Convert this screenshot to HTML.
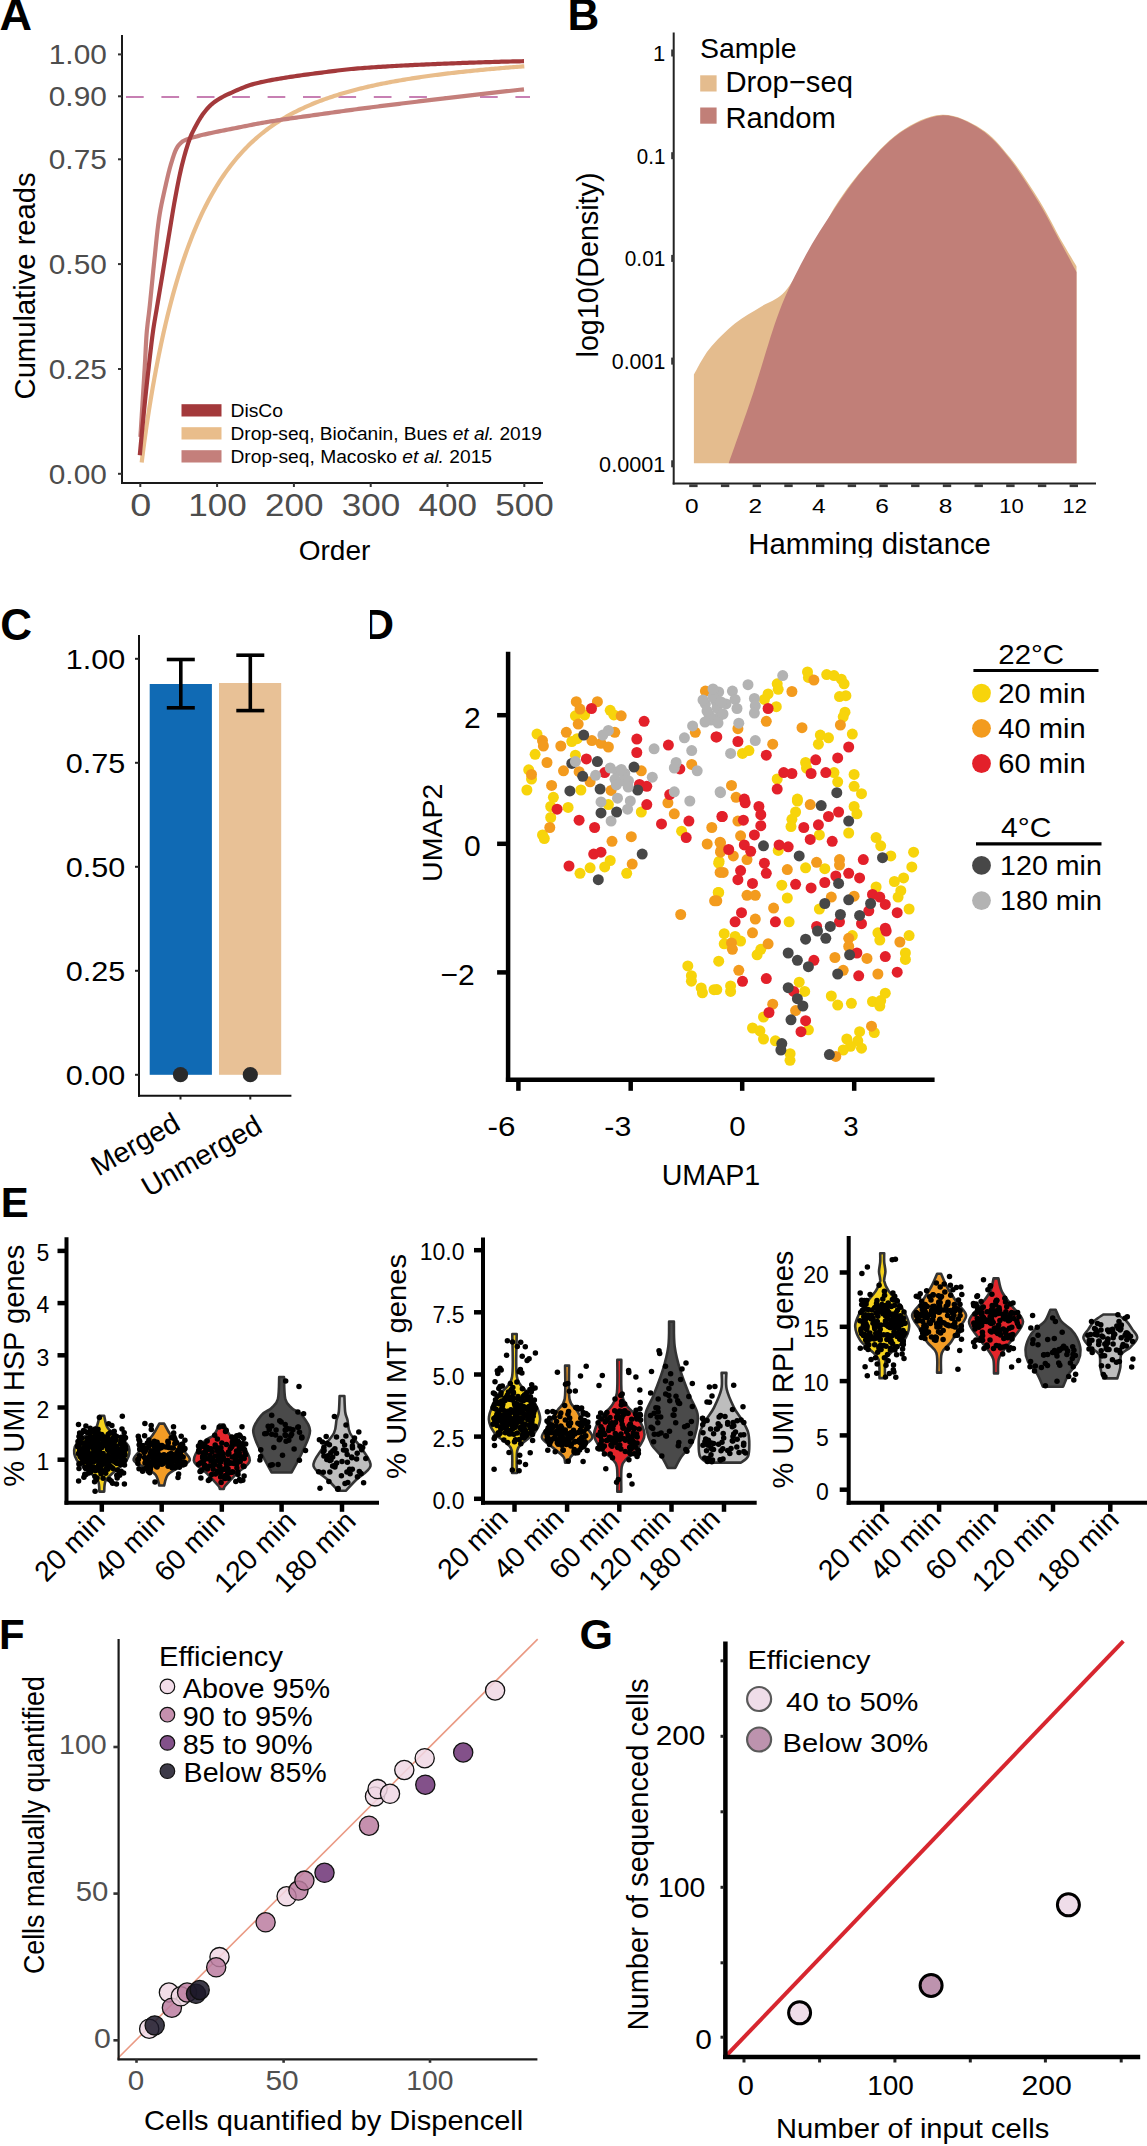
<!DOCTYPE html>
<html><head><meta charset="utf-8"><style>
html,body{margin:0;padding:0;background:#fff;}
svg{display:block;}
text{font-family:"Liberation Sans", sans-serif;}
</style></head><body>
<svg width="1147" height="2146" viewBox="0 0 1147 2146">
<rect width="1147" height="2146" fill="#fff"/>
<text x="-0.5" y="30.3" font-size="45" text-anchor="start" fill="#000" font-weight="bold">A</text>
<line x1="122.0" y1="97.0" x2="530.0" y2="97.0" stroke="#c77fb3" stroke-width="2.2" stroke-dasharray="17.7 17.7" stroke-dashoffset="-4"/>
<path d="M141.68,462.57 L141.86,461.05 L142.05,459.54 L142.23,458.06 L142.41,456.59 L142.59,455.13 L142.77,453.69 L142.96,452.26 L143.14,450.84 L143.32,449.44 L143.50,448.05 L143.68,446.66 L143.87,445.29 L144.05,443.93 L144.23,442.58 L144.41,441.24 L144.59,439.90 L144.78,438.58 L144.96,437.26 L145.14,435.96 L145.32,434.66 L145.50,433.37 L145.69,432.09 L145.87,430.81 L146.05,429.55 L146.23,428.29 L146.41,427.04 L146.60,425.79 L146.78,424.56 L146.96,423.33 L147.14,422.11 L147.32,420.89 L147.51,419.68 L147.69,418.48 L147.87,417.28 L148.05,416.09 L148.23,414.91 L148.42,413.73 L148.60,412.56 L148.78,411.40 L148.96,410.24 L149.14,409.09 L149.33,407.94 L149.51,406.80 L149.69,405.67 L149.87,404.54 L150.05,403.41 L150.24,402.30 L150.42,401.18 L150.60,400.08 L150.78,398.97 L150.96,397.88 L151.15,396.79 L151.33,395.70 L151.51,394.62 L151.69,393.55 L151.87,392.47 L152.06,391.41 L152.24,390.35 L152.42,389.29 L152.60,388.24 L152.78,387.20 L152.97,386.16 L153.15,385.12 L153.33,384.09 L153.51,383.06 L153.69,382.04 L153.88,381.02 L154.06,380.01 L154.24,379.00 L154.42,378.00 L154.60,377.00 L154.79,376.01 L154.97,375.02 L155.15,374.03 L155.33,373.05 L155.51,372.07 L155.70,371.10 L155.88,370.13 L156.06,369.17 L156.24,368.21 L156.42,367.25 L156.61,366.30 L156.79,365.35 L156.97,364.41 L157.15,363.47 L157.33,362.53 L157.52,361.60 L157.70,360.67 L157.88,359.75 L158.06,358.83 L158.24,357.91 L158.43,357.00 L158.61,356.09 L158.79,355.18 L158.97,354.28 L159.15,353.39 L159.34,352.49 L159.52,351.60 L159.70,350.72 L159.88,349.83 L160.06,348.96 L160.25,348.08 L160.43,347.21 L160.61,346.34 L160.79,345.48 L160.97,344.62 L161.16,343.76 L161.34,342.90 L161.52,342.05 L161.70,341.21 L161.88,340.36 L162.07,339.52 L162.25,338.69 L162.43,337.85 L162.61,337.02 L162.79,336.20 L162.98,335.37 L163.16,334.55 L163.34,333.73 L163.72,332.02 L165.54,324.13 L167.35,316.53 L169.16,309.23 L170.97,302.19 L172.78,295.41 L174.60,288.87 L176.41,282.57 L178.22,276.50 L180.03,270.63 L181.84,264.97 L183.66,259.51 L185.47,254.23 L187.28,249.13 L189.09,244.20 L190.90,239.44 L192.72,234.83 L194.53,230.38 L196.34,226.07 L198.15,221.90 L199.96,217.86 L201.77,213.95 L203.59,210.17 L205.40,206.51 L207.21,202.96 L209.02,199.52 L210.83,196.19 L212.65,192.96 L214.46,189.83 L216.27,186.79 L218.08,183.85 L219.89,180.99 L221.71,178.22 L223.52,175.53 L225.33,172.92 L227.14,170.39 L228.95,167.93 L230.77,165.54 L232.58,163.22 L234.39,160.97 L236.20,158.78 L238.01,156.65 L239.83,154.58 L241.64,152.57 L243.45,150.62 L245.26,148.72 L247.07,146.87 L248.89,145.07 L250.70,143.32 L252.51,141.62 L254.32,139.96 L256.13,138.34 L257.94,136.77 L259.76,135.24 L261.57,133.75 L263.38,132.30 L265.19,130.89 L267.00,129.51 L268.82,128.17 L270.63,126.86 L272.44,125.58 L274.25,124.34 L276.06,123.12 L277.88,121.94 L279.69,120.78 L281.50,119.66 L283.31,118.56 L285.12,117.48 L286.94,116.43 L288.75,115.41 L290.56,114.41 L292.37,113.43 L294.18,112.48 L296.00,111.55 L297.81,110.64 L299.62,109.75 L301.43,108.88 L303.24,108.03 L305.06,107.20 L306.87,106.38 L308.68,105.59 L310.49,104.81 L312.30,104.05 L314.11,103.30 L315.93,102.57 L317.74,101.86 L319.55,101.16 L321.36,100.47 L323.17,99.80 L324.99,99.14 L326.80,98.50 L328.61,97.87 L330.42,97.25 L332.23,96.64 L334.05,96.05 L335.86,95.47 L337.67,94.90 L339.48,94.34 L341.29,93.79 L343.11,93.25 L344.92,92.72 L346.73,92.20 L348.54,91.69 L350.35,91.19 L352.17,90.70 L353.98,90.22 L355.79,89.75 L357.60,89.28 L359.41,88.83 L361.23,88.38 L363.04,87.94 L364.85,87.50 L366.66,87.08 L368.47,86.66 L370.29,86.25 L372.10,85.84 L373.91,85.45 L375.72,85.06 L377.53,84.67 L379.34,84.29 L381.16,83.92 L382.97,83.56 L384.78,83.20 L386.59,82.84 L388.40,82.49 L390.22,82.15 L392.03,81.81 L393.84,81.48 L395.65,81.15 L397.46,80.83 L399.28,80.51 L401.09,80.20 L402.90,79.89 L404.71,79.59 L406.52,79.29 L408.34,78.99 L410.15,78.70 L411.96,78.42 L413.77,78.13 L415.58,77.86 L417.40,77.58 L419.21,77.31 L421.02,77.04 L422.83,76.78 L424.64,76.52 L426.46,76.27 L428.27,76.01 L430.08,75.77 L431.89,75.52 L433.70,75.28 L435.51,75.04 L437.33,74.80 L439.14,74.57 L440.95,74.34 L442.76,74.11 L444.57,73.89 L446.39,73.67 L448.20,73.45 L450.01,73.24 L451.82,73.02 L453.63,72.81 L455.45,72.61 L457.26,72.40 L459.07,72.20 L460.88,72.00 L462.69,71.80 L464.51,71.61 L466.32,71.42 L468.13,71.23 L469.94,71.04 L471.75,70.85 L473.57,70.67 L475.38,70.49 L477.19,70.31 L479.00,70.13 L480.81,69.96 L482.63,69.79 L484.44,69.62 L486.25,69.45 L488.06,69.28 L489.87,69.12 L491.69,68.95 L493.50,68.79 L495.31,68.63 L497.12,68.48 L498.93,68.32 L500.74,68.17 L502.56,68.01 L504.37,67.86 L506.18,67.71 L507.99,67.57 L509.80,67.42 L511.62,67.28 L513.43,67.14 L515.24,67.00 L517.05,66.86 L518.86,66.72 L520.68,66.58 L522.49,66.45 L524.30,66.31" fill="none" stroke="#e9bd8b" stroke-width="4.2"/>
<path d="M140.40,437.00 L140.54,434.84 L140.67,432.68 L140.81,430.52 L140.94,428.36 L141.08,426.21 L141.21,424.05 L141.34,421.89 L141.48,419.73 L141.61,417.57 L141.75,415.41 L141.88,413.25 L142.02,411.09 L142.15,408.93 L142.28,406.78 L142.42,404.62 L142.55,402.46 L142.68,400.30 L142.82,398.14 L142.95,395.98 L143.09,393.82 L143.22,391.66 L143.35,389.50 L143.49,387.34 L143.62,385.19 L143.76,383.03 L143.89,380.87 L144.03,378.71 L144.16,376.55 L144.29,374.39 L144.42,372.23 L144.55,370.07 L144.69,367.91 L144.81,365.75 L144.94,363.59 L145.07,361.44 L145.19,359.28 L145.30,357.11 L145.41,354.95 L145.52,352.79 L145.62,350.63 L145.73,348.47 L145.84,346.31 L145.96,344.15 L146.08,341.99 L146.21,339.83 L146.34,337.67 L146.49,335.52 L146.65,333.36 L146.83,331.21 L147.04,329.06 L147.27,326.91 L147.51,324.76 L147.76,322.61 L148.03,320.46 L148.29,318.31 L148.56,316.16 L148.83,314.02 L149.09,311.87 L149.33,309.72 L149.57,307.57 L149.80,305.42 L150.02,303.26 L150.24,301.11 L150.46,298.96 L150.68,296.81 L150.89,294.66 L151.11,292.50 L151.32,290.35 L151.53,288.20 L151.74,286.05 L151.96,283.89 L152.17,281.74 L152.38,279.59 L152.59,277.43 L152.80,275.28 L153.02,273.13 L153.23,270.98 L153.45,268.82 L153.67,266.67 L153.89,264.52 L154.12,262.37 L154.34,260.22 L154.57,258.07 L154.80,255.92 L155.02,253.76 L155.24,251.61 L155.46,249.45 L155.68,247.30 L155.90,245.15 L156.12,242.99 L156.34,240.84 L156.57,238.68 L156.80,236.53 L157.03,234.38 L157.28,232.23 L157.52,230.08 L157.78,227.93 L158.05,225.79 L158.32,223.65 L158.61,221.50 L158.90,219.37 L159.21,217.23 L159.54,215.10 L159.89,212.97 L160.26,210.84 L160.65,208.71 L161.06,206.59 L161.48,204.46 L161.92,202.34 L162.36,200.22 L162.82,198.11 L163.29,195.99 L163.76,193.87 L164.23,191.76 L164.70,189.65 L165.18,187.54 L165.65,185.43 L166.13,183.32 L166.61,181.21 L167.09,179.09 L167.59,176.98 L168.09,174.87 L168.61,172.77 L169.15,170.67 L169.70,168.58 L170.28,166.50 L170.88,164.43 L171.50,162.37 L172.14,160.28 L172.79,158.16 L173.47,156.04 L174.19,153.94 L174.97,151.90 L175.83,149.93 L176.77,148.07 L177.84,146.32 L179.19,144.59 L180.76,142.96 L182.46,141.57 L184.21,140.51 L186.11,139.64 L188.13,138.89 L190.24,138.21 L192.38,137.60 L194.52,137.00 L196.60,136.42 L198.68,135.86 L200.78,135.33 L202.88,134.82 L204.99,134.33 L207.11,133.85 L209.22,133.39 L211.34,132.93 L213.45,132.47 L215.57,132.02 L217.69,131.58 L219.81,131.15 L221.93,130.73 L224.05,130.32 L226.17,129.91 L228.30,129.50 L230.42,129.09 L232.55,128.68 L234.67,128.26 L236.79,127.84 L238.91,127.42 L241.04,126.99 L243.16,126.56 L245.28,126.12 L247.40,125.69 L249.52,125.26 L251.64,124.84 L253.76,124.42 L255.88,124.01 L258.01,123.60 L260.14,123.21 L262.26,122.83 L264.39,122.47 L266.53,122.11 L268.66,121.76 L270.79,121.41 L272.93,121.07 L275.06,120.73 L277.20,120.40 L279.34,120.08 L281.48,119.76 L283.62,119.44 L285.76,119.12 L287.90,118.81 L290.04,118.51 L292.18,118.20 L294.32,117.90 L296.47,117.59 L298.61,117.29 L300.75,116.99 L302.90,116.70 L305.04,116.40 L307.18,116.10 L309.33,115.80 L311.47,115.50 L313.61,115.20 L315.75,114.90 L317.90,114.60 L320.04,114.29 L322.18,113.99 L324.32,113.68 L326.46,113.38 L328.60,113.07 L330.75,112.77 L332.89,112.47 L335.03,112.16 L337.17,111.86 L339.31,111.56 L341.46,111.26 L343.60,110.97 L345.74,110.67 L347.89,110.38 L350.03,110.09 L352.17,109.80 L354.32,109.51 L356.46,109.23 L358.60,108.94 L360.75,108.66 L362.89,108.38 L365.04,108.10 L367.18,107.83 L369.33,107.55 L371.48,107.28 L373.62,107.00 L375.77,106.73 L377.91,106.46 L380.06,106.19 L382.21,105.92 L384.35,105.65 L386.50,105.38 L388.64,105.12 L390.79,104.85 L392.94,104.59 L395.09,104.32 L397.23,104.06 L399.38,103.80 L401.53,103.53 L403.67,103.27 L405.82,103.01 L407.97,102.75 L410.12,102.49 L412.26,102.23 L414.41,101.97 L416.56,101.71 L418.71,101.46 L420.85,101.20 L423.00,100.94 L425.15,100.68 L427.30,100.43 L429.45,100.17 L431.59,99.91 L433.74,99.66 L435.89,99.40 L438.04,99.15 L440.19,98.89 L442.33,98.64 L444.48,98.38 L446.63,98.13 L448.78,97.87 L450.93,97.62 L453.07,97.37 L455.22,97.12 L457.37,96.86 L459.52,96.61 L461.67,96.36 L463.82,96.11 L465.97,95.86 L468.11,95.61 L470.26,95.36 L472.41,95.12 L474.56,94.87 L476.71,94.62 L478.86,94.37 L481.01,94.13 L483.16,93.88 L485.31,93.64 L487.45,93.39 L489.60,93.15 L491.75,92.90 L493.90,92.66 L496.05,92.41 L498.20,92.17 L500.35,91.93 L502.50,91.69 L504.65,91.45 L506.80,91.21 L508.95,90.97 L511.10,90.73 L513.25,90.49 L515.40,90.25 L517.55,90.01 L519.70,89.77 L521.85,89.54 L524.00,89.30" fill="none" stroke="#c47f7b" stroke-width="4.2"/>
<path d="M139.80,455.20 L140.01,452.93 L140.21,450.67 L140.42,448.40 L140.63,446.13 L140.84,443.87 L141.06,441.60 L141.27,439.34 L141.48,437.07 L141.70,434.80 L141.91,432.54 L142.13,430.27 L142.35,428.01 L142.57,425.74 L142.79,423.48 L143.01,421.21 L143.23,418.95 L143.45,416.68 L143.68,414.42 L143.90,412.15 L144.12,409.89 L144.35,407.62 L144.58,405.36 L144.81,403.09 L145.04,400.83 L145.27,398.56 L145.50,396.30 L145.74,394.04 L145.97,391.77 L146.21,389.51 L146.46,387.25 L146.70,384.98 L146.95,382.72 L147.20,380.46 L147.45,378.20 L147.70,375.93 L147.95,373.67 L148.21,371.41 L148.47,369.15 L148.73,366.89 L148.99,364.63 L149.25,362.37 L149.52,360.11 L149.78,357.85 L150.04,355.59 L150.31,353.32 L150.57,351.06 L150.83,348.80 L151.09,346.54 L151.36,344.28 L151.63,342.02 L151.91,339.76 L152.19,337.50 L152.49,335.25 L152.79,332.99 L153.10,330.74 L153.42,328.48 L153.76,326.24 L154.12,323.99 L154.49,321.74 L154.87,319.50 L155.25,317.25 L155.64,315.01 L156.02,312.77 L156.41,310.52 L156.79,308.28 L157.16,306.03 L157.54,303.79 L157.91,301.54 L158.29,299.30 L158.66,297.05 L159.04,294.81 L159.42,292.57 L159.80,290.32 L160.17,288.08 L160.55,285.83 L160.93,283.59 L161.30,281.34 L161.68,279.10 L162.06,276.85 L162.43,274.61 L162.81,272.36 L163.18,270.12 L163.55,267.87 L163.92,265.63 L164.30,263.38 L164.67,261.14 L165.04,258.89 L165.41,256.65 L165.78,254.40 L166.15,252.15 L166.52,249.91 L166.89,247.66 L167.26,245.42 L167.63,243.17 L168.00,240.93 L168.37,238.68 L168.74,236.44 L169.12,234.19 L169.49,231.94 L169.86,229.70 L170.22,227.45 L170.59,225.21 L170.95,222.96 L171.32,220.71 L171.68,218.46 L172.05,216.22 L172.42,213.97 L172.80,211.73 L173.17,209.48 L173.56,207.24 L173.95,205.00 L174.34,202.76 L174.74,200.52 L175.15,198.28 L175.56,196.04 L175.98,193.80 L176.40,191.57 L176.82,189.33 L177.25,187.09 L177.69,184.86 L178.14,182.62 L178.59,180.39 L179.05,178.16 L179.52,175.93 L180.00,173.71 L180.49,171.49 L180.99,169.27 L181.51,167.06 L182.04,164.85 L182.59,162.64 L183.16,160.43 L183.74,158.23 L184.34,156.03 L184.96,153.84 L185.59,151.65 L186.24,149.47 L186.90,147.29 L187.58,145.12 L188.29,142.95 L189.03,140.79 L189.80,138.65 L190.62,136.54 L191.51,134.45 L192.47,132.39 L193.50,130.35 L194.56,128.33 L195.64,126.33 L196.73,124.32 L197.83,122.32 L198.97,120.33 L200.14,118.37 L201.35,116.45 L202.62,114.58 L203.96,112.76 L205.37,110.96 L206.84,109.19 L208.37,107.48 L209.96,105.85 L211.61,104.32 L213.34,102.88 L215.17,101.51 L217.07,100.21 L219.00,98.98 L220.95,97.83 L222.95,96.75 L224.98,95.72 L227.04,94.73 L229.11,93.78 L231.18,92.83 L233.26,91.89 L235.34,90.94 L237.43,90.01 L239.53,89.09 L241.64,88.20 L243.76,87.34 L245.89,86.52 L248.03,85.75 L250.17,85.03 L252.33,84.37 L254.50,83.78 L256.69,83.22 L258.89,82.68 L261.10,82.17 L263.32,81.69 L265.55,81.22 L267.79,80.78 L270.04,80.35 L272.29,79.93 L274.54,79.53 L276.79,79.14 L279.04,78.75 L281.29,78.37 L283.54,77.99 L285.78,77.62 L288.03,77.26 L290.27,76.90 L292.52,76.56 L294.77,76.22 L297.02,75.89 L299.28,75.57 L301.53,75.25 L303.79,74.94 L306.04,74.63 L308.30,74.32 L310.56,74.02 L312.82,73.73 L315.07,73.43 L317.33,73.14 L319.59,72.85 L321.84,72.56 L324.10,72.27 L326.36,71.97 L328.62,71.68 L330.88,71.38 L333.14,71.09 L335.39,70.81 L337.65,70.52 L339.91,70.25 L342.18,69.98 L344.44,69.72 L346.70,69.47 L348.96,69.24 L351.23,69.01 L353.49,68.80 L355.76,68.61 L358.02,68.43 L360.29,68.25 L362.56,68.08 L364.82,67.91 L367.09,67.74 L369.36,67.58 L371.63,67.42 L373.90,67.26 L376.17,67.11 L378.44,66.96 L380.71,66.82 L382.99,66.67 L385.26,66.53 L387.53,66.40 L389.80,66.26 L392.08,66.13 L394.35,66.00 L396.62,65.88 L398.90,65.75 L401.17,65.63 L403.45,65.51 L405.72,65.40 L407.99,65.28 L410.27,65.17 L412.54,65.06 L414.82,64.95 L417.09,64.84 L419.37,64.74 L421.64,64.64 L423.91,64.54 L426.19,64.44 L428.46,64.34 L430.74,64.24 L433.01,64.15 L435.28,64.05 L437.56,63.96 L439.83,63.86 L442.10,63.77 L444.38,63.68 L446.65,63.59 L448.92,63.49 L451.20,63.40 L453.47,63.32 L455.75,63.23 L458.02,63.14 L460.29,63.05 L462.57,62.97 L464.84,62.89 L467.12,62.80 L469.39,62.72 L471.67,62.64 L473.94,62.56 L476.22,62.48 L478.49,62.41 L480.77,62.33 L483.04,62.26 L485.32,62.18 L487.59,62.11 L489.87,62.04 L492.14,61.98 L494.42,61.91 L496.69,61.84 L498.97,61.78 L501.24,61.72 L503.52,61.66 L505.79,61.60 L508.07,61.54 L510.34,61.49 L512.62,61.44 L514.90,61.38 L517.17,61.34 L519.45,61.29 L521.72,61.24 L524.00,61.20" fill="none" stroke="#a3393b" stroke-width="4.2"/>
<line x1="122.0" y1="35.0" x2="122.0" y2="484.0" stroke="#1a1a1a" stroke-width="2"/>
<line x1="121.0" y1="483.0" x2="543.0" y2="483.0" stroke="#1a1a1a" stroke-width="2"/>
<line x1="118.0" y1="54.4" x2="122.0" y2="54.4" stroke="#333" stroke-width="2"/>
<text x="106.8" y="64.4" font-size="28" text-anchor="end" fill="#4d4d4d" textLength="58" lengthAdjust="spacingAndGlyphs">1.00</text>
<line x1="118.0" y1="96.3" x2="122.0" y2="96.3" stroke="#333" stroke-width="2"/>
<text x="106.8" y="106.3" font-size="28" text-anchor="end" fill="#4d4d4d" textLength="58" lengthAdjust="spacingAndGlyphs">0.90</text>
<line x1="118.0" y1="159.3" x2="122.0" y2="159.3" stroke="#333" stroke-width="2"/>
<text x="106.8" y="169.3" font-size="28" text-anchor="end" fill="#4d4d4d" textLength="58" lengthAdjust="spacingAndGlyphs">0.75</text>
<line x1="118.0" y1="264.1" x2="122.0" y2="264.1" stroke="#333" stroke-width="2"/>
<text x="106.8" y="274.1" font-size="28" text-anchor="end" fill="#4d4d4d" textLength="58" lengthAdjust="spacingAndGlyphs">0.50</text>
<line x1="118.0" y1="369.0" x2="122.0" y2="369.0" stroke="#333" stroke-width="2"/>
<text x="106.8" y="379.0" font-size="28" text-anchor="end" fill="#4d4d4d" textLength="58" lengthAdjust="spacingAndGlyphs">0.25</text>
<line x1="118.0" y1="473.8" x2="122.0" y2="473.8" stroke="#333" stroke-width="2"/>
<text x="106.8" y="483.8" font-size="28" text-anchor="end" fill="#4d4d4d" textLength="58" lengthAdjust="spacingAndGlyphs">0.00</text>
<line x1="140.3" y1="483.0" x2="140.3" y2="487.0" stroke="#333" stroke-width="2"/>
<text x="140.8" y="516.0" font-size="32" text-anchor="middle" fill="#4d4d4d" textLength="21" lengthAdjust="spacingAndGlyphs">0</text>
<line x1="217.1" y1="483.0" x2="217.1" y2="487.0" stroke="#333" stroke-width="2"/>
<text x="217.4" y="516.0" font-size="32" text-anchor="middle" fill="#4d4d4d" textLength="58.5" lengthAdjust="spacingAndGlyphs">100</text>
<line x1="293.9" y1="483.0" x2="293.9" y2="487.0" stroke="#333" stroke-width="2"/>
<text x="294.2" y="516.0" font-size="32" text-anchor="middle" fill="#4d4d4d" textLength="58.5" lengthAdjust="spacingAndGlyphs">200</text>
<line x1="370.7" y1="483.0" x2="370.7" y2="487.0" stroke="#333" stroke-width="2"/>
<text x="371.0" y="516.0" font-size="32" text-anchor="middle" fill="#4d4d4d" textLength="58.5" lengthAdjust="spacingAndGlyphs">300</text>
<line x1="447.5" y1="483.0" x2="447.5" y2="487.0" stroke="#333" stroke-width="2"/>
<text x="447.8" y="516.0" font-size="32" text-anchor="middle" fill="#4d4d4d" textLength="58.5" lengthAdjust="spacingAndGlyphs">400</text>
<line x1="524.3" y1="483.0" x2="524.3" y2="487.0" stroke="#333" stroke-width="2"/>
<text x="524.6" y="516.0" font-size="32" text-anchor="middle" fill="#4d4d4d" textLength="58.5" lengthAdjust="spacingAndGlyphs">500</text>
<text x="334.5" y="560.0" font-size="28" text-anchor="middle" fill="#000">Order</text>
<text x="34.6" y="285.9" font-size="29.2" text-anchor="middle" fill="#000" transform="rotate(-90 34.6 285.9)">Cumulative reads</text>
<rect x="181.5" y="404.2" width="40.0" height="12.3" fill="#a3393b"/>
<text x="230.5" y="416.5" font-size="18.3" text-anchor="start" fill="#000" textLength="52.5" lengthAdjust="spacingAndGlyphs">DisCo</text>
<rect x="181.5" y="427.2" width="40.0" height="12.3" fill="#e9bd8b"/>
<text x="230.5" y="439.5" font-size="18.3" text-anchor="start" fill="#000" textLength="311.5" lengthAdjust="spacingAndGlyphs">Drop-seq, Biočanin, Bues <tspan font-style="italic">et al.</tspan> 2019</text>
<rect x="181.5" y="450.2" width="40.0" height="12.3" fill="#c47f7b"/>
<text x="230.5" y="462.5" font-size="18.3" text-anchor="start" fill="#000" textLength="261.5" lengthAdjust="spacingAndGlyphs">Drop-seq, Macosko <tspan font-style="italic">et al.</tspan> 2015</text>
<text x="567.5" y="30.3" font-size="44" text-anchor="start" fill="#000" font-weight="bold">B</text>
<path d="M693.9,463.3 L693.9,374.6 C696.5,370.3 702.5,357.5 709.3,349.0 C716.1,340.5 726.3,330.4 734.9,323.4 C743.5,316.4 752.7,311.8 760.6,306.9 C768.5,302.0 775.8,300.4 782.5,294.0 C789.2,287.6 795.3,276.3 800.8,268.4 C806.3,260.5 810.0,256.5 815.5,246.5 C821.0,236.5 825.9,221.5 833.8,208.6 C841.7,195.7 852.1,181.5 863.1,168.8 C874.1,156.1 886.6,141.3 899.7,132.3 C912.8,123.3 928.2,115.4 941.8,114.8 C955.3,114.2 969.6,121.6 981.0,128.7 C992.4,135.8 1000.2,145.4 1010.0,157.5 C1019.8,169.6 1031.0,187.2 1039.6,201.0 C1048.1,214.8 1055.1,229.6 1061.3,240.5 C1067.5,251.4 1074.0,261.9 1076.5,266.2 L1076.5,463.3 Z" fill="#e4bc8e"/>
<path d="M728.7,463.3 C732.8,451.6 744.8,418.0 753.2,392.9 C761.6,367.8 770.4,335.0 778.9,312.4 C787.4,289.8 795.4,274.5 804.5,257.4 C813.6,240.3 824.0,224.4 833.8,209.8 C843.6,195.2 852.1,182.4 863.1,169.6 C874.1,156.8 886.6,142.0 899.7,133.0 C912.8,124.0 928.4,116.0 941.8,115.4 C955.2,114.8 969.0,122.1 980.3,129.3 C991.6,136.5 999.8,146.4 1009.5,158.6 C1019.2,170.8 1030.2,188.5 1038.8,202.5 C1047.3,216.5 1054.5,231.2 1060.8,242.8 C1067.1,254.4 1073.9,267.1 1076.5,272.0 L1076.5,463.3 Z" fill="#c17f78"/>
<line x1="673.7" y1="32.4" x2="673.7" y2="484.5" stroke="#222" stroke-width="2"/>
<line x1="672.7" y1="483.5" x2="1096.0" y2="483.5" stroke="#222" stroke-width="2"/>
<rect x="671.2" y="49.5" width="2.8" height="7.0" fill="#333"/>
<text x="665.3" y="61.0" font-size="22" text-anchor="end" fill="#000">1</text>
<rect x="671.2" y="152.2" width="2.8" height="7.0" fill="#333"/>
<text x="665.3" y="163.7" font-size="22" text-anchor="end" fill="#000" textLength="28.5" lengthAdjust="spacingAndGlyphs">0.1</text>
<rect x="671.2" y="254.9" width="2.8" height="7.0" fill="#333"/>
<text x="665.3" y="266.4" font-size="22" text-anchor="end" fill="#000" textLength="40.5" lengthAdjust="spacingAndGlyphs">0.01</text>
<rect x="671.2" y="357.6" width="2.8" height="7.0" fill="#333"/>
<text x="665.3" y="369.1" font-size="22" text-anchor="end" fill="#000" textLength="53.5" lengthAdjust="spacingAndGlyphs">0.001</text>
<rect x="671.2" y="460.3" width="2.8" height="7.0" fill="#333"/>
<text x="665.3" y="471.8" font-size="22" text-anchor="end" fill="#000" textLength="66.2" lengthAdjust="spacingAndGlyphs">0.0001</text>
<rect x="689.2" y="484.3" width="8.4" height="2.8" fill="#3a3a3a"/>
<text x="691.9" y="512.5" font-size="20.5" text-anchor="middle" fill="#000" textLength="13.6" lengthAdjust="spacingAndGlyphs">0</text>
<rect x="720.9" y="484.3" width="8.4" height="2.8" fill="#3a3a3a"/>
<rect x="752.6" y="484.3" width="8.4" height="2.8" fill="#3a3a3a"/>
<text x="755.3" y="512.5" font-size="20.5" text-anchor="middle" fill="#000" textLength="13.6" lengthAdjust="spacingAndGlyphs">2</text>
<rect x="784.3" y="484.3" width="8.4" height="2.8" fill="#3a3a3a"/>
<rect x="816.0" y="484.3" width="8.4" height="2.8" fill="#3a3a3a"/>
<text x="818.7" y="512.5" font-size="20.5" text-anchor="middle" fill="#000" textLength="13.6" lengthAdjust="spacingAndGlyphs">4</text>
<rect x="847.7" y="484.3" width="8.4" height="2.8" fill="#3a3a3a"/>
<rect x="879.4" y="484.3" width="8.4" height="2.8" fill="#3a3a3a"/>
<text x="882.1" y="512.5" font-size="20.5" text-anchor="middle" fill="#000" textLength="13.6" lengthAdjust="spacingAndGlyphs">6</text>
<rect x="911.1" y="484.3" width="8.4" height="2.8" fill="#3a3a3a"/>
<rect x="942.8" y="484.3" width="8.4" height="2.8" fill="#3a3a3a"/>
<text x="945.5" y="512.5" font-size="20.5" text-anchor="middle" fill="#000" textLength="13.6" lengthAdjust="spacingAndGlyphs">8</text>
<rect x="974.5" y="484.3" width="8.4" height="2.8" fill="#3a3a3a"/>
<rect x="1006.2" y="484.3" width="8.4" height="2.8" fill="#3a3a3a"/>
<text x="1011.4" y="512.5" font-size="20.5" text-anchor="middle" fill="#000" textLength="24.5" lengthAdjust="spacingAndGlyphs">10</text>
<rect x="1037.9" y="484.3" width="8.4" height="2.8" fill="#3a3a3a"/>
<rect x="1069.6" y="484.3" width="8.4" height="2.8" fill="#3a3a3a"/>
<text x="1074.8" y="512.5" font-size="20.5" text-anchor="middle" fill="#000" textLength="24.5" lengthAdjust="spacingAndGlyphs">12</text>
<text x="869.6" y="554.2" font-size="29.3" text-anchor="middle" fill="#000">Hamming distance</text>
<rect x="570.0" y="557.5" width="577.0" height="20.0" fill="#fff"/>
<text x="597.6" y="265.0" font-size="28.7" text-anchor="middle" fill="#000" transform="rotate(-90 597.6 265.0)">log10(Density)</text>
<text x="700.0" y="57.5" font-size="28.5" text-anchor="start" fill="#000">Sample</text>
<rect x="700.2" y="75.3" width="16.4" height="16.2" fill="#e4bc8e"/>
<text x="725.5" y="91.5" font-size="29.2" text-anchor="start" fill="#000">Drop−seq</text>
<rect x="700.2" y="107.5" width="16.4" height="16.2" fill="#c17f78"/>
<text x="725.5" y="127.5" font-size="29.2" text-anchor="start" fill="#000">Random</text>
<text x="0.2" y="639.6" font-size="44" text-anchor="start" fill="#000" font-weight="bold">C</text>
<rect x="149.7" y="684.0" width="62.2" height="390.8" fill="#106ab4"/>
<rect x="219.0" y="683.0" width="62.2" height="391.8" fill="#e8c196"/>
<line x1="180.8" y1="659.5" x2="180.8" y2="707.8" stroke="#000" stroke-width="3.6"/>
<line x1="166.8" y1="659.5" x2="194.8" y2="659.5" stroke="#000" stroke-width="3.6"/>
<line x1="166.8" y1="707.8" x2="194.8" y2="707.8" stroke="#000" stroke-width="3.6"/>
<line x1="250.3" y1="655.2" x2="250.3" y2="710.6" stroke="#000" stroke-width="3.6"/>
<line x1="236.3" y1="655.2" x2="264.3" y2="655.2" stroke="#000" stroke-width="3.6"/>
<line x1="236.3" y1="710.6" x2="264.3" y2="710.6" stroke="#000" stroke-width="3.6"/>
<circle cx="180.5" cy="1074.7" r="7.6" fill="#2a2a2a"/>
<circle cx="250.3" cy="1074.7" r="7.6" fill="#2a2a2a"/>
<line x1="139.0" y1="635.0" x2="139.0" y2="1096.7" stroke="#111" stroke-width="2"/>
<line x1="138.0" y1="1095.7" x2="291.4" y2="1095.7" stroke="#111" stroke-width="2"/>
<line x1="135.0" y1="658.8" x2="139.0" y2="658.8" stroke="#222" stroke-width="2"/>
<text x="125.2" y="668.8" font-size="28" text-anchor="end" fill="#000" textLength="59.5" lengthAdjust="spacingAndGlyphs">1.00</text>
<line x1="135.0" y1="762.8" x2="139.0" y2="762.8" stroke="#222" stroke-width="2"/>
<text x="125.2" y="772.8" font-size="28" text-anchor="end" fill="#000" textLength="59.5" lengthAdjust="spacingAndGlyphs">0.75</text>
<line x1="135.0" y1="866.8" x2="139.0" y2="866.8" stroke="#222" stroke-width="2"/>
<text x="125.2" y="876.8" font-size="28" text-anchor="end" fill="#000" textLength="59.5" lengthAdjust="spacingAndGlyphs">0.50</text>
<line x1="135.0" y1="970.8" x2="139.0" y2="970.8" stroke="#222" stroke-width="2"/>
<text x="125.2" y="980.8" font-size="28" text-anchor="end" fill="#000" textLength="59.5" lengthAdjust="spacingAndGlyphs">0.25</text>
<line x1="135.0" y1="1074.8" x2="139.0" y2="1074.8" stroke="#222" stroke-width="2"/>
<text x="125.2" y="1084.8" font-size="28" text-anchor="end" fill="#000" textLength="59.5" lengthAdjust="spacingAndGlyphs">0.00</text>
<line x1="180.5" y1="1095.7" x2="180.5" y2="1099.5" stroke="#222" stroke-width="2"/>
<line x1="250.3" y1="1095.7" x2="250.3" y2="1099.5" stroke="#222" stroke-width="2"/>
<text x="182.0" y="1128.5" font-size="28.5" text-anchor="end" fill="#000" transform="rotate(-30 182.0 1128.5)">Merged</text>
<text x="264.0" y="1131.0" font-size="28.5" text-anchor="end" fill="#000" transform="rotate(-30 264.0 1131.0)">Unmerged</text>
<clipPath id="cD"><rect x="370" y="590" width="100" height="80"/></clipPath>
<text x="363.0" y="639.3" font-size="43" text-anchor="start" fill="#000" font-weight="bold" clip-path="url(#cD)">D</text>
<circle cx="610.2" cy="710.3" r="5.5" fill="#f7d40b"/>
<circle cx="613.9" cy="714.9" r="5.5" fill="#f7d40b"/>
<circle cx="575.4" cy="715.8" r="5.5" fill="#f7d40b"/>
<circle cx="584.6" cy="714.9" r="5.5" fill="#f7d40b"/>
<circle cx="537.0" cy="734.1" r="5.5" fill="#f7d40b"/>
<circle cx="535.1" cy="754.3" r="5.5" fill="#f7d40b"/>
<circle cx="571.8" cy="741.5" r="5.5" fill="#f7d40b"/>
<circle cx="577.2" cy="738.7" r="5.5" fill="#f7d40b"/>
<circle cx="575.4" cy="755.2" r="5.5" fill="#f7d40b"/>
<circle cx="528.7" cy="769.8" r="5.5" fill="#f7d40b"/>
<circle cx="526.9" cy="790.0" r="5.5" fill="#f7d40b"/>
<circle cx="531.5" cy="779.0" r="5.5" fill="#f7d40b"/>
<circle cx="580.9" cy="790.0" r="5.5" fill="#f7d40b"/>
<circle cx="553.4" cy="797.3" r="5.5" fill="#f7d40b"/>
<circle cx="777.2" cy="683.8" r="5.5" fill="#f7d40b"/>
<circle cx="778.2" cy="689.3" r="5.5" fill="#f7d40b"/>
<circle cx="768.1" cy="693.9" r="5.5" fill="#f7d40b"/>
<circle cx="764.4" cy="699.4" r="5.5" fill="#f7d40b"/>
<circle cx="776.3" cy="706.7" r="5.5" fill="#f7d40b"/>
<circle cx="742.5" cy="753.4" r="5.5" fill="#f7d40b"/>
<circle cx="748.9" cy="750.6" r="5.5" fill="#f7d40b"/>
<circle cx="807.5" cy="671.9" r="5.5" fill="#f7d40b"/>
<circle cx="808.4" cy="677.4" r="5.5" fill="#f7d40b"/>
<circle cx="826.7" cy="674.6" r="5.5" fill="#f7d40b"/>
<circle cx="834.0" cy="675.6" r="5.5" fill="#f7d40b"/>
<circle cx="841.3" cy="679.2" r="5.5" fill="#f7d40b"/>
<circle cx="844.1" cy="683.8" r="5.5" fill="#f7d40b"/>
<circle cx="839.5" cy="696.6" r="5.5" fill="#f7d40b"/>
<circle cx="845.9" cy="695.7" r="5.5" fill="#f7d40b"/>
<circle cx="845.0" cy="712.2" r="5.5" fill="#f7d40b"/>
<circle cx="843.2" cy="716.8" r="5.5" fill="#f7d40b"/>
<circle cx="852.3" cy="734.1" r="5.5" fill="#f7d40b"/>
<circle cx="820.3" cy="735.1" r="5.5" fill="#f7d40b"/>
<circle cx="828.5" cy="737.8" r="5.5" fill="#f7d40b"/>
<circle cx="818.4" cy="744.2" r="5.5" fill="#f7d40b"/>
<circle cx="805.6" cy="762.5" r="5.5" fill="#f7d40b"/>
<circle cx="806.5" cy="768.0" r="5.5" fill="#f7d40b"/>
<circle cx="834.0" cy="772.6" r="5.5" fill="#f7d40b"/>
<circle cx="837.7" cy="781.8" r="5.5" fill="#f7d40b"/>
<circle cx="777.2" cy="779.0" r="5.5" fill="#f7d40b"/>
<circle cx="854.1" cy="774.4" r="5.5" fill="#f7d40b"/>
<circle cx="854.1" cy="786.3" r="5.5" fill="#f7d40b"/>
<circle cx="861.5" cy="793.7" r="5.5" fill="#f7d40b"/>
<circle cx="797.4" cy="799.1" r="5.5" fill="#f7d40b"/>
<circle cx="550.7" cy="806.5" r="5.5" fill="#f7d40b"/>
<circle cx="568.1" cy="807.4" r="5.5" fill="#f7d40b"/>
<circle cx="550.7" cy="817.5" r="5.5" fill="#f7d40b"/>
<circle cx="542.5" cy="834.9" r="5.5" fill="#f7d40b"/>
<circle cx="544.3" cy="838.5" r="5.5" fill="#f7d40b"/>
<circle cx="608.4" cy="804.6" r="5.5" fill="#f7d40b"/>
<circle cx="641.3" cy="812.0" r="5.5" fill="#f7d40b"/>
<circle cx="681.6" cy="831.2" r="5.5" fill="#f7d40b"/>
<circle cx="610.2" cy="860.5" r="5.5" fill="#f7d40b"/>
<circle cx="604.7" cy="866.9" r="5.5" fill="#f7d40b"/>
<circle cx="590.1" cy="867.8" r="5.5" fill="#f7d40b"/>
<circle cx="580.0" cy="873.3" r="5.5" fill="#f7d40b"/>
<circle cx="626.7" cy="873.3" r="5.5" fill="#f7d40b"/>
<circle cx="719.1" cy="861.4" r="5.5" fill="#f7d40b"/>
<circle cx="718.2" cy="892.5" r="5.5" fill="#f7d40b"/>
<circle cx="778.2" cy="850.4" r="5.5" fill="#f7d40b"/>
<circle cx="797.4" cy="801.0" r="5.5" fill="#f7d40b"/>
<circle cx="795.6" cy="812.0" r="5.5" fill="#f7d40b"/>
<circle cx="791.9" cy="819.3" r="5.5" fill="#f7d40b"/>
<circle cx="791.0" cy="826.6" r="5.5" fill="#f7d40b"/>
<circle cx="819.4" cy="834.9" r="5.5" fill="#f7d40b"/>
<circle cx="854.1" cy="806.5" r="5.5" fill="#f7d40b"/>
<circle cx="856.9" cy="813.8" r="5.5" fill="#f7d40b"/>
<circle cx="848.7" cy="833.0" r="5.5" fill="#f7d40b"/>
<circle cx="876.1" cy="837.6" r="5.5" fill="#f7d40b"/>
<circle cx="880.7" cy="845.8" r="5.5" fill="#f7d40b"/>
<circle cx="890.8" cy="855.9" r="5.5" fill="#f7d40b"/>
<circle cx="913.6" cy="852.2" r="5.5" fill="#f7d40b"/>
<circle cx="911.8" cy="866.9" r="5.5" fill="#f7d40b"/>
<circle cx="718.7" cy="863.2" r="5.5" fill="#f7d40b"/>
<circle cx="805.6" cy="867.8" r="5.5" fill="#f7d40b"/>
<circle cx="824.8" cy="868.7" r="5.5" fill="#f7d40b"/>
<circle cx="781.8" cy="885.2" r="5.5" fill="#f7d40b"/>
<circle cx="718.7" cy="892.5" r="5.5" fill="#f7d40b"/>
<circle cx="787.3" cy="898.0" r="5.5" fill="#f7d40b"/>
<circle cx="819.4" cy="909.0" r="5.5" fill="#f7d40b"/>
<circle cx="876.1" cy="887.0" r="5.5" fill="#f7d40b"/>
<circle cx="894.4" cy="881.5" r="5.5" fill="#f7d40b"/>
<circle cx="903.6" cy="877.9" r="5.5" fill="#f7d40b"/>
<circle cx="900.8" cy="890.7" r="5.5" fill="#f7d40b"/>
<circle cx="898.1" cy="897.1" r="5.5" fill="#f7d40b"/>
<circle cx="909.1" cy="909.0" r="5.5" fill="#f7d40b"/>
<circle cx="789.1" cy="921.8" r="5.5" fill="#f7d40b"/>
<circle cx="724.2" cy="933.7" r="5.5" fill="#f7d40b"/>
<circle cx="735.1" cy="936.5" r="5.5" fill="#f7d40b"/>
<circle cx="740.6" cy="941.1" r="5.5" fill="#f7d40b"/>
<circle cx="724.2" cy="943.8" r="5.5" fill="#f7d40b"/>
<circle cx="760.8" cy="949.3" r="5.5" fill="#f7d40b"/>
<circle cx="757.1" cy="954.8" r="5.5" fill="#f7d40b"/>
<circle cx="718.7" cy="961.2" r="5.5" fill="#f7d40b"/>
<circle cx="730.6" cy="985.9" r="5.5" fill="#f7d40b"/>
<circle cx="730.6" cy="991.4" r="5.5" fill="#f7d40b"/>
<circle cx="716.8" cy="989.6" r="5.5" fill="#f7d40b"/>
<circle cx="799.2" cy="982.2" r="5.5" fill="#f7d40b"/>
<circle cx="804.7" cy="991.4" r="5.5" fill="#f7d40b"/>
<circle cx="763.5" cy="1017.0" r="5.5" fill="#f7d40b"/>
<circle cx="808.4" cy="1029.8" r="5.5" fill="#f7d40b"/>
<circle cx="752.5" cy="1028.0" r="5.5" fill="#f7d40b"/>
<circle cx="759.9" cy="1030.8" r="5.5" fill="#f7d40b"/>
<circle cx="763.5" cy="1039.0" r="5.5" fill="#f7d40b"/>
<circle cx="775.4" cy="1040.8" r="5.5" fill="#f7d40b"/>
<circle cx="790.1" cy="1053.7" r="5.5" fill="#f7d40b"/>
<circle cx="852.3" cy="935.6" r="5.5" fill="#f7d40b"/>
<circle cx="877.9" cy="932.8" r="5.5" fill="#f7d40b"/>
<circle cx="879.8" cy="940.1" r="5.5" fill="#f7d40b"/>
<circle cx="909.1" cy="935.6" r="5.5" fill="#f7d40b"/>
<circle cx="905.4" cy="953.0" r="5.5" fill="#f7d40b"/>
<circle cx="905.4" cy="959.4" r="5.5" fill="#f7d40b"/>
<circle cx="831.3" cy="996.0" r="5.5" fill="#f7d40b"/>
<circle cx="837.7" cy="1005.1" r="5.5" fill="#f7d40b"/>
<circle cx="851.4" cy="1003.3" r="5.5" fill="#f7d40b"/>
<circle cx="872.5" cy="1001.5" r="5.5" fill="#f7d40b"/>
<circle cx="879.8" cy="1006.0" r="5.5" fill="#f7d40b"/>
<circle cx="885.3" cy="993.2" r="5.5" fill="#f7d40b"/>
<circle cx="880.7" cy="1000.6" r="5.5" fill="#f7d40b"/>
<circle cx="874.3" cy="1032.6" r="5.5" fill="#f7d40b"/>
<circle cx="859.6" cy="1031.7" r="5.5" fill="#f7d40b"/>
<circle cx="857.8" cy="1040.8" r="5.5" fill="#f7d40b"/>
<circle cx="846.8" cy="1039.0" r="5.5" fill="#f7d40b"/>
<circle cx="850.5" cy="1046.3" r="5.5" fill="#f7d40b"/>
<circle cx="861.5" cy="1048.2" r="5.5" fill="#f7d40b"/>
<circle cx="843.2" cy="1050.0" r="5.5" fill="#f7d40b"/>
<circle cx="687.8" cy="965.9" r="5.5" fill="#f7d40b"/>
<circle cx="691.4" cy="975.7" r="5.5" fill="#f7d40b"/>
<circle cx="691.4" cy="981.2" r="5.5" fill="#f7d40b"/>
<circle cx="701.2" cy="987.9" r="5.5" fill="#f7d40b"/>
<circle cx="702.4" cy="992.8" r="5.5" fill="#f7d40b"/>
<circle cx="714.0" cy="989.7" r="5.5" fill="#f7d40b"/>
<circle cx="790.0" cy="1060.3" r="5.5" fill="#f7d40b"/>
<circle cx="576.3" cy="701.7" r="5.5" fill="#f39b1e"/>
<circle cx="597.4" cy="701.7" r="5.5" fill="#f39b1e"/>
<circle cx="580.0" cy="709.1" r="5.5" fill="#f39b1e"/>
<circle cx="621.2" cy="715.8" r="5.5" fill="#f39b1e"/>
<circle cx="578.2" cy="724.1" r="5.5" fill="#f39b1e"/>
<circle cx="542.5" cy="740.6" r="5.5" fill="#f39b1e"/>
<circle cx="543.4" cy="746.0" r="5.5" fill="#f39b1e"/>
<circle cx="566.3" cy="732.3" r="5.5" fill="#f39b1e"/>
<circle cx="614.8" cy="732.3" r="5.5" fill="#f39b1e"/>
<circle cx="695.3" cy="732.3" r="5.5" fill="#f39b1e"/>
<circle cx="705.4" cy="691.1" r="5.5" fill="#f39b1e"/>
<circle cx="560.8" cy="746.0" r="5.5" fill="#f39b1e"/>
<circle cx="591.9" cy="740.6" r="5.5" fill="#f39b1e"/>
<circle cx="601.0" cy="743.3" r="5.5" fill="#f39b1e"/>
<circle cx="608.4" cy="747.0" r="5.5" fill="#f39b1e"/>
<circle cx="547.0" cy="762.5" r="5.5" fill="#f39b1e"/>
<circle cx="641.3" cy="770.8" r="5.5" fill="#f39b1e"/>
<circle cx="691.7" cy="764.4" r="5.5" fill="#f39b1e"/>
<circle cx="531.5" cy="774.4" r="5.5" fill="#f39b1e"/>
<circle cx="563.5" cy="770.8" r="5.5" fill="#f39b1e"/>
<circle cx="579.1" cy="771.7" r="5.5" fill="#f39b1e"/>
<circle cx="551.6" cy="785.4" r="5.5" fill="#f39b1e"/>
<circle cx="590.1" cy="781.8" r="5.5" fill="#f39b1e"/>
<circle cx="611.1" cy="790.4" r="5.5" fill="#f39b1e"/>
<circle cx="791.9" cy="691.5" r="5.5" fill="#f39b1e"/>
<circle cx="766.3" cy="721.3" r="5.5" fill="#f39b1e"/>
<circle cx="737.9" cy="728.7" r="5.5" fill="#f39b1e"/>
<circle cx="772.7" cy="744.2" r="5.5" fill="#f39b1e"/>
<circle cx="813.9" cy="680.1" r="5.5" fill="#f39b1e"/>
<circle cx="802.0" cy="727.7" r="5.5" fill="#f39b1e"/>
<circle cx="840.4" cy="725.0" r="5.5" fill="#f39b1e"/>
<circle cx="731.5" cy="785.4" r="5.5" fill="#f39b1e"/>
<circle cx="736.1" cy="797.3" r="5.5" fill="#f39b1e"/>
<circle cx="549.8" cy="827.5" r="5.5" fill="#f39b1e"/>
<circle cx="667.9" cy="802.8" r="5.5" fill="#f39b1e"/>
<circle cx="674.3" cy="813.8" r="5.5" fill="#f39b1e"/>
<circle cx="711.8" cy="827.5" r="5.5" fill="#f39b1e"/>
<circle cx="707.2" cy="844.0" r="5.5" fill="#f39b1e"/>
<circle cx="720.1" cy="842.2" r="5.5" fill="#f39b1e"/>
<circle cx="721.0" cy="850.4" r="5.5" fill="#f39b1e"/>
<circle cx="612.0" cy="841.3" r="5.5" fill="#f39b1e"/>
<circle cx="631.3" cy="836.7" r="5.5" fill="#f39b1e"/>
<circle cx="632.2" cy="864.1" r="5.5" fill="#f39b1e"/>
<circle cx="720.1" cy="872.4" r="5.5" fill="#f39b1e"/>
<circle cx="714.6" cy="900.8" r="5.5" fill="#f39b1e"/>
<circle cx="680.7" cy="914.5" r="5.5" fill="#f39b1e"/>
<circle cx="737.9" cy="821.1" r="5.5" fill="#f39b1e"/>
<circle cx="740.6" cy="835.8" r="5.5" fill="#f39b1e"/>
<circle cx="720.5" cy="843.1" r="5.5" fill="#f39b1e"/>
<circle cx="720.5" cy="852.2" r="5.5" fill="#f39b1e"/>
<circle cx="733.3" cy="855.9" r="5.5" fill="#f39b1e"/>
<circle cx="747.0" cy="859.6" r="5.5" fill="#f39b1e"/>
<circle cx="810.2" cy="804.6" r="5.5" fill="#f39b1e"/>
<circle cx="723.2" cy="872.4" r="5.5" fill="#f39b1e"/>
<circle cx="787.3" cy="869.6" r="5.5" fill="#f39b1e"/>
<circle cx="816.6" cy="862.3" r="5.5" fill="#f39b1e"/>
<circle cx="839.5" cy="859.6" r="5.5" fill="#f39b1e"/>
<circle cx="839.5" cy="865.1" r="5.5" fill="#f39b1e"/>
<circle cx="716.8" cy="900.8" r="5.5" fill="#f39b1e"/>
<circle cx="747.0" cy="895.3" r="5.5" fill="#f39b1e"/>
<circle cx="755.3" cy="895.3" r="5.5" fill="#f39b1e"/>
<circle cx="773.6" cy="908.1" r="5.5" fill="#f39b1e"/>
<circle cx="831.3" cy="897.1" r="5.5" fill="#f39b1e"/>
<circle cx="854.1" cy="896.2" r="5.5" fill="#f39b1e"/>
<circle cx="755.3" cy="919.1" r="5.5" fill="#f39b1e"/>
<circle cx="731.5" cy="942.9" r="5.5" fill="#f39b1e"/>
<circle cx="732.4" cy="949.3" r="5.5" fill="#f39b1e"/>
<circle cx="752.5" cy="932.8" r="5.5" fill="#f39b1e"/>
<circle cx="768.1" cy="943.8" r="5.5" fill="#f39b1e"/>
<circle cx="738.8" cy="970.3" r="5.5" fill="#f39b1e"/>
<circle cx="795.6" cy="1010.6" r="5.5" fill="#f39b1e"/>
<circle cx="772.7" cy="1004.2" r="5.5" fill="#f39b1e"/>
<circle cx="835.8" cy="1056.4" r="5.5" fill="#f39b1e"/>
<circle cx="848.7" cy="938.3" r="5.5" fill="#f39b1e"/>
<circle cx="848.7" cy="946.5" r="5.5" fill="#f39b1e"/>
<circle cx="834.9" cy="957.5" r="5.5" fill="#f39b1e"/>
<circle cx="867.0" cy="958.4" r="5.5" fill="#f39b1e"/>
<circle cx="843.2" cy="970.3" r="5.5" fill="#f39b1e"/>
<circle cx="877.9" cy="974.0" r="5.5" fill="#f39b1e"/>
<circle cx="899.9" cy="942.0" r="5.5" fill="#f39b1e"/>
<circle cx="871.5" cy="1026.2" r="5.5" fill="#f39b1e"/>
<circle cx="591.5" cy="708.5" r="5.5" fill="#e3202a"/>
<circle cx="644.1" cy="721.3" r="5.5" fill="#e3202a"/>
<circle cx="636.8" cy="739.1" r="5.5" fill="#e3202a"/>
<circle cx="668.4" cy="745.1" r="5.5" fill="#e3202a"/>
<circle cx="716.0" cy="736.9" r="5.5" fill="#e3202a"/>
<circle cx="636.8" cy="752.5" r="5.5" fill="#e3202a"/>
<circle cx="586.4" cy="758.9" r="5.5" fill="#e3202a"/>
<circle cx="679.8" cy="768.9" r="5.5" fill="#e3202a"/>
<circle cx="604.7" cy="772.6" r="5.5" fill="#e3202a"/>
<circle cx="639.5" cy="784.5" r="5.5" fill="#e3202a"/>
<circle cx="646.8" cy="786.3" r="5.5" fill="#e3202a"/>
<circle cx="669.7" cy="794.6" r="5.5" fill="#e3202a"/>
<circle cx="768.1" cy="708.5" r="5.5" fill="#e3202a"/>
<circle cx="716.8" cy="736.9" r="5.5" fill="#e3202a"/>
<circle cx="737.9" cy="741.5" r="5.5" fill="#e3202a"/>
<circle cx="766.3" cy="755.2" r="5.5" fill="#e3202a"/>
<circle cx="848.7" cy="747.0" r="5.5" fill="#e3202a"/>
<circle cx="837.7" cy="757.9" r="5.5" fill="#e3202a"/>
<circle cx="815.7" cy="759.8" r="5.5" fill="#e3202a"/>
<circle cx="783.7" cy="772.6" r="5.5" fill="#e3202a"/>
<circle cx="791.9" cy="773.5" r="5.5" fill="#e3202a"/>
<circle cx="811.1" cy="773.5" r="5.5" fill="#e3202a"/>
<circle cx="825.8" cy="772.6" r="5.5" fill="#e3202a"/>
<circle cx="777.2" cy="789.1" r="5.5" fill="#e3202a"/>
<circle cx="744.3" cy="799.1" r="5.5" fill="#e3202a"/>
<circle cx="557.1" cy="809.2" r="5.5" fill="#e3202a"/>
<circle cx="579.1" cy="820.2" r="5.5" fill="#e3202a"/>
<circle cx="594.6" cy="827.5" r="5.5" fill="#e3202a"/>
<circle cx="646.8" cy="804.6" r="5.5" fill="#e3202a"/>
<circle cx="661.5" cy="823.9" r="5.5" fill="#e3202a"/>
<circle cx="688.9" cy="821.1" r="5.5" fill="#e3202a"/>
<circle cx="721.9" cy="816.5" r="5.5" fill="#e3202a"/>
<circle cx="686.2" cy="837.6" r="5.5" fill="#e3202a"/>
<circle cx="593.7" cy="854.1" r="5.5" fill="#e3202a"/>
<circle cx="601.0" cy="852.2" r="5.5" fill="#e3202a"/>
<circle cx="569.0" cy="866.0" r="5.5" fill="#e3202a"/>
<circle cx="745.2" cy="802.8" r="5.5" fill="#e3202a"/>
<circle cx="758.9" cy="806.5" r="5.5" fill="#e3202a"/>
<circle cx="760.8" cy="814.7" r="5.5" fill="#e3202a"/>
<circle cx="722.3" cy="816.5" r="5.5" fill="#e3202a"/>
<circle cx="743.4" cy="820.2" r="5.5" fill="#e3202a"/>
<circle cx="760.8" cy="825.7" r="5.5" fill="#e3202a"/>
<circle cx="754.4" cy="834.9" r="5.5" fill="#e3202a"/>
<circle cx="728.7" cy="849.5" r="5.5" fill="#e3202a"/>
<circle cx="744.3" cy="844.9" r="5.5" fill="#e3202a"/>
<circle cx="750.7" cy="851.3" r="5.5" fill="#e3202a"/>
<circle cx="779.1" cy="844.9" r="5.5" fill="#e3202a"/>
<circle cx="788.2" cy="846.8" r="5.5" fill="#e3202a"/>
<circle cx="828.5" cy="816.5" r="5.5" fill="#e3202a"/>
<circle cx="838.6" cy="812.0" r="5.5" fill="#e3202a"/>
<circle cx="818.4" cy="824.8" r="5.5" fill="#e3202a"/>
<circle cx="803.8" cy="827.5" r="5.5" fill="#e3202a"/>
<circle cx="810.2" cy="839.4" r="5.5" fill="#e3202a"/>
<circle cx="832.2" cy="841.3" r="5.5" fill="#e3202a"/>
<circle cx="863.3" cy="859.6" r="5.5" fill="#e3202a"/>
<circle cx="740.6" cy="870.6" r="5.5" fill="#e3202a"/>
<circle cx="737.9" cy="879.7" r="5.5" fill="#e3202a"/>
<circle cx="752.5" cy="883.4" r="5.5" fill="#e3202a"/>
<circle cx="764.4" cy="863.2" r="5.5" fill="#e3202a"/>
<circle cx="766.3" cy="873.3" r="5.5" fill="#e3202a"/>
<circle cx="835.8" cy="876.0" r="5.5" fill="#e3202a"/>
<circle cx="848.7" cy="873.3" r="5.5" fill="#e3202a"/>
<circle cx="859.6" cy="877.9" r="5.5" fill="#e3202a"/>
<circle cx="824.8" cy="882.5" r="5.5" fill="#e3202a"/>
<circle cx="811.1" cy="887.9" r="5.5" fill="#e3202a"/>
<circle cx="795.6" cy="884.3" r="5.5" fill="#e3202a"/>
<circle cx="872.5" cy="894.4" r="5.5" fill="#e3202a"/>
<circle cx="879.8" cy="897.1" r="5.5" fill="#e3202a"/>
<circle cx="885.3" cy="904.4" r="5.5" fill="#e3202a"/>
<circle cx="897.2" cy="912.7" r="5.5" fill="#e3202a"/>
<circle cx="868.8" cy="910.8" r="5.5" fill="#e3202a"/>
<circle cx="861.5" cy="923.7" r="5.5" fill="#e3202a"/>
<circle cx="839.5" cy="921.8" r="5.5" fill="#e3202a"/>
<circle cx="741.5" cy="912.7" r="5.5" fill="#e3202a"/>
<circle cx="735.1" cy="921.8" r="5.5" fill="#e3202a"/>
<circle cx="775.4" cy="921.8" r="5.5" fill="#e3202a"/>
<circle cx="816.6" cy="926.4" r="5.5" fill="#e3202a"/>
<circle cx="885.3" cy="928.2" r="5.5" fill="#e3202a"/>
<circle cx="742.5" cy="981.3" r="5.5" fill="#e3202a"/>
<circle cx="766.3" cy="978.6" r="5.5" fill="#e3202a"/>
<circle cx="813.9" cy="960.3" r="5.5" fill="#e3202a"/>
<circle cx="793.7" cy="991.4" r="5.5" fill="#e3202a"/>
<circle cx="769.0" cy="1012.5" r="5.5" fill="#e3202a"/>
<circle cx="805.6" cy="1020.7" r="5.5" fill="#e3202a"/>
<circle cx="801.0" cy="1031.7" r="5.5" fill="#e3202a"/>
<circle cx="856.9" cy="953.0" r="5.5" fill="#e3202a"/>
<circle cx="858.7" cy="975.8" r="5.5" fill="#e3202a"/>
<circle cx="885.3" cy="956.6" r="5.5" fill="#e3202a"/>
<circle cx="897.2" cy="972.2" r="5.5" fill="#e3202a"/>
<circle cx="886.2" cy="931.0" r="5.5" fill="#e3202a"/>
<circle cx="583.7" cy="735.1" r="5.5" fill="#474747"/>
<circle cx="571.8" cy="763.4" r="5.5" fill="#474747"/>
<circle cx="597.4" cy="761.6" r="5.5" fill="#474747"/>
<circle cx="634.0" cy="767.1" r="5.5" fill="#474747"/>
<circle cx="582.7" cy="776.3" r="5.5" fill="#474747"/>
<circle cx="637.7" cy="790.0" r="5.5" fill="#474747"/>
<circle cx="569.9" cy="790.9" r="5.5" fill="#474747"/>
<circle cx="600.1" cy="789.1" r="5.5" fill="#474747"/>
<circle cx="836.8" cy="792.7" r="5.5" fill="#474747"/>
<circle cx="601.0" cy="812.9" r="5.5" fill="#474747"/>
<circle cx="616.6" cy="812.0" r="5.5" fill="#474747"/>
<circle cx="642.2" cy="854.1" r="5.5" fill="#474747"/>
<circle cx="598.3" cy="879.7" r="5.5" fill="#474747"/>
<circle cx="763.5" cy="845.8" r="5.5" fill="#474747"/>
<circle cx="799.2" cy="855.9" r="5.5" fill="#474747"/>
<circle cx="821.2" cy="805.6" r="5.5" fill="#474747"/>
<circle cx="848.7" cy="821.1" r="5.5" fill="#474747"/>
<circle cx="882.5" cy="857.7" r="5.5" fill="#474747"/>
<circle cx="838.6" cy="883.4" r="5.5" fill="#474747"/>
<circle cx="824.8" cy="903.5" r="5.5" fill="#474747"/>
<circle cx="848.7" cy="899.8" r="5.5" fill="#474747"/>
<circle cx="870.6" cy="903.5" r="5.5" fill="#474747"/>
<circle cx="859.6" cy="915.4" r="5.5" fill="#474747"/>
<circle cx="840.4" cy="914.5" r="5.5" fill="#474747"/>
<circle cx="830.3" cy="926.4" r="5.5" fill="#474747"/>
<circle cx="805.6" cy="939.2" r="5.5" fill="#474747"/>
<circle cx="817.5" cy="931.0" r="5.5" fill="#474747"/>
<circle cx="825.8" cy="938.3" r="5.5" fill="#474747"/>
<circle cx="788.2" cy="953.0" r="5.5" fill="#474747"/>
<circle cx="797.4" cy="960.3" r="5.5" fill="#474747"/>
<circle cx="808.4" cy="966.7" r="5.5" fill="#474747"/>
<circle cx="788.2" cy="987.7" r="5.5" fill="#474747"/>
<circle cx="797.4" cy="998.7" r="5.5" fill="#474747"/>
<circle cx="802.9" cy="1006.0" r="5.5" fill="#474747"/>
<circle cx="791.0" cy="1019.8" r="5.5" fill="#474747"/>
<circle cx="781.8" cy="1043.6" r="5.5" fill="#474747"/>
<circle cx="780.9" cy="1050.0" r="5.5" fill="#474747"/>
<circle cx="829.4" cy="1054.6" r="5.5" fill="#474747"/>
<circle cx="849.6" cy="954.8" r="5.5" fill="#474747"/>
<circle cx="837.7" cy="974.0" r="5.5" fill="#474747"/>
<circle cx="608.4" cy="730.5" r="5.5" fill="#b3b3b3"/>
<circle cx="602.9" cy="735.1" r="5.5" fill="#b3b3b3"/>
<circle cx="654.1" cy="748.8" r="5.5" fill="#b3b3b3"/>
<circle cx="692.6" cy="725.9" r="5.5" fill="#b3b3b3"/>
<circle cx="684.4" cy="737.8" r="5.5" fill="#b3b3b3"/>
<circle cx="691.7" cy="750.6" r="5.5" fill="#b3b3b3"/>
<circle cx="714.6" cy="693.0" r="5.5" fill="#b3b3b3"/>
<circle cx="705.4" cy="703.9" r="5.5" fill="#b3b3b3"/>
<circle cx="716.4" cy="702.1" r="5.5" fill="#b3b3b3"/>
<circle cx="709.1" cy="714.9" r="5.5" fill="#b3b3b3"/>
<circle cx="712.7" cy="718.6" r="5.5" fill="#b3b3b3"/>
<circle cx="575.4" cy="761.6" r="5.5" fill="#b3b3b3"/>
<circle cx="676.1" cy="762.5" r="5.5" fill="#b3b3b3"/>
<circle cx="674.3" cy="768.0" r="5.5" fill="#b3b3b3"/>
<circle cx="697.2" cy="770.8" r="5.5" fill="#b3b3b3"/>
<circle cx="595.6" cy="775.3" r="5.5" fill="#b3b3b3"/>
<circle cx="610.2" cy="768.0" r="5.5" fill="#b3b3b3"/>
<circle cx="617.5" cy="771.7" r="5.5" fill="#b3b3b3"/>
<circle cx="624.8" cy="773.5" r="5.5" fill="#b3b3b3"/>
<circle cx="623.0" cy="780.8" r="5.5" fill="#b3b3b3"/>
<circle cx="628.5" cy="780.8" r="5.5" fill="#b3b3b3"/>
<circle cx="652.3" cy="777.2" r="5.5" fill="#b3b3b3"/>
<circle cx="720.1" cy="791.8" r="5.5" fill="#b3b3b3"/>
<circle cx="674.3" cy="791.8" r="5.5" fill="#b3b3b3"/>
<circle cx="782.7" cy="675.6" r="5.5" fill="#b3b3b3"/>
<circle cx="748.0" cy="684.7" r="5.5" fill="#b3b3b3"/>
<circle cx="732.4" cy="691.1" r="5.5" fill="#b3b3b3"/>
<circle cx="718.7" cy="692.0" r="5.5" fill="#b3b3b3"/>
<circle cx="716.8" cy="700.3" r="5.5" fill="#b3b3b3"/>
<circle cx="726.0" cy="703.9" r="5.5" fill="#b3b3b3"/>
<circle cx="735.1" cy="699.4" r="5.5" fill="#b3b3b3"/>
<circle cx="737.0" cy="708.5" r="5.5" fill="#b3b3b3"/>
<circle cx="754.4" cy="698.4" r="5.5" fill="#b3b3b3"/>
<circle cx="755.3" cy="705.8" r="5.5" fill="#b3b3b3"/>
<circle cx="754.4" cy="713.1" r="5.5" fill="#b3b3b3"/>
<circle cx="720.5" cy="714.9" r="5.5" fill="#b3b3b3"/>
<circle cx="738.8" cy="723.2" r="5.5" fill="#b3b3b3"/>
<circle cx="755.3" cy="740.6" r="5.5" fill="#b3b3b3"/>
<circle cx="730.6" cy="753.4" r="5.5" fill="#b3b3b3"/>
<circle cx="720.5" cy="792.7" r="5.5" fill="#b3b3b3"/>
<circle cx="601.0" cy="801.9" r="5.5" fill="#b3b3b3"/>
<circle cx="617.5" cy="798.2" r="5.5" fill="#b3b3b3"/>
<circle cx="630.3" cy="801.0" r="5.5" fill="#b3b3b3"/>
<circle cx="627.6" cy="809.2" r="5.5" fill="#b3b3b3"/>
<circle cx="611.1" cy="821.1" r="5.5" fill="#b3b3b3"/>
<circle cx="689.8" cy="801.0" r="5.5" fill="#b3b3b3"/>
<circle cx="703.0" cy="700.0" r="5.5" fill="#b3b3b3"/>
<circle cx="707.0" cy="711.0" r="5.5" fill="#b3b3b3"/>
<circle cx="713.0" cy="697.0" r="5.5" fill="#b3b3b3"/>
<circle cx="717.0" cy="708.0" r="5.5" fill="#b3b3b3"/>
<circle cx="711.0" cy="720.0" r="5.5" fill="#b3b3b3"/>
<circle cx="721.0" cy="702.0" r="5.5" fill="#b3b3b3"/>
<circle cx="723.0" cy="714.0" r="5.5" fill="#b3b3b3"/>
<circle cx="713.0" cy="689.0" r="5.5" fill="#b3b3b3"/>
<circle cx="705.0" cy="722.0" r="5.5" fill="#b3b3b3"/>
<circle cx="718.0" cy="723.0" r="5.5" fill="#b3b3b3"/>
<circle cx="615.0" cy="779.3" r="5.5" fill="#b3b3b3"/>
<circle cx="616.4" cy="784.9" r="5.5" fill="#b3b3b3"/>
<circle cx="628.2" cy="787.0" r="5.5" fill="#b3b3b3"/>
<circle cx="621.3" cy="769.5" r="5.5" fill="#b3b3b3"/>
<line x1="508.1" y1="651.7" x2="508.1" y2="1082.0" stroke="#000" stroke-width="4.5"/>
<line x1="505.9" y1="1079.8" x2="934.6" y2="1079.8" stroke="#000" stroke-width="4.5"/>
<line x1="497.1" y1="715.2" x2="508.1" y2="715.2" stroke="#000" stroke-width="4.5"/>
<text x="480.6" y="727.8" font-size="30" text-anchor="end" fill="#000">2</text>
<line x1="497.1" y1="843.8" x2="508.1" y2="843.8" stroke="#000" stroke-width="4.5"/>
<text x="480.6" y="856.4" font-size="30" text-anchor="end" fill="#000">0</text>
<line x1="497.1" y1="972.4" x2="508.1" y2="972.4" stroke="#000" stroke-width="4.5"/>
<text x="474.8" y="985.0" font-size="30" text-anchor="end" fill="#000">−2</text>
<line x1="518.4" y1="1079.8" x2="518.4" y2="1090.8" stroke="#000" stroke-width="4.5"/>
<text x="487.5" y="1136.3" font-size="27.5" text-anchor="start" fill="#000" textLength="27.98" lengthAdjust="spacingAndGlyphs">-6</text>
<line x1="630.7" y1="1079.8" x2="630.7" y2="1090.8" stroke="#000" stroke-width="4.5"/>
<text x="604.3" y="1136.3" font-size="27.5" text-anchor="start" fill="#000" textLength="26.98" lengthAdjust="spacingAndGlyphs">-3</text>
<line x1="742.2" y1="1079.8" x2="742.2" y2="1090.8" stroke="#000" stroke-width="4.5"/>
<text x="729.2" y="1136.3" font-size="27.5" text-anchor="start" fill="#000" textLength="16.37" lengthAdjust="spacingAndGlyphs">0</text>
<line x1="854.2" y1="1079.8" x2="854.2" y2="1090.8" stroke="#000" stroke-width="4.5"/>
<text x="843.2" y="1136.3" font-size="27.5" text-anchor="start" fill="#000" textLength="15.37" lengthAdjust="spacingAndGlyphs">3</text>
<text x="661.7" y="1185.1" font-size="29" text-anchor="start" fill="#000" textLength="98.61" lengthAdjust="spacingAndGlyphs">UMAP1</text>
<text x="442.5" y="832.8" font-size="28.5" text-anchor="middle" fill="#000" transform="rotate(-90 442.5 832.8)">UMAP2</text>
<text x="998.3" y="663.9" font-size="28.5" text-anchor="start" fill="#000" textLength="65.67" lengthAdjust="spacingAndGlyphs">22°C</text>
<line x1="973.4" y1="670.5" x2="1098.5" y2="670.5" stroke="#000" stroke-width="3.2"/>
<circle cx="981.5" cy="693.1" r="9.4" fill="#f7d40b"/>
<text x="998.3" y="703.0" font-size="28.5" text-anchor="start" fill="#000" textLength="87.37" lengthAdjust="spacingAndGlyphs">20 min</text>
<circle cx="981.5" cy="728.3" r="9.4" fill="#f39b1e"/>
<text x="998.3" y="738.2" font-size="28.5" text-anchor="start" fill="#000" textLength="87.37" lengthAdjust="spacingAndGlyphs">40 min</text>
<circle cx="981.5" cy="763.5" r="9.4" fill="#e3202a"/>
<text x="998.3" y="773.4" font-size="28.5" text-anchor="start" fill="#000" textLength="87.37" lengthAdjust="spacingAndGlyphs">60 min</text>
<text x="1001.0" y="836.6" font-size="28.5" text-anchor="start" fill="#000" textLength="50.27" lengthAdjust="spacingAndGlyphs">4°C</text>
<line x1="976.0" y1="843.8" x2="1101.5" y2="843.8" stroke="#000" stroke-width="3.2"/>
<circle cx="981.5" cy="865.4" r="9.4" fill="#474747"/>
<text x="1000.1" y="874.5" font-size="28.5" text-anchor="start" fill="#000" textLength="101.76" lengthAdjust="spacingAndGlyphs">120 min</text>
<circle cx="981.5" cy="900.6" r="9.4" fill="#b3b3b3"/>
<text x="1000.1" y="909.7" font-size="28.5" text-anchor="start" fill="#000" textLength="101.76" lengthAdjust="spacingAndGlyphs">180 min</text>
<text x="0.7" y="1216.6" font-size="42" text-anchor="start" fill="#000" font-weight="bold">E</text>
<path d="M104.2,1415.8 C104.8,1417.8 105.2,1424.5 107.8,1428.0 C110.4,1431.5 116.3,1433.8 119.8,1437.0 C123.3,1440.2 127.6,1443.2 128.8,1447.0 C130.0,1450.8 129.5,1455.7 126.8,1460.0 C124.1,1464.3 116.3,1469.5 112.8,1473.0 C109.2,1476.5 106.9,1477.9 105.5,1481.0 C104.1,1484.1 104.4,1489.8 104.2,1491.6 L99.4,1491.6 C99.2,1489.8 99.5,1484.1 98.1,1481.0 C96.7,1477.9 94.3,1476.5 90.8,1473.0 C87.2,1469.5 79.5,1464.3 76.8,1460.0 C74.1,1455.7 73.6,1450.8 74.8,1447.0 C76.0,1443.2 80.3,1440.2 83.8,1437.0 C87.3,1433.8 93.2,1431.5 95.8,1428.0 C98.4,1424.5 98.8,1417.8 99.4,1415.8 Z" fill="#f5d21c" stroke="#333333" stroke-width="2.6" stroke-linejoin="round"/>
<circle cx="109.0" cy="1446.2" r="2.75" fill="#000"/>
<circle cx="95.4" cy="1433.9" r="2.75" fill="#000"/>
<circle cx="79.6" cy="1433.0" r="2.75" fill="#000"/>
<circle cx="82.2" cy="1449.7" r="2.75" fill="#000"/>
<circle cx="83.7" cy="1450.7" r="2.75" fill="#000"/>
<circle cx="123.3" cy="1442.6" r="2.75" fill="#000"/>
<circle cx="124.7" cy="1455.3" r="2.75" fill="#000"/>
<circle cx="91.7" cy="1431.5" r="2.75" fill="#000"/>
<circle cx="92.6" cy="1438.1" r="2.75" fill="#000"/>
<circle cx="105.7" cy="1464.1" r="2.75" fill="#000"/>
<circle cx="104.1" cy="1456.6" r="2.75" fill="#000"/>
<circle cx="87.7" cy="1432.6" r="2.75" fill="#000"/>
<circle cx="92.9" cy="1458.0" r="2.75" fill="#000"/>
<circle cx="92.2" cy="1455.4" r="2.75" fill="#000"/>
<circle cx="89.5" cy="1463.5" r="2.75" fill="#000"/>
<circle cx="119.8" cy="1454.2" r="2.75" fill="#000"/>
<circle cx="124.8" cy="1460.4" r="2.75" fill="#000"/>
<circle cx="114.1" cy="1437.4" r="2.75" fill="#000"/>
<circle cx="79.7" cy="1439.5" r="2.75" fill="#000"/>
<circle cx="105.3" cy="1458.4" r="2.75" fill="#000"/>
<circle cx="111.2" cy="1466.9" r="2.75" fill="#000"/>
<circle cx="99.7" cy="1455.6" r="2.75" fill="#000"/>
<circle cx="100.6" cy="1466.4" r="2.75" fill="#000"/>
<circle cx="111.5" cy="1457.5" r="2.75" fill="#000"/>
<circle cx="117.3" cy="1457.4" r="2.75" fill="#000"/>
<circle cx="109.9" cy="1444.4" r="2.75" fill="#000"/>
<circle cx="85.9" cy="1426.1" r="2.75" fill="#000"/>
<circle cx="114.7" cy="1437.1" r="2.75" fill="#000"/>
<circle cx="96.6" cy="1438.2" r="2.75" fill="#000"/>
<circle cx="99.4" cy="1466.6" r="2.75" fill="#000"/>
<circle cx="117.1" cy="1454.6" r="2.75" fill="#000"/>
<circle cx="97.7" cy="1466.9" r="2.75" fill="#000"/>
<circle cx="123.8" cy="1448.1" r="2.75" fill="#000"/>
<circle cx="88.9" cy="1439.2" r="2.75" fill="#000"/>
<circle cx="106.1" cy="1442.5" r="2.75" fill="#000"/>
<circle cx="97.9" cy="1444.0" r="2.75" fill="#000"/>
<circle cx="123.5" cy="1447.7" r="2.75" fill="#000"/>
<circle cx="107.4" cy="1459.4" r="2.75" fill="#000"/>
<circle cx="121.0" cy="1457.5" r="2.75" fill="#000"/>
<circle cx="116.1" cy="1462.4" r="2.75" fill="#000"/>
<circle cx="82.8" cy="1448.8" r="2.75" fill="#000"/>
<circle cx="81.0" cy="1456.2" r="2.75" fill="#000"/>
<circle cx="94.1" cy="1441.2" r="2.75" fill="#000"/>
<circle cx="85.1" cy="1431.6" r="2.75" fill="#000"/>
<circle cx="79.0" cy="1436.4" r="2.75" fill="#000"/>
<circle cx="84.9" cy="1467.3" r="2.75" fill="#000"/>
<circle cx="95.3" cy="1443.3" r="2.75" fill="#000"/>
<circle cx="125.5" cy="1437.8" r="2.75" fill="#000"/>
<circle cx="81.9" cy="1451.5" r="2.75" fill="#000"/>
<circle cx="90.5" cy="1436.4" r="2.75" fill="#000"/>
<circle cx="78.9" cy="1464.1" r="2.75" fill="#000"/>
<circle cx="84.8" cy="1474.2" r="2.75" fill="#000"/>
<circle cx="103.1" cy="1453.5" r="2.75" fill="#000"/>
<circle cx="111.2" cy="1480.9" r="2.75" fill="#000"/>
<circle cx="85.8" cy="1444.4" r="2.75" fill="#000"/>
<circle cx="115.2" cy="1462.0" r="2.75" fill="#000"/>
<circle cx="116.8" cy="1446.2" r="2.75" fill="#000"/>
<circle cx="116.5" cy="1484.0" r="2.75" fill="#000"/>
<circle cx="88.7" cy="1464.9" r="2.75" fill="#000"/>
<circle cx="79.2" cy="1452.7" r="2.75" fill="#000"/>
<circle cx="90.2" cy="1428.3" r="2.75" fill="#000"/>
<circle cx="99.3" cy="1459.9" r="2.75" fill="#000"/>
<circle cx="123.6" cy="1473.0" r="2.75" fill="#000"/>
<circle cx="88.7" cy="1447.3" r="2.75" fill="#000"/>
<circle cx="107.8" cy="1441.2" r="2.75" fill="#000"/>
<circle cx="100.8" cy="1470.2" r="2.75" fill="#000"/>
<circle cx="81.9" cy="1458.4" r="2.75" fill="#000"/>
<circle cx="115.4" cy="1458.6" r="2.75" fill="#000"/>
<circle cx="86.4" cy="1460.6" r="2.75" fill="#000"/>
<circle cx="116.2" cy="1463.0" r="2.75" fill="#000"/>
<circle cx="97.1" cy="1478.1" r="2.75" fill="#000"/>
<circle cx="86.0" cy="1474.4" r="2.75" fill="#000"/>
<circle cx="121.2" cy="1437.2" r="2.75" fill="#000"/>
<circle cx="117.5" cy="1462.8" r="2.75" fill="#000"/>
<circle cx="94.6" cy="1481.7" r="2.75" fill="#000"/>
<circle cx="78.5" cy="1453.7" r="2.75" fill="#000"/>
<circle cx="103.1" cy="1478.3" r="2.75" fill="#000"/>
<circle cx="119.6" cy="1472.3" r="2.75" fill="#000"/>
<circle cx="89.9" cy="1464.2" r="2.75" fill="#000"/>
<circle cx="105.9" cy="1445.2" r="2.75" fill="#000"/>
<circle cx="84.1" cy="1443.4" r="2.75" fill="#000"/>
<circle cx="99.8" cy="1469.6" r="2.75" fill="#000"/>
<circle cx="98.0" cy="1456.0" r="2.75" fill="#000"/>
<circle cx="103.3" cy="1471.1" r="2.75" fill="#000"/>
<circle cx="98.9" cy="1452.2" r="2.75" fill="#000"/>
<circle cx="116.2" cy="1440.0" r="2.75" fill="#000"/>
<circle cx="112.6" cy="1440.5" r="2.75" fill="#000"/>
<circle cx="102.7" cy="1453.9" r="2.75" fill="#000"/>
<circle cx="82.9" cy="1454.5" r="2.75" fill="#000"/>
<circle cx="91.1" cy="1453.8" r="2.75" fill="#000"/>
<circle cx="104.8" cy="1462.0" r="2.75" fill="#000"/>
<circle cx="99.1" cy="1462.5" r="2.75" fill="#000"/>
<circle cx="102.4" cy="1456.8" r="2.75" fill="#000"/>
<circle cx="103.4" cy="1459.3" r="2.75" fill="#000"/>
<circle cx="111.4" cy="1452.1" r="2.75" fill="#000"/>
<circle cx="90.3" cy="1467.7" r="2.75" fill="#000"/>
<circle cx="118.1" cy="1454.7" r="2.75" fill="#000"/>
<circle cx="99.0" cy="1438.1" r="2.75" fill="#000"/>
<circle cx="81.3" cy="1433.6" r="2.75" fill="#000"/>
<circle cx="120.9" cy="1458.4" r="2.75" fill="#000"/>
<circle cx="109.5" cy="1439.7" r="2.75" fill="#000"/>
<circle cx="124.2" cy="1438.9" r="2.75" fill="#000"/>
<circle cx="96.9" cy="1443.0" r="2.75" fill="#000"/>
<circle cx="117.8" cy="1452.2" r="2.75" fill="#000"/>
<circle cx="102.5" cy="1439.4" r="2.75" fill="#000"/>
<circle cx="93.1" cy="1446.2" r="2.75" fill="#000"/>
<circle cx="104.4" cy="1460.0" r="2.75" fill="#000"/>
<circle cx="93.7" cy="1449.6" r="2.75" fill="#000"/>
<circle cx="80.9" cy="1456.8" r="2.75" fill="#000"/>
<circle cx="124.4" cy="1484.0" r="2.75" fill="#000"/>
<circle cx="79.7" cy="1436.3" r="2.75" fill="#000"/>
<circle cx="84.0" cy="1461.7" r="2.75" fill="#000"/>
<circle cx="117.1" cy="1449.5" r="2.75" fill="#000"/>
<circle cx="121.9" cy="1443.1" r="2.75" fill="#000"/>
<circle cx="82.1" cy="1454.4" r="2.75" fill="#000"/>
<circle cx="98.2" cy="1433.1" r="2.75" fill="#000"/>
<circle cx="108.3" cy="1434.2" r="2.75" fill="#000"/>
<circle cx="118.9" cy="1462.7" r="2.75" fill="#000"/>
<circle cx="99.6" cy="1434.2" r="2.75" fill="#000"/>
<circle cx="122.3" cy="1446.6" r="2.75" fill="#000"/>
<circle cx="103.1" cy="1444.1" r="2.75" fill="#000"/>
<circle cx="85.5" cy="1443.1" r="2.75" fill="#000"/>
<circle cx="92.8" cy="1431.8" r="2.75" fill="#000"/>
<circle cx="91.7" cy="1445.8" r="2.75" fill="#000"/>
<circle cx="94.5" cy="1452.4" r="2.75" fill="#000"/>
<circle cx="78.5" cy="1424.6" r="2.75" fill="#000"/>
<circle cx="86.9" cy="1460.7" r="2.75" fill="#000"/>
<circle cx="82.9" cy="1452.1" r="2.75" fill="#000"/>
<circle cx="101.6" cy="1464.5" r="2.75" fill="#000"/>
<circle cx="102.1" cy="1464.4" r="2.75" fill="#000"/>
<circle cx="94.2" cy="1460.0" r="2.75" fill="#000"/>
<circle cx="108.3" cy="1464.8" r="2.75" fill="#000"/>
<circle cx="80.4" cy="1448.8" r="2.75" fill="#000"/>
<circle cx="113.4" cy="1438.1" r="2.75" fill="#000"/>
<circle cx="81.9" cy="1443.2" r="2.75" fill="#000"/>
<circle cx="110.0" cy="1466.3" r="2.75" fill="#000"/>
<circle cx="91.9" cy="1444.2" r="2.75" fill="#000"/>
<circle cx="99.2" cy="1449.8" r="2.75" fill="#000"/>
<circle cx="124.5" cy="1445.0" r="2.75" fill="#000"/>
<circle cx="124.2" cy="1453.8" r="2.75" fill="#000"/>
<circle cx="77.9" cy="1445.4" r="2.75" fill="#000"/>
<circle cx="101.9" cy="1447.6" r="2.75" fill="#000"/>
<circle cx="78.0" cy="1441.5" r="2.75" fill="#000"/>
<circle cx="97.0" cy="1444.1" r="2.75" fill="#000"/>
<circle cx="92.4" cy="1430.7" r="2.75" fill="#000"/>
<circle cx="103.2" cy="1442.6" r="2.75" fill="#000"/>
<circle cx="112.2" cy="1460.9" r="2.75" fill="#000"/>
<circle cx="93.5" cy="1467.0" r="2.75" fill="#000"/>
<circle cx="112.6" cy="1483.3" r="2.75" fill="#000"/>
<circle cx="117.9" cy="1456.2" r="2.75" fill="#000"/>
<circle cx="113.0" cy="1468.6" r="2.75" fill="#000"/>
<circle cx="102.9" cy="1462.8" r="2.75" fill="#000"/>
<circle cx="116.4" cy="1453.3" r="2.75" fill="#000"/>
<circle cx="120.7" cy="1464.7" r="2.75" fill="#000"/>
<circle cx="88.8" cy="1458.3" r="2.75" fill="#000"/>
<circle cx="95.1" cy="1429.0" r="2.75" fill="#000"/>
<circle cx="104.6" cy="1436.9" r="2.75" fill="#000"/>
<circle cx="110.5" cy="1456.9" r="2.75" fill="#000"/>
<circle cx="116.1" cy="1450.9" r="2.75" fill="#000"/>
<circle cx="103.5" cy="1460.7" r="2.75" fill="#000"/>
<circle cx="113.2" cy="1457.5" r="2.75" fill="#000"/>
<circle cx="90.5" cy="1443.1" r="2.75" fill="#000"/>
<circle cx="113.3" cy="1460.3" r="2.75" fill="#000"/>
<circle cx="96.2" cy="1479.8" r="2.75" fill="#000"/>
<circle cx="114.6" cy="1451.8" r="2.75" fill="#000"/>
<circle cx="81.5" cy="1456.9" r="2.75" fill="#000"/>
<circle cx="113.5" cy="1439.3" r="2.75" fill="#000"/>
<circle cx="78.4" cy="1445.6" r="2.75" fill="#000"/>
<circle cx="110.1" cy="1432.7" r="2.75" fill="#000"/>
<circle cx="91.8" cy="1459.6" r="2.75" fill="#000"/>
<circle cx="100.2" cy="1452.8" r="2.75" fill="#000"/>
<circle cx="87.4" cy="1437.9" r="2.75" fill="#000"/>
<circle cx="78.6" cy="1480.9" r="2.75" fill="#000"/>
<circle cx="124.3" cy="1450.7" r="2.75" fill="#000"/>
<circle cx="87.9" cy="1449.9" r="2.75" fill="#000"/>
<circle cx="105.7" cy="1473.2" r="2.75" fill="#000"/>
<circle cx="123.5" cy="1438.5" r="2.75" fill="#000"/>
<circle cx="102.2" cy="1438.8" r="2.75" fill="#000"/>
<circle cx="88.9" cy="1468.7" r="2.75" fill="#000"/>
<circle cx="79.0" cy="1468.4" r="2.75" fill="#000"/>
<circle cx="99.4" cy="1417.6" r="2.75" fill="#000"/>
<circle cx="94.3" cy="1445.1" r="2.75" fill="#000"/>
<circle cx="77.9" cy="1446.8" r="2.75" fill="#000"/>
<circle cx="83.6" cy="1461.1" r="2.75" fill="#000"/>
<circle cx="121.1" cy="1471.3" r="2.75" fill="#000"/>
<circle cx="96.7" cy="1445.4" r="2.75" fill="#000"/>
<circle cx="95.1" cy="1491.2" r="2.75" fill="#000"/>
<circle cx="80.1" cy="1450.0" r="2.75" fill="#000"/>
<circle cx="91.5" cy="1436.9" r="2.75" fill="#000"/>
<circle cx="90.6" cy="1472.0" r="2.75" fill="#000"/>
<circle cx="95.7" cy="1452.4" r="2.75" fill="#000"/>
<circle cx="116.8" cy="1475.3" r="2.75" fill="#000"/>
<circle cx="123.0" cy="1457.3" r="2.75" fill="#000"/>
<circle cx="80.2" cy="1454.4" r="2.75" fill="#000"/>
<circle cx="113.9" cy="1460.6" r="2.75" fill="#000"/>
<circle cx="80.2" cy="1456.5" r="2.75" fill="#000"/>
<circle cx="100.5" cy="1470.6" r="2.75" fill="#000"/>
<circle cx="113.3" cy="1446.3" r="2.75" fill="#000"/>
<circle cx="109.3" cy="1479.6" r="2.75" fill="#000"/>
<circle cx="96.7" cy="1445.6" r="2.75" fill="#000"/>
<circle cx="87.8" cy="1440.2" r="2.75" fill="#000"/>
<circle cx="88.4" cy="1469.7" r="2.75" fill="#000"/>
<circle cx="99.4" cy="1470.4" r="2.75" fill="#000"/>
<circle cx="82.2" cy="1438.2" r="2.75" fill="#000"/>
<circle cx="89.3" cy="1446.1" r="2.75" fill="#000"/>
<circle cx="120.4" cy="1443.6" r="2.75" fill="#000"/>
<circle cx="97.7" cy="1460.5" r="2.75" fill="#000"/>
<circle cx="94.0" cy="1452.7" r="2.75" fill="#000"/>
<circle cx="124.2" cy="1432.7" r="2.75" fill="#000"/>
<circle cx="108.0" cy="1437.5" r="2.75" fill="#000"/>
<circle cx="90.8" cy="1466.8" r="2.75" fill="#000"/>
<circle cx="99.2" cy="1443.4" r="2.75" fill="#000"/>
<circle cx="119.7" cy="1475.3" r="2.75" fill="#000"/>
<circle cx="111.9" cy="1425.6" r="2.75" fill="#000"/>
<circle cx="106.0" cy="1468.4" r="2.75" fill="#000"/>
<circle cx="122.3" cy="1416.3" r="2.75" fill="#000"/>
<circle cx="124.5" cy="1465.0" r="2.75" fill="#000"/>
<circle cx="85.2" cy="1443.1" r="2.75" fill="#000"/>
<circle cx="123.0" cy="1453.1" r="2.75" fill="#000"/>
<circle cx="114.5" cy="1460.8" r="2.75" fill="#000"/>
<circle cx="79.7" cy="1450.3" r="2.75" fill="#000"/>
<circle cx="122.0" cy="1461.6" r="2.75" fill="#000"/>
<circle cx="83.9" cy="1456.5" r="2.75" fill="#000"/>
<circle cx="111.3" cy="1443.6" r="2.75" fill="#000"/>
<circle cx="103.0" cy="1437.1" r="2.75" fill="#000"/>
<circle cx="88.5" cy="1455.3" r="2.75" fill="#000"/>
<circle cx="92.3" cy="1454.8" r="2.75" fill="#000"/>
<circle cx="108.7" cy="1450.8" r="2.75" fill="#000"/>
<circle cx="89.1" cy="1468.4" r="2.75" fill="#000"/>
<circle cx="111.6" cy="1444.0" r="2.75" fill="#000"/>
<circle cx="101.7" cy="1445.0" r="2.75" fill="#000"/>
<circle cx="90.1" cy="1457.9" r="2.75" fill="#000"/>
<circle cx="88.7" cy="1458.6" r="2.75" fill="#000"/>
<circle cx="98.0" cy="1429.2" r="2.75" fill="#000"/>
<circle cx="116.1" cy="1457.7" r="2.75" fill="#000"/>
<circle cx="87.7" cy="1460.7" r="2.75" fill="#000"/>
<circle cx="117.2" cy="1478.0" r="2.75" fill="#000"/>
<circle cx="114.3" cy="1442.2" r="2.75" fill="#000"/>
<circle cx="101.6" cy="1446.0" r="2.75" fill="#000"/>
<circle cx="97.8" cy="1440.2" r="2.75" fill="#000"/>
<circle cx="84.8" cy="1458.6" r="2.75" fill="#000"/>
<circle cx="124.6" cy="1448.6" r="2.75" fill="#000"/>
<circle cx="80.7" cy="1438.1" r="2.75" fill="#000"/>
<circle cx="120.2" cy="1449.5" r="2.75" fill="#000"/>
<circle cx="122.5" cy="1461.3" r="2.75" fill="#000"/>
<circle cx="122.7" cy="1446.2" r="2.75" fill="#000"/>
<circle cx="109.7" cy="1460.0" r="2.75" fill="#000"/>
<circle cx="93.7" cy="1447.5" r="2.75" fill="#000"/>
<circle cx="91.2" cy="1440.0" r="2.75" fill="#000"/>
<circle cx="83.7" cy="1448.2" r="2.75" fill="#000"/>
<circle cx="94.9" cy="1476.4" r="2.75" fill="#000"/>
<circle cx="98.6" cy="1465.0" r="2.75" fill="#000"/>
<circle cx="95.7" cy="1432.0" r="2.75" fill="#000"/>
<circle cx="95.3" cy="1470.7" r="2.75" fill="#000"/>
<circle cx="97.5" cy="1467.8" r="2.75" fill="#000"/>
<circle cx="79.8" cy="1463.6" r="2.75" fill="#000"/>
<circle cx="122.0" cy="1429.0" r="2.75" fill="#000"/>
<circle cx="120.9" cy="1443.7" r="2.75" fill="#000"/>
<circle cx="123.8" cy="1446.3" r="2.75" fill="#000"/>
<circle cx="112.2" cy="1456.4" r="2.75" fill="#000"/>
<circle cx="78.0" cy="1446.3" r="2.75" fill="#000"/>
<circle cx="108.2" cy="1462.5" r="2.75" fill="#000"/>
<circle cx="89.0" cy="1473.0" r="2.75" fill="#000"/>
<circle cx="123.6" cy="1452.1" r="2.75" fill="#000"/>
<circle cx="98.4" cy="1448.6" r="2.75" fill="#000"/>
<circle cx="86.6" cy="1452.1" r="2.75" fill="#000"/>
<circle cx="117.3" cy="1463.6" r="2.75" fill="#000"/>
<circle cx="93.5" cy="1462.1" r="2.75" fill="#000"/>
<circle cx="115.3" cy="1446.4" r="2.75" fill="#000"/>
<circle cx="113.9" cy="1434.5" r="2.75" fill="#000"/>
<circle cx="79.4" cy="1443.1" r="2.75" fill="#000"/>
<circle cx="124.9" cy="1453.9" r="2.75" fill="#000"/>
<circle cx="90.5" cy="1469.1" r="2.75" fill="#000"/>
<circle cx="101.7" cy="1434.4" r="2.75" fill="#000"/>
<circle cx="89.0" cy="1459.3" r="2.75" fill="#000"/>
<circle cx="110.2" cy="1449.1" r="2.75" fill="#000"/>
<circle cx="109.7" cy="1461.1" r="2.75" fill="#000"/>
<circle cx="91.9" cy="1437.8" r="2.75" fill="#000"/>
<circle cx="113.2" cy="1454.0" r="2.75" fill="#000"/>
<circle cx="89.6" cy="1441.2" r="2.75" fill="#000"/>
<circle cx="105.6" cy="1439.9" r="2.75" fill="#000"/>
<circle cx="125.4" cy="1446.4" r="2.75" fill="#000"/>
<circle cx="116.6" cy="1452.5" r="2.75" fill="#000"/>
<circle cx="82.7" cy="1458.7" r="2.75" fill="#000"/>
<circle cx="118.1" cy="1452.0" r="2.75" fill="#000"/>
<circle cx="91.9" cy="1469.2" r="2.75" fill="#000"/>
<circle cx="124.5" cy="1437.2" r="2.75" fill="#000"/>
<circle cx="95.7" cy="1456.0" r="2.75" fill="#000"/>
<circle cx="90.3" cy="1467.1" r="2.75" fill="#000"/>
<circle cx="82.9" cy="1462.5" r="2.75" fill="#000"/>
<circle cx="88.2" cy="1455.6" r="2.75" fill="#000"/>
<circle cx="87.6" cy="1447.2" r="2.75" fill="#000"/>
<circle cx="109.1" cy="1443.6" r="2.75" fill="#000"/>
<circle cx="93.5" cy="1441.0" r="2.75" fill="#000"/>
<circle cx="92.8" cy="1457.6" r="2.75" fill="#000"/>
<circle cx="104.1" cy="1441.8" r="2.75" fill="#000"/>
<circle cx="96.8" cy="1433.5" r="2.75" fill="#000"/>
<circle cx="82.2" cy="1454.3" r="2.75" fill="#000"/>
<circle cx="97.5" cy="1439.7" r="2.75" fill="#000"/>
<circle cx="123.6" cy="1444.3" r="2.75" fill="#000"/>
<circle cx="94.9" cy="1445.6" r="2.75" fill="#000"/>
<circle cx="125.6" cy="1449.4" r="2.75" fill="#000"/>
<circle cx="112.7" cy="1447.3" r="2.75" fill="#000"/>
<circle cx="121.1" cy="1441.0" r="2.75" fill="#000"/>
<circle cx="97.3" cy="1450.7" r="2.75" fill="#000"/>
<circle cx="85.6" cy="1468.4" r="2.75" fill="#000"/>
<circle cx="108.6" cy="1423.8" r="2.75" fill="#000"/>
<circle cx="107.7" cy="1469.2" r="2.75" fill="#000"/>
<circle cx="84.8" cy="1447.7" r="2.75" fill="#000"/>
<circle cx="122.2" cy="1444.5" r="2.75" fill="#000"/>
<circle cx="116.4" cy="1436.5" r="2.75" fill="#000"/>
<circle cx="83.9" cy="1477.2" r="2.75" fill="#000"/>
<circle cx="101.0" cy="1473.8" r="2.75" fill="#000"/>
<circle cx="96.4" cy="1432.4" r="2.75" fill="#000"/>
<circle cx="117.4" cy="1469.9" r="2.75" fill="#000"/>
<circle cx="88.5" cy="1439.8" r="2.75" fill="#000"/>
<circle cx="117.6" cy="1449.4" r="2.75" fill="#000"/>
<circle cx="97.0" cy="1440.2" r="2.75" fill="#000"/>
<circle cx="83.7" cy="1452.7" r="2.75" fill="#000"/>
<circle cx="120.9" cy="1443.7" r="2.75" fill="#000"/>
<circle cx="114.2" cy="1431.2" r="2.75" fill="#000"/>
<circle cx="83.5" cy="1430.6" r="2.75" fill="#000"/>
<circle cx="107.9" cy="1455.5" r="2.75" fill="#000"/>
<circle cx="105.8" cy="1445.4" r="2.75" fill="#000"/>
<circle cx="99.2" cy="1450.5" r="2.75" fill="#000"/>
<circle cx="107.5" cy="1449.6" r="2.75" fill="#000"/>
<circle cx="114.5" cy="1451.2" r="2.75" fill="#000"/>
<circle cx="86.4" cy="1461.9" r="2.75" fill="#000"/>
<circle cx="84.0" cy="1451.0" r="2.75" fill="#000"/>
<circle cx="99.0" cy="1449.7" r="2.75" fill="#000"/>
<path d="M164.1,1423.6 C165.2,1425.5 167.4,1430.5 170.7,1435.0 C174.0,1439.5 180.5,1446.5 183.7,1450.7 C186.9,1454.9 190.7,1457.4 189.7,1460.3 C188.7,1463.2 181.4,1465.5 177.7,1468.0 C174.0,1470.5 170.0,1472.1 167.7,1475.0 C165.4,1477.9 164.7,1483.8 164.1,1485.5 L159.3,1485.5 C158.7,1483.8 158.0,1477.9 155.7,1475.0 C153.4,1472.1 149.4,1470.5 145.7,1468.0 C142.0,1465.5 134.7,1463.2 133.7,1460.3 C132.7,1457.4 136.5,1454.9 139.7,1450.7 C142.9,1446.5 149.4,1439.5 152.7,1435.0 C156.0,1430.5 158.2,1425.5 159.3,1423.6 Z" fill="#f29c25" stroke="#333333" stroke-width="2.6" stroke-linejoin="round"/>
<circle cx="168.2" cy="1455.5" r="2.75" fill="#000"/>
<circle cx="175.0" cy="1439.3" r="2.75" fill="#000"/>
<circle cx="161.9" cy="1455.6" r="2.75" fill="#000"/>
<circle cx="144.2" cy="1452.6" r="2.75" fill="#000"/>
<circle cx="172.8" cy="1466.5" r="2.75" fill="#000"/>
<circle cx="184.8" cy="1464.3" r="2.75" fill="#000"/>
<circle cx="181.7" cy="1456.4" r="2.75" fill="#000"/>
<circle cx="182.4" cy="1444.1" r="2.75" fill="#000"/>
<circle cx="174.0" cy="1437.1" r="2.75" fill="#000"/>
<circle cx="150.9" cy="1444.3" r="2.75" fill="#000"/>
<circle cx="161.8" cy="1464.3" r="2.75" fill="#000"/>
<circle cx="150.3" cy="1469.5" r="2.75" fill="#000"/>
<circle cx="139.5" cy="1455.8" r="2.75" fill="#000"/>
<circle cx="182.6" cy="1444.7" r="2.75" fill="#000"/>
<circle cx="145.8" cy="1461.0" r="2.75" fill="#000"/>
<circle cx="163.2" cy="1463.5" r="2.75" fill="#000"/>
<circle cx="179.6" cy="1459.7" r="2.75" fill="#000"/>
<circle cx="180.1" cy="1458.0" r="2.75" fill="#000"/>
<circle cx="167.9" cy="1441.3" r="2.75" fill="#000"/>
<circle cx="150.4" cy="1453.4" r="2.75" fill="#000"/>
<circle cx="155.0" cy="1481.9" r="2.75" fill="#000"/>
<circle cx="146.2" cy="1463.0" r="2.75" fill="#000"/>
<circle cx="177.1" cy="1461.9" r="2.75" fill="#000"/>
<circle cx="184.9" cy="1448.6" r="2.75" fill="#000"/>
<circle cx="152.7" cy="1458.1" r="2.75" fill="#000"/>
<circle cx="144.9" cy="1423.6" r="2.75" fill="#000"/>
<circle cx="162.3" cy="1458.8" r="2.75" fill="#000"/>
<circle cx="148.6" cy="1468.1" r="2.75" fill="#000"/>
<circle cx="137.8" cy="1459.4" r="2.75" fill="#000"/>
<circle cx="154.8" cy="1450.8" r="2.75" fill="#000"/>
<circle cx="166.0" cy="1446.9" r="2.75" fill="#000"/>
<circle cx="160.5" cy="1445.4" r="2.75" fill="#000"/>
<circle cx="149.4" cy="1442.8" r="2.75" fill="#000"/>
<circle cx="168.3" cy="1443.0" r="2.75" fill="#000"/>
<circle cx="157.0" cy="1467.1" r="2.75" fill="#000"/>
<circle cx="168.7" cy="1447.6" r="2.75" fill="#000"/>
<circle cx="168.7" cy="1457.8" r="2.75" fill="#000"/>
<circle cx="172.9" cy="1454.5" r="2.75" fill="#000"/>
<circle cx="139.8" cy="1449.0" r="2.75" fill="#000"/>
<circle cx="149.1" cy="1456.8" r="2.75" fill="#000"/>
<circle cx="138.3" cy="1436.2" r="2.75" fill="#000"/>
<circle cx="144.5" cy="1457.4" r="2.75" fill="#000"/>
<circle cx="162.0" cy="1445.4" r="2.75" fill="#000"/>
<circle cx="146.1" cy="1460.1" r="2.75" fill="#000"/>
<circle cx="140.0" cy="1449.6" r="2.75" fill="#000"/>
<circle cx="172.0" cy="1467.8" r="2.75" fill="#000"/>
<circle cx="173.5" cy="1426.8" r="2.75" fill="#000"/>
<circle cx="159.4" cy="1455.3" r="2.75" fill="#000"/>
<circle cx="148.9" cy="1446.2" r="2.75" fill="#000"/>
<circle cx="173.7" cy="1433.1" r="2.75" fill="#000"/>
<circle cx="171.9" cy="1461.0" r="2.75" fill="#000"/>
<circle cx="158.6" cy="1448.4" r="2.75" fill="#000"/>
<circle cx="150.4" cy="1463.8" r="2.75" fill="#000"/>
<circle cx="148.1" cy="1460.3" r="2.75" fill="#000"/>
<circle cx="150.2" cy="1466.5" r="2.75" fill="#000"/>
<circle cx="183.0" cy="1447.2" r="2.75" fill="#000"/>
<circle cx="179.9" cy="1462.1" r="2.75" fill="#000"/>
<circle cx="181.3" cy="1450.9" r="2.75" fill="#000"/>
<circle cx="169.6" cy="1460.0" r="2.75" fill="#000"/>
<circle cx="178.0" cy="1477.6" r="2.75" fill="#000"/>
<circle cx="158.7" cy="1461.0" r="2.75" fill="#000"/>
<circle cx="152.5" cy="1461.5" r="2.75" fill="#000"/>
<circle cx="141.4" cy="1447.0" r="2.75" fill="#000"/>
<circle cx="139.0" cy="1468.8" r="2.75" fill="#000"/>
<circle cx="154.3" cy="1441.2" r="2.75" fill="#000"/>
<circle cx="139.7" cy="1441.3" r="2.75" fill="#000"/>
<circle cx="171.2" cy="1460.8" r="2.75" fill="#000"/>
<circle cx="166.0" cy="1461.9" r="2.75" fill="#000"/>
<circle cx="177.0" cy="1452.4" r="2.75" fill="#000"/>
<circle cx="179.4" cy="1467.3" r="2.75" fill="#000"/>
<circle cx="142.8" cy="1469.4" r="2.75" fill="#000"/>
<circle cx="139.4" cy="1444.6" r="2.75" fill="#000"/>
<circle cx="168.1" cy="1466.3" r="2.75" fill="#000"/>
<circle cx="151.5" cy="1464.6" r="2.75" fill="#000"/>
<circle cx="174.1" cy="1438.3" r="2.75" fill="#000"/>
<circle cx="158.0" cy="1444.9" r="2.75" fill="#000"/>
<circle cx="151.3" cy="1429.6" r="2.75" fill="#000"/>
<circle cx="153.1" cy="1461.4" r="2.75" fill="#000"/>
<circle cx="178.6" cy="1474.0" r="2.75" fill="#000"/>
<circle cx="157.5" cy="1458.4" r="2.75" fill="#000"/>
<circle cx="154.3" cy="1454.3" r="2.75" fill="#000"/>
<circle cx="148.1" cy="1461.5" r="2.75" fill="#000"/>
<circle cx="177.1" cy="1465.8" r="2.75" fill="#000"/>
<circle cx="147.4" cy="1442.9" r="2.75" fill="#000"/>
<circle cx="137.9" cy="1463.4" r="2.75" fill="#000"/>
<circle cx="175.9" cy="1456.0" r="2.75" fill="#000"/>
<circle cx="154.4" cy="1445.2" r="2.75" fill="#000"/>
<circle cx="183.0" cy="1465.1" r="2.75" fill="#000"/>
<circle cx="171.3" cy="1447.9" r="2.75" fill="#000"/>
<circle cx="168.3" cy="1455.6" r="2.75" fill="#000"/>
<circle cx="171.2" cy="1437.8" r="2.75" fill="#000"/>
<circle cx="154.8" cy="1463.9" r="2.75" fill="#000"/>
<circle cx="180.4" cy="1453.0" r="2.75" fill="#000"/>
<circle cx="138.9" cy="1439.5" r="2.75" fill="#000"/>
<circle cx="181.0" cy="1444.8" r="2.75" fill="#000"/>
<circle cx="180.1" cy="1455.9" r="2.75" fill="#000"/>
<circle cx="163.2" cy="1446.7" r="2.75" fill="#000"/>
<circle cx="168.7" cy="1462.4" r="2.75" fill="#000"/>
<circle cx="145.2" cy="1451.0" r="2.75" fill="#000"/>
<circle cx="173.3" cy="1465.4" r="2.75" fill="#000"/>
<circle cx="174.8" cy="1443.5" r="2.75" fill="#000"/>
<circle cx="159.9" cy="1457.5" r="2.75" fill="#000"/>
<circle cx="146.9" cy="1467.4" r="2.75" fill="#000"/>
<circle cx="178.2" cy="1450.2" r="2.75" fill="#000"/>
<circle cx="149.6" cy="1443.1" r="2.75" fill="#000"/>
<circle cx="145.4" cy="1449.9" r="2.75" fill="#000"/>
<circle cx="184.5" cy="1449.4" r="2.75" fill="#000"/>
<circle cx="183.9" cy="1461.9" r="2.75" fill="#000"/>
<circle cx="184.9" cy="1440.3" r="2.75" fill="#000"/>
<circle cx="158.6" cy="1463.9" r="2.75" fill="#000"/>
<circle cx="142.8" cy="1445.4" r="2.75" fill="#000"/>
<circle cx="139.3" cy="1445.0" r="2.75" fill="#000"/>
<circle cx="171.0" cy="1453.4" r="2.75" fill="#000"/>
<circle cx="159.9" cy="1456.1" r="2.75" fill="#000"/>
<circle cx="157.1" cy="1442.2" r="2.75" fill="#000"/>
<circle cx="158.3" cy="1462.5" r="2.75" fill="#000"/>
<circle cx="157.9" cy="1458.1" r="2.75" fill="#000"/>
<circle cx="179.9" cy="1447.1" r="2.75" fill="#000"/>
<circle cx="178.6" cy="1463.1" r="2.75" fill="#000"/>
<circle cx="159.5" cy="1460.8" r="2.75" fill="#000"/>
<circle cx="142.4" cy="1450.1" r="2.75" fill="#000"/>
<circle cx="171.9" cy="1454.3" r="2.75" fill="#000"/>
<circle cx="158.0" cy="1459.6" r="2.75" fill="#000"/>
<circle cx="157.3" cy="1455.1" r="2.75" fill="#000"/>
<circle cx="146.5" cy="1461.0" r="2.75" fill="#000"/>
<circle cx="156.4" cy="1460.1" r="2.75" fill="#000"/>
<circle cx="139.5" cy="1456.4" r="2.75" fill="#000"/>
<circle cx="175.2" cy="1456.6" r="2.75" fill="#000"/>
<circle cx="142.6" cy="1471.2" r="2.75" fill="#000"/>
<circle cx="172.1" cy="1457.9" r="2.75" fill="#000"/>
<circle cx="177.5" cy="1456.1" r="2.75" fill="#000"/>
<circle cx="183.2" cy="1456.9" r="2.75" fill="#000"/>
<circle cx="156.5" cy="1447.1" r="2.75" fill="#000"/>
<circle cx="185.0" cy="1462.7" r="2.75" fill="#000"/>
<circle cx="150.9" cy="1450.8" r="2.75" fill="#000"/>
<circle cx="157.8" cy="1452.6" r="2.75" fill="#000"/>
<circle cx="154.6" cy="1454.3" r="2.75" fill="#000"/>
<circle cx="173.3" cy="1447.9" r="2.75" fill="#000"/>
<circle cx="148.2" cy="1471.2" r="2.75" fill="#000"/>
<circle cx="147.9" cy="1463.7" r="2.75" fill="#000"/>
<circle cx="176.6" cy="1442.5" r="2.75" fill="#000"/>
<circle cx="164.7" cy="1459.8" r="2.75" fill="#000"/>
<circle cx="154.7" cy="1447.5" r="2.75" fill="#000"/>
<circle cx="176.9" cy="1460.1" r="2.75" fill="#000"/>
<circle cx="164.0" cy="1454.8" r="2.75" fill="#000"/>
<circle cx="154.7" cy="1442.6" r="2.75" fill="#000"/>
<circle cx="155.8" cy="1465.9" r="2.75" fill="#000"/>
<circle cx="146.6" cy="1448.2" r="2.75" fill="#000"/>
<circle cx="151.2" cy="1425.6" r="2.75" fill="#000"/>
<circle cx="160.7" cy="1448.0" r="2.75" fill="#000"/>
<circle cx="169.3" cy="1454.2" r="2.75" fill="#000"/>
<circle cx="178.7" cy="1452.6" r="2.75" fill="#000"/>
<circle cx="181.2" cy="1436.3" r="2.75" fill="#000"/>
<circle cx="177.6" cy="1463.5" r="2.75" fill="#000"/>
<circle cx="138.3" cy="1459.4" r="2.75" fill="#000"/>
<circle cx="149.7" cy="1472.7" r="2.75" fill="#000"/>
<circle cx="148.9" cy="1439.9" r="2.75" fill="#000"/>
<circle cx="145.0" cy="1462.9" r="2.75" fill="#000"/>
<circle cx="145.8" cy="1468.6" r="2.75" fill="#000"/>
<circle cx="175.2" cy="1467.7" r="2.75" fill="#000"/>
<circle cx="175.5" cy="1461.0" r="2.75" fill="#000"/>
<circle cx="171.0" cy="1465.1" r="2.75" fill="#000"/>
<circle cx="158.8" cy="1457.2" r="2.75" fill="#000"/>
<circle cx="150.4" cy="1467.7" r="2.75" fill="#000"/>
<circle cx="161.4" cy="1446.2" r="2.75" fill="#000"/>
<circle cx="144.6" cy="1435.7" r="2.75" fill="#000"/>
<circle cx="163.6" cy="1456.0" r="2.75" fill="#000"/>
<circle cx="178.1" cy="1465.7" r="2.75" fill="#000"/>
<circle cx="169.6" cy="1455.1" r="2.75" fill="#000"/>
<circle cx="157.8" cy="1465.2" r="2.75" fill="#000"/>
<path d="M224.2,1424.5 C225.1,1426.2 227.2,1432.1 229.8,1435.0 C232.4,1437.9 236.5,1437.8 239.8,1442.0 C243.1,1446.2 250.3,1455.1 249.8,1460.3 C249.3,1465.5 240.9,1469.1 236.8,1473.3 C232.8,1477.5 227.7,1482.9 225.5,1485.5 C223.3,1488.1 224.1,1488.4 223.8,1489.0 L219.8,1489.0 C219.5,1488.4 220.3,1488.1 218.1,1485.5 C215.9,1482.9 210.9,1477.5 206.8,1473.3 C202.8,1469.1 194.3,1465.5 193.8,1460.3 C193.3,1455.1 200.5,1446.2 203.8,1442.0 C207.1,1437.8 211.2,1437.9 213.8,1435.0 C216.4,1432.1 218.5,1426.2 219.4,1424.5 Z" fill="#e4252b" stroke="#333333" stroke-width="2.6" stroke-linejoin="round"/>
<circle cx="228.4" cy="1478.3" r="2.75" fill="#000"/>
<circle cx="227.1" cy="1461.6" r="2.75" fill="#000"/>
<circle cx="213.7" cy="1464.1" r="2.75" fill="#000"/>
<circle cx="221.1" cy="1482.5" r="2.75" fill="#000"/>
<circle cx="232.3" cy="1472.0" r="2.75" fill="#000"/>
<circle cx="239.2" cy="1460.7" r="2.75" fill="#000"/>
<circle cx="223.0" cy="1453.8" r="2.75" fill="#000"/>
<circle cx="218.7" cy="1465.8" r="2.75" fill="#000"/>
<circle cx="237.5" cy="1455.8" r="2.75" fill="#000"/>
<circle cx="217.2" cy="1450.8" r="2.75" fill="#000"/>
<circle cx="222.1" cy="1457.1" r="2.75" fill="#000"/>
<circle cx="235.8" cy="1481.4" r="2.75" fill="#000"/>
<circle cx="212.2" cy="1451.7" r="2.75" fill="#000"/>
<circle cx="235.4" cy="1459.6" r="2.75" fill="#000"/>
<circle cx="240.3" cy="1436.2" r="2.75" fill="#000"/>
<circle cx="212.2" cy="1458.6" r="2.75" fill="#000"/>
<circle cx="242.0" cy="1426.8" r="2.75" fill="#000"/>
<circle cx="235.7" cy="1461.2" r="2.75" fill="#000"/>
<circle cx="227.4" cy="1474.0" r="2.75" fill="#000"/>
<circle cx="226.4" cy="1461.2" r="2.75" fill="#000"/>
<circle cx="229.8" cy="1463.2" r="2.75" fill="#000"/>
<circle cx="202.7" cy="1456.2" r="2.75" fill="#000"/>
<circle cx="235.0" cy="1443.9" r="2.75" fill="#000"/>
<circle cx="215.5" cy="1474.1" r="2.75" fill="#000"/>
<circle cx="224.8" cy="1469.1" r="2.75" fill="#000"/>
<circle cx="218.0" cy="1448.0" r="2.75" fill="#000"/>
<circle cx="228.6" cy="1451.9" r="2.75" fill="#000"/>
<circle cx="225.0" cy="1475.8" r="2.75" fill="#000"/>
<circle cx="236.7" cy="1435.8" r="2.75" fill="#000"/>
<circle cx="219.2" cy="1460.2" r="2.75" fill="#000"/>
<circle cx="226.2" cy="1430.2" r="2.75" fill="#000"/>
<circle cx="220.6" cy="1476.9" r="2.75" fill="#000"/>
<circle cx="228.7" cy="1453.2" r="2.75" fill="#000"/>
<circle cx="198.5" cy="1445.9" r="2.75" fill="#000"/>
<circle cx="203.6" cy="1427.3" r="2.75" fill="#000"/>
<circle cx="239.5" cy="1479.5" r="2.75" fill="#000"/>
<circle cx="232.3" cy="1442.0" r="2.75" fill="#000"/>
<circle cx="206.8" cy="1448.8" r="2.75" fill="#000"/>
<circle cx="232.1" cy="1437.6" r="2.75" fill="#000"/>
<circle cx="201.8" cy="1470.3" r="2.75" fill="#000"/>
<circle cx="219.9" cy="1461.2" r="2.75" fill="#000"/>
<circle cx="244.1" cy="1476.0" r="2.75" fill="#000"/>
<circle cx="198.5" cy="1464.2" r="2.75" fill="#000"/>
<circle cx="201.6" cy="1462.7" r="2.75" fill="#000"/>
<circle cx="205.8" cy="1450.7" r="2.75" fill="#000"/>
<circle cx="200.7" cy="1471.3" r="2.75" fill="#000"/>
<circle cx="218.9" cy="1454.0" r="2.75" fill="#000"/>
<circle cx="236.1" cy="1463.1" r="2.75" fill="#000"/>
<circle cx="228.0" cy="1454.2" r="2.75" fill="#000"/>
<circle cx="235.5" cy="1455.5" r="2.75" fill="#000"/>
<circle cx="225.0" cy="1477.9" r="2.75" fill="#000"/>
<circle cx="244.5" cy="1449.4" r="2.75" fill="#000"/>
<circle cx="213.7" cy="1464.0" r="2.75" fill="#000"/>
<circle cx="237.7" cy="1461.6" r="2.75" fill="#000"/>
<circle cx="218.4" cy="1460.7" r="2.75" fill="#000"/>
<circle cx="230.7" cy="1472.5" r="2.75" fill="#000"/>
<circle cx="236.6" cy="1461.5" r="2.75" fill="#000"/>
<circle cx="210.4" cy="1449.3" r="2.75" fill="#000"/>
<circle cx="237.0" cy="1455.9" r="2.75" fill="#000"/>
<circle cx="237.8" cy="1472.1" r="2.75" fill="#000"/>
<circle cx="225.3" cy="1469.2" r="2.75" fill="#000"/>
<circle cx="236.5" cy="1450.9" r="2.75" fill="#000"/>
<circle cx="214.4" cy="1464.1" r="2.75" fill="#000"/>
<circle cx="236.1" cy="1440.3" r="2.75" fill="#000"/>
<circle cx="242.5" cy="1447.0" r="2.75" fill="#000"/>
<circle cx="230.3" cy="1448.6" r="2.75" fill="#000"/>
<circle cx="210.0" cy="1455.2" r="2.75" fill="#000"/>
<circle cx="219.9" cy="1466.5" r="2.75" fill="#000"/>
<circle cx="234.9" cy="1440.5" r="2.75" fill="#000"/>
<circle cx="240.9" cy="1448.6" r="2.75" fill="#000"/>
<circle cx="220.7" cy="1472.7" r="2.75" fill="#000"/>
<circle cx="207.0" cy="1458.8" r="2.75" fill="#000"/>
<circle cx="215.2" cy="1445.1" r="2.75" fill="#000"/>
<circle cx="222.6" cy="1459.2" r="2.75" fill="#000"/>
<circle cx="245.7" cy="1443.9" r="2.75" fill="#000"/>
<circle cx="228.2" cy="1453.2" r="2.75" fill="#000"/>
<circle cx="226.5" cy="1467.0" r="2.75" fill="#000"/>
<circle cx="198.8" cy="1452.1" r="2.75" fill="#000"/>
<circle cx="239.4" cy="1435.0" r="2.75" fill="#000"/>
<circle cx="210.4" cy="1457.7" r="2.75" fill="#000"/>
<circle cx="243.2" cy="1466.1" r="2.75" fill="#000"/>
<circle cx="244.0" cy="1466.6" r="2.75" fill="#000"/>
<circle cx="207.4" cy="1447.6" r="2.75" fill="#000"/>
<circle cx="200.2" cy="1444.0" r="2.75" fill="#000"/>
<circle cx="219.8" cy="1460.1" r="2.75" fill="#000"/>
<circle cx="200.9" cy="1478.1" r="2.75" fill="#000"/>
<circle cx="203.6" cy="1460.8" r="2.75" fill="#000"/>
<circle cx="224.9" cy="1478.5" r="2.75" fill="#000"/>
<circle cx="229.9" cy="1462.8" r="2.75" fill="#000"/>
<circle cx="205.5" cy="1453.8" r="2.75" fill="#000"/>
<circle cx="208.4" cy="1480.6" r="2.75" fill="#000"/>
<circle cx="214.7" cy="1435.2" r="2.75" fill="#000"/>
<circle cx="238.0" cy="1474.4" r="2.75" fill="#000"/>
<circle cx="231.9" cy="1437.0" r="2.75" fill="#000"/>
<circle cx="200.5" cy="1462.9" r="2.75" fill="#000"/>
<circle cx="242.9" cy="1443.4" r="2.75" fill="#000"/>
<circle cx="226.2" cy="1463.3" r="2.75" fill="#000"/>
<circle cx="213.3" cy="1465.6" r="2.75" fill="#000"/>
<circle cx="220.9" cy="1447.7" r="2.75" fill="#000"/>
<circle cx="204.7" cy="1444.3" r="2.75" fill="#000"/>
<circle cx="232.2" cy="1462.9" r="2.75" fill="#000"/>
<circle cx="242.3" cy="1445.7" r="2.75" fill="#000"/>
<circle cx="239.4" cy="1447.4" r="2.75" fill="#000"/>
<circle cx="219.3" cy="1472.2" r="2.75" fill="#000"/>
<circle cx="238.2" cy="1441.3" r="2.75" fill="#000"/>
<circle cx="214.1" cy="1460.9" r="2.75" fill="#000"/>
<circle cx="228.0" cy="1468.7" r="2.75" fill="#000"/>
<circle cx="200.5" cy="1442.4" r="2.75" fill="#000"/>
<circle cx="204.7" cy="1464.9" r="2.75" fill="#000"/>
<circle cx="217.6" cy="1471.0" r="2.75" fill="#000"/>
<circle cx="238.1" cy="1444.3" r="2.75" fill="#000"/>
<circle cx="221.4" cy="1451.5" r="2.75" fill="#000"/>
<circle cx="203.3" cy="1452.8" r="2.75" fill="#000"/>
<circle cx="240.8" cy="1480.7" r="2.75" fill="#000"/>
<circle cx="220.7" cy="1461.9" r="2.75" fill="#000"/>
<circle cx="207.5" cy="1449.8" r="2.75" fill="#000"/>
<circle cx="245.7" cy="1454.8" r="2.75" fill="#000"/>
<circle cx="211.7" cy="1474.6" r="2.75" fill="#000"/>
<circle cx="232.7" cy="1472.1" r="2.75" fill="#000"/>
<circle cx="198.6" cy="1451.1" r="2.75" fill="#000"/>
<circle cx="204.5" cy="1467.2" r="2.75" fill="#000"/>
<circle cx="223.1" cy="1426.4" r="2.75" fill="#000"/>
<circle cx="241.6" cy="1446.5" r="2.75" fill="#000"/>
<circle cx="204.4" cy="1446.7" r="2.75" fill="#000"/>
<circle cx="232.0" cy="1445.2" r="2.75" fill="#000"/>
<circle cx="202.0" cy="1445.8" r="2.75" fill="#000"/>
<circle cx="210.9" cy="1460.9" r="2.75" fill="#000"/>
<circle cx="231.8" cy="1446.8" r="2.75" fill="#000"/>
<circle cx="207.5" cy="1468.9" r="2.75" fill="#000"/>
<circle cx="217.4" cy="1439.0" r="2.75" fill="#000"/>
<circle cx="236.7" cy="1464.3" r="2.75" fill="#000"/>
<circle cx="239.3" cy="1452.7" r="2.75" fill="#000"/>
<circle cx="241.5" cy="1456.7" r="2.75" fill="#000"/>
<circle cx="210.6" cy="1458.2" r="2.75" fill="#000"/>
<circle cx="215.4" cy="1447.2" r="2.75" fill="#000"/>
<circle cx="226.4" cy="1444.5" r="2.75" fill="#000"/>
<circle cx="219.2" cy="1427.1" r="2.75" fill="#000"/>
<circle cx="232.1" cy="1456.9" r="2.75" fill="#000"/>
<circle cx="213.2" cy="1469.2" r="2.75" fill="#000"/>
<circle cx="233.9" cy="1463.4" r="2.75" fill="#000"/>
<circle cx="243.6" cy="1438.4" r="2.75" fill="#000"/>
<circle cx="223.3" cy="1457.6" r="2.75" fill="#000"/>
<circle cx="244.2" cy="1458.5" r="2.75" fill="#000"/>
<circle cx="202.7" cy="1446.0" r="2.75" fill="#000"/>
<circle cx="199.2" cy="1449.0" r="2.75" fill="#000"/>
<circle cx="207.2" cy="1441.1" r="2.75" fill="#000"/>
<circle cx="225.5" cy="1431.4" r="2.75" fill="#000"/>
<circle cx="202.7" cy="1457.9" r="2.75" fill="#000"/>
<circle cx="200.0" cy="1471.6" r="2.75" fill="#000"/>
<circle cx="221.8" cy="1442.9" r="2.75" fill="#000"/>
<circle cx="217.3" cy="1449.5" r="2.75" fill="#000"/>
<circle cx="239.1" cy="1443.1" r="2.75" fill="#000"/>
<circle cx="233.6" cy="1443.0" r="2.75" fill="#000"/>
<circle cx="242.8" cy="1445.3" r="2.75" fill="#000"/>
<circle cx="238.1" cy="1453.7" r="2.75" fill="#000"/>
<circle cx="243.0" cy="1457.4" r="2.75" fill="#000"/>
<circle cx="209.3" cy="1465.9" r="2.75" fill="#000"/>
<circle cx="244.9" cy="1451.9" r="2.75" fill="#000"/>
<circle cx="236.9" cy="1468.0" r="2.75" fill="#000"/>
<circle cx="222.6" cy="1469.5" r="2.75" fill="#000"/>
<circle cx="209.8" cy="1479.3" r="2.75" fill="#000"/>
<circle cx="215.3" cy="1456.0" r="2.75" fill="#000"/>
<circle cx="218.6" cy="1458.6" r="2.75" fill="#000"/>
<circle cx="204.5" cy="1456.7" r="2.75" fill="#000"/>
<circle cx="242.8" cy="1480.3" r="2.75" fill="#000"/>
<circle cx="240.2" cy="1461.4" r="2.75" fill="#000"/>
<circle cx="228.6" cy="1472.0" r="2.75" fill="#000"/>
<circle cx="210.9" cy="1448.7" r="2.75" fill="#000"/>
<circle cx="227.6" cy="1460.2" r="2.75" fill="#000"/>
<circle cx="218.6" cy="1448.4" r="2.75" fill="#000"/>
<path d="M284.0,1377.0 C284.2,1380.7 284.0,1393.8 285.3,1399.0 C286.6,1404.2 288.9,1405.3 291.6,1408.0 C294.3,1410.7 298.5,1411.2 301.6,1415.0 C304.7,1418.8 309.8,1424.5 310.0,1430.6 C310.2,1436.7 305.7,1444.5 302.6,1451.5 C299.5,1458.5 293.4,1469.0 291.6,1472.5 L271.6,1472.5 C269.8,1469.0 263.7,1458.5 260.6,1451.5 C257.5,1444.5 253.0,1436.7 253.2,1430.6 C253.4,1424.5 258.5,1418.8 261.6,1415.0 C264.7,1411.2 268.9,1410.7 271.6,1408.0 C274.3,1405.3 276.6,1404.2 277.9,1399.0 C279.2,1393.8 279.0,1380.7 279.2,1377.0 Z" fill="#4a4a4a" stroke="#333333" stroke-width="2.6" stroke-linejoin="round"/>
<circle cx="272.3" cy="1464.7" r="2.75" fill="#000"/>
<circle cx="286.1" cy="1441.3" r="2.75" fill="#000"/>
<circle cx="270.5" cy="1465.2" r="2.75" fill="#000"/>
<circle cx="264.7" cy="1433.8" r="2.75" fill="#000"/>
<circle cx="271.7" cy="1415.2" r="2.75" fill="#000"/>
<circle cx="269.3" cy="1429.5" r="2.75" fill="#000"/>
<circle cx="297.9" cy="1411.9" r="2.75" fill="#000"/>
<circle cx="288.8" cy="1440.2" r="2.75" fill="#000"/>
<circle cx="279.7" cy="1420.8" r="2.75" fill="#000"/>
<circle cx="280.1" cy="1438.2" r="2.75" fill="#000"/>
<circle cx="268.2" cy="1426.3" r="2.75" fill="#000"/>
<circle cx="285.7" cy="1435.6" r="2.75" fill="#000"/>
<circle cx="299.0" cy="1386.6" r="2.75" fill="#000"/>
<circle cx="281.2" cy="1422.1" r="2.75" fill="#000"/>
<circle cx="271.8" cy="1425.9" r="2.75" fill="#000"/>
<circle cx="260.8" cy="1449.7" r="2.75" fill="#000"/>
<circle cx="260.6" cy="1456.6" r="2.75" fill="#000"/>
<circle cx="292.9" cy="1429.7" r="2.75" fill="#000"/>
<circle cx="303.6" cy="1413.8" r="2.75" fill="#000"/>
<circle cx="273.8" cy="1447.6" r="2.75" fill="#000"/>
<circle cx="287.2" cy="1428.5" r="2.75" fill="#000"/>
<circle cx="282.5" cy="1455.3" r="2.75" fill="#000"/>
<circle cx="294.1" cy="1448.9" r="2.75" fill="#000"/>
<circle cx="291.6" cy="1434.3" r="2.75" fill="#000"/>
<circle cx="299.4" cy="1460.2" r="2.75" fill="#000"/>
<circle cx="285.7" cy="1380.9" r="2.75" fill="#000"/>
<circle cx="285.1" cy="1434.7" r="2.75" fill="#000"/>
<circle cx="299.5" cy="1432.2" r="2.75" fill="#000"/>
<circle cx="279.3" cy="1439.8" r="2.75" fill="#000"/>
<circle cx="271.7" cy="1434.2" r="2.75" fill="#000"/>
<circle cx="276.1" cy="1429.9" r="2.75" fill="#000"/>
<circle cx="298.4" cy="1427.1" r="2.75" fill="#000"/>
<circle cx="266.4" cy="1433.6" r="2.75" fill="#000"/>
<circle cx="285.2" cy="1424.6" r="2.75" fill="#000"/>
<circle cx="301.8" cy="1437.1" r="2.75" fill="#000"/>
<circle cx="297.8" cy="1427.2" r="2.75" fill="#000"/>
<circle cx="278.1" cy="1464.5" r="2.75" fill="#000"/>
<circle cx="259.9" cy="1459.9" r="2.75" fill="#000"/>
<circle cx="301.8" cy="1437.9" r="2.75" fill="#000"/>
<circle cx="305.5" cy="1450.5" r="2.75" fill="#000"/>
<circle cx="290.5" cy="1435.9" r="2.75" fill="#000"/>
<circle cx="286.1" cy="1429.6" r="2.75" fill="#000"/>
<circle cx="290.1" cy="1429.0" r="2.75" fill="#000"/>
<circle cx="275.6" cy="1435.0" r="2.75" fill="#000"/>
<circle cx="285.2" cy="1429.9" r="2.75" fill="#000"/>
<path d="M344.4,1396.0 C344.5,1398.7 344.7,1408.0 345.2,1412.0 C345.7,1416.0 346.7,1416.5 347.5,1420.0 C348.3,1423.5 347.6,1428.2 350.0,1433.0 C352.4,1437.8 358.6,1443.5 362.0,1449.0 C365.4,1454.5 371.5,1460.8 370.5,1466.0 C369.5,1471.2 360.1,1475.9 356.0,1480.0 C351.9,1484.1 347.4,1489.0 345.7,1490.8 L338.3,1490.8 C336.6,1489.0 332.1,1484.1 328.0,1480.0 C323.9,1475.9 314.5,1471.2 313.5,1466.0 C312.5,1460.8 318.6,1454.5 322.0,1449.0 C325.4,1443.5 331.6,1437.8 334.0,1433.0 C336.4,1428.2 335.7,1423.5 336.5,1420.0 C337.3,1416.5 338.3,1416.0 338.8,1412.0 C339.3,1408.0 339.5,1398.7 339.6,1396.0 Z" fill="#bdbdbd" stroke="#333333" stroke-width="2.6" stroke-linejoin="round"/>
<circle cx="341.4" cy="1475.8" r="2.75" fill="#000"/>
<circle cx="365.8" cy="1458.6" r="2.75" fill="#000"/>
<circle cx="357.2" cy="1453.3" r="2.75" fill="#000"/>
<circle cx="365.0" cy="1443.1" r="2.75" fill="#000"/>
<circle cx="323.3" cy="1472.3" r="2.75" fill="#000"/>
<circle cx="357.4" cy="1476.8" r="2.75" fill="#000"/>
<circle cx="338.2" cy="1488.5" r="2.75" fill="#000"/>
<circle cx="342.6" cy="1441.5" r="2.75" fill="#000"/>
<circle cx="326.8" cy="1459.5" r="2.75" fill="#000"/>
<circle cx="335.0" cy="1465.3" r="2.75" fill="#000"/>
<circle cx="320.0" cy="1488.2" r="2.75" fill="#000"/>
<circle cx="332.7" cy="1457.1" r="2.75" fill="#000"/>
<circle cx="332.6" cy="1466.0" r="2.75" fill="#000"/>
<circle cx="350.1" cy="1473.8" r="2.75" fill="#000"/>
<circle cx="344.6" cy="1445.0" r="2.75" fill="#000"/>
<circle cx="343.5" cy="1450.1" r="2.75" fill="#000"/>
<circle cx="337.7" cy="1489.3" r="2.75" fill="#000"/>
<circle cx="354.5" cy="1438.1" r="2.75" fill="#000"/>
<circle cx="326.2" cy="1436.4" r="2.75" fill="#000"/>
<circle cx="347.4" cy="1462.3" r="2.75" fill="#000"/>
<circle cx="318.6" cy="1471.7" r="2.75" fill="#000"/>
<circle cx="352.3" cy="1469.3" r="2.75" fill="#000"/>
<circle cx="330.8" cy="1452.7" r="2.75" fill="#000"/>
<circle cx="345.9" cy="1436.0" r="2.75" fill="#000"/>
<circle cx="336.5" cy="1453.2" r="2.75" fill="#000"/>
<circle cx="346.0" cy="1425.1" r="2.75" fill="#000"/>
<circle cx="347.8" cy="1482.6" r="2.75" fill="#000"/>
<circle cx="362.7" cy="1447.5" r="2.75" fill="#000"/>
<circle cx="361.1" cy="1473.4" r="2.75" fill="#000"/>
<circle cx="346.9" cy="1472.0" r="2.75" fill="#000"/>
<circle cx="363.6" cy="1482.7" r="2.75" fill="#000"/>
<circle cx="352.5" cy="1448.0" r="2.75" fill="#000"/>
<circle cx="360.0" cy="1446.3" r="2.75" fill="#000"/>
<circle cx="329.7" cy="1460.5" r="2.75" fill="#000"/>
<circle cx="327.0" cy="1443.2" r="2.75" fill="#000"/>
<circle cx="345.0" cy="1483.6" r="2.75" fill="#000"/>
<circle cx="336.5" cy="1437.1" r="2.75" fill="#000"/>
<circle cx="323.9" cy="1455.9" r="2.75" fill="#000"/>
<circle cx="329.8" cy="1472.1" r="2.75" fill="#000"/>
<circle cx="329.4" cy="1444.7" r="2.75" fill="#000"/>
<circle cx="334.4" cy="1416.5" r="2.75" fill="#000"/>
<circle cx="322.4" cy="1442.1" r="2.75" fill="#000"/>
<circle cx="324.1" cy="1450.4" r="2.75" fill="#000"/>
<circle cx="356.6" cy="1458.9" r="2.75" fill="#000"/>
<circle cx="352.7" cy="1441.6" r="2.75" fill="#000"/>
<circle cx="328.0" cy="1455.7" r="2.75" fill="#000"/>
<circle cx="328.9" cy="1481.6" r="2.75" fill="#000"/>
<circle cx="351.9" cy="1457.7" r="2.75" fill="#000"/>
<circle cx="346.2" cy="1450.5" r="2.75" fill="#000"/>
<circle cx="347.2" cy="1454.5" r="2.75" fill="#000"/>
<circle cx="323.9" cy="1447.2" r="2.75" fill="#000"/>
<circle cx="331.0" cy="1460.1" r="2.75" fill="#000"/>
<circle cx="349.6" cy="1469.3" r="2.75" fill="#000"/>
<circle cx="336.7" cy="1463.1" r="2.75" fill="#000"/>
<circle cx="358.8" cy="1431.9" r="2.75" fill="#000"/>
<circle cx="323.2" cy="1451.8" r="2.75" fill="#000"/>
<circle cx="342.0" cy="1461.5" r="2.75" fill="#000"/>
<circle cx="332.9" cy="1450.8" r="2.75" fill="#000"/>
<circle cx="352.4" cy="1446.0" r="2.75" fill="#000"/>
<circle cx="361.6" cy="1449.7" r="2.75" fill="#000"/>
<circle cx="359.3" cy="1471.4" r="2.75" fill="#000"/>
<circle cx="319.4" cy="1439.8" r="2.75" fill="#000"/>
<circle cx="334.9" cy="1466.9" r="2.75" fill="#000"/>
<circle cx="351.6" cy="1456.9" r="2.75" fill="#000"/>
<circle cx="334.9" cy="1448.8" r="2.75" fill="#000"/>
<line x1="66.5" y1="1237.2" x2="66.5" y2="1504.8" stroke="#000" stroke-width="4"/>
<line x1="64.5" y1="1502.8" x2="379.0" y2="1502.8" stroke="#000" stroke-width="4"/>
<line x1="57.5" y1="1459.7" x2="66.5" y2="1459.7" stroke="#000" stroke-width="4.5"/>
<text x="49.3" y="1469.9" font-size="23" text-anchor="end" fill="#000">1</text>
<line x1="57.5" y1="1407.5" x2="66.5" y2="1407.5" stroke="#000" stroke-width="4.5"/>
<text x="49.3" y="1417.7" font-size="23" text-anchor="end" fill="#000">2</text>
<line x1="57.5" y1="1355.3" x2="66.5" y2="1355.3" stroke="#000" stroke-width="4.5"/>
<text x="49.3" y="1365.5" font-size="23" text-anchor="end" fill="#000">3</text>
<line x1="57.5" y1="1303.1" x2="66.5" y2="1303.1" stroke="#000" stroke-width="4.5"/>
<text x="49.3" y="1313.3" font-size="23" text-anchor="end" fill="#000">4</text>
<line x1="57.5" y1="1250.9" x2="66.5" y2="1250.9" stroke="#000" stroke-width="4.5"/>
<text x="49.3" y="1261.1" font-size="23" text-anchor="end" fill="#000">5</text>
<line x1="101.8" y1="1502.8" x2="101.8" y2="1511.8" stroke="#000" stroke-width="4.5"/>
<text x="106.8" y="1522.8" font-size="28.5" text-anchor="end" fill="#000" transform="rotate(-45 106.8 1522.8)">20 min</text>
<line x1="161.7" y1="1502.8" x2="161.7" y2="1511.8" stroke="#000" stroke-width="4.5"/>
<text x="166.1" y="1522.8" font-size="28.5" text-anchor="end" fill="#000" transform="rotate(-45 166.1 1522.8)">40 min</text>
<line x1="221.8" y1="1502.8" x2="221.8" y2="1511.8" stroke="#000" stroke-width="4.5"/>
<text x="226.4" y="1522.8" font-size="28.5" text-anchor="end" fill="#000" transform="rotate(-45 226.4 1522.8)">60 min</text>
<line x1="281.6" y1="1502.8" x2="281.6" y2="1511.8" stroke="#000" stroke-width="4.5"/>
<text x="297.8" y="1522.8" font-size="28.5" text-anchor="end" fill="#000" transform="rotate(-45 297.8 1522.8)">120 min</text>
<line x1="342.0" y1="1502.8" x2="342.0" y2="1511.8" stroke="#000" stroke-width="4.5"/>
<text x="357.5" y="1522.8" font-size="28.5" text-anchor="end" fill="#000" transform="rotate(-45 357.5 1522.8)">180 min</text>
<text x="24.1" y="1365.7" font-size="30" text-anchor="middle" fill="#000" transform="rotate(-90 24.1 1365.7)" textLength="242" lengthAdjust="spacingAndGlyphs">% UMI HSP genes</text>
<path d="M516.7,1334.0 C516.8,1341.1 515.3,1367.1 516.9,1376.7 C518.5,1386.3 523.2,1386.6 526.5,1391.5 C529.8,1396.4 534.2,1401.6 536.5,1406.3 C538.8,1411.0 540.4,1415.2 540.1,1419.7 C539.8,1424.2 537.4,1429.0 534.5,1433.0 C531.6,1437.0 525.4,1440.4 522.5,1443.4 C519.6,1446.4 518.1,1445.9 517.2,1450.8 C516.3,1455.7 516.9,1469.3 516.9,1473.0 L512.1,1473.0 C512.1,1469.3 512.7,1455.7 511.8,1450.8 C510.9,1445.9 509.4,1446.4 506.5,1443.4 C503.6,1440.4 497.4,1437.0 494.5,1433.0 C491.6,1429.0 489.2,1424.2 488.9,1419.7 C488.6,1415.2 490.2,1411.0 492.5,1406.3 C494.8,1401.6 499.2,1396.4 502.5,1391.5 C505.8,1386.6 510.5,1386.3 512.1,1376.7 C513.7,1367.1 512.2,1341.1 512.3,1334.0 Z" fill="#f5d21c" stroke="#333333" stroke-width="2.6" stroke-linejoin="round"/>
<circle cx="498.0" cy="1421.3" r="2.75" fill="#000"/>
<circle cx="523.6" cy="1437.9" r="2.75" fill="#000"/>
<circle cx="500.0" cy="1368.3" r="2.75" fill="#000"/>
<circle cx="509.4" cy="1399.3" r="2.75" fill="#000"/>
<circle cx="520.4" cy="1369.5" r="2.75" fill="#000"/>
<circle cx="517.5" cy="1398.7" r="2.75" fill="#000"/>
<circle cx="511.7" cy="1425.4" r="2.75" fill="#000"/>
<circle cx="493.0" cy="1424.2" r="2.75" fill="#000"/>
<circle cx="505.3" cy="1432.7" r="2.75" fill="#000"/>
<circle cx="519.1" cy="1371.8" r="2.75" fill="#000"/>
<circle cx="497.8" cy="1373.5" r="2.75" fill="#000"/>
<circle cx="532.3" cy="1429.3" r="2.75" fill="#000"/>
<circle cx="522.9" cy="1426.5" r="2.75" fill="#000"/>
<circle cx="528.6" cy="1411.3" r="2.75" fill="#000"/>
<circle cx="533.7" cy="1405.0" r="2.75" fill="#000"/>
<circle cx="522.7" cy="1412.9" r="2.75" fill="#000"/>
<circle cx="520.0" cy="1427.5" r="2.75" fill="#000"/>
<circle cx="523.0" cy="1413.1" r="2.75" fill="#000"/>
<circle cx="532.9" cy="1412.3" r="2.75" fill="#000"/>
<circle cx="494.9" cy="1394.1" r="2.75" fill="#000"/>
<circle cx="504.2" cy="1426.1" r="2.75" fill="#000"/>
<circle cx="520.4" cy="1418.3" r="2.75" fill="#000"/>
<circle cx="495.6" cy="1417.4" r="2.75" fill="#000"/>
<circle cx="501.7" cy="1409.5" r="2.75" fill="#000"/>
<circle cx="523.4" cy="1406.5" r="2.75" fill="#000"/>
<circle cx="503.4" cy="1422.7" r="2.75" fill="#000"/>
<circle cx="533.2" cy="1416.3" r="2.75" fill="#000"/>
<circle cx="531.0" cy="1408.0" r="2.75" fill="#000"/>
<circle cx="507.3" cy="1395.3" r="2.75" fill="#000"/>
<circle cx="525.7" cy="1431.1" r="2.75" fill="#000"/>
<circle cx="518.7" cy="1398.4" r="2.75" fill="#000"/>
<circle cx="528.7" cy="1414.0" r="2.75" fill="#000"/>
<circle cx="508.5" cy="1391.9" r="2.75" fill="#000"/>
<circle cx="505.1" cy="1400.5" r="2.75" fill="#000"/>
<circle cx="512.3" cy="1399.9" r="2.75" fill="#000"/>
<circle cx="513.2" cy="1392.0" r="2.75" fill="#000"/>
<circle cx="496.1" cy="1409.2" r="2.75" fill="#000"/>
<circle cx="525.3" cy="1346.8" r="2.75" fill="#000"/>
<circle cx="535.1" cy="1388.1" r="2.75" fill="#000"/>
<circle cx="514.0" cy="1418.5" r="2.75" fill="#000"/>
<circle cx="516.4" cy="1411.9" r="2.75" fill="#000"/>
<circle cx="520.7" cy="1342.2" r="2.75" fill="#000"/>
<circle cx="521.1" cy="1422.3" r="2.75" fill="#000"/>
<circle cx="499.0" cy="1403.7" r="2.75" fill="#000"/>
<circle cx="529.1" cy="1358.7" r="2.75" fill="#000"/>
<circle cx="520.4" cy="1405.1" r="2.75" fill="#000"/>
<circle cx="500.2" cy="1432.9" r="2.75" fill="#000"/>
<circle cx="524.9" cy="1430.1" r="2.75" fill="#000"/>
<circle cx="528.5" cy="1407.9" r="2.75" fill="#000"/>
<circle cx="516.7" cy="1406.8" r="2.75" fill="#000"/>
<circle cx="503.3" cy="1410.1" r="2.75" fill="#000"/>
<circle cx="520.0" cy="1370.6" r="2.75" fill="#000"/>
<circle cx="531.9" cy="1431.3" r="2.75" fill="#000"/>
<circle cx="514.5" cy="1441.8" r="2.75" fill="#000"/>
<circle cx="518.0" cy="1396.4" r="2.75" fill="#000"/>
<circle cx="500.0" cy="1386.6" r="2.75" fill="#000"/>
<circle cx="496.9" cy="1414.3" r="2.75" fill="#000"/>
<circle cx="501.2" cy="1370.0" r="2.75" fill="#000"/>
<circle cx="529.2" cy="1425.0" r="2.75" fill="#000"/>
<circle cx="511.3" cy="1433.8" r="2.75" fill="#000"/>
<circle cx="515.1" cy="1405.8" r="2.75" fill="#000"/>
<circle cx="511.9" cy="1412.1" r="2.75" fill="#000"/>
<circle cx="531.9" cy="1423.5" r="2.75" fill="#000"/>
<circle cx="512.1" cy="1396.4" r="2.75" fill="#000"/>
<circle cx="501.4" cy="1418.8" r="2.75" fill="#000"/>
<circle cx="512.8" cy="1387.5" r="2.75" fill="#000"/>
<circle cx="530.2" cy="1452.8" r="2.75" fill="#000"/>
<circle cx="519.7" cy="1455.2" r="2.75" fill="#000"/>
<circle cx="522.1" cy="1430.4" r="2.75" fill="#000"/>
<circle cx="517.6" cy="1420.1" r="2.75" fill="#000"/>
<circle cx="520.8" cy="1443.8" r="2.75" fill="#000"/>
<circle cx="531.1" cy="1405.3" r="2.75" fill="#000"/>
<circle cx="522.2" cy="1356.2" r="2.75" fill="#000"/>
<circle cx="521.4" cy="1413.1" r="2.75" fill="#000"/>
<circle cx="510.9" cy="1409.8" r="2.75" fill="#000"/>
<circle cx="510.0" cy="1417.8" r="2.75" fill="#000"/>
<circle cx="531.3" cy="1391.8" r="2.75" fill="#000"/>
<circle cx="530.1" cy="1417.2" r="2.75" fill="#000"/>
<circle cx="515.8" cy="1403.5" r="2.75" fill="#000"/>
<circle cx="516.8" cy="1404.1" r="2.75" fill="#000"/>
<circle cx="497.9" cy="1402.7" r="2.75" fill="#000"/>
<circle cx="496.4" cy="1416.5" r="2.75" fill="#000"/>
<circle cx="511.9" cy="1411.8" r="2.75" fill="#000"/>
<circle cx="523.7" cy="1433.6" r="2.75" fill="#000"/>
<circle cx="535.6" cy="1427.8" r="2.75" fill="#000"/>
<circle cx="528.7" cy="1425.2" r="2.75" fill="#000"/>
<circle cx="534.3" cy="1410.5" r="2.75" fill="#000"/>
<circle cx="498.9" cy="1419.4" r="2.75" fill="#000"/>
<circle cx="503.2" cy="1427.8" r="2.75" fill="#000"/>
<circle cx="518.6" cy="1409.0" r="2.75" fill="#000"/>
<circle cx="523.4" cy="1400.8" r="2.75" fill="#000"/>
<circle cx="519.7" cy="1412.9" r="2.75" fill="#000"/>
<circle cx="532.5" cy="1434.6" r="2.75" fill="#000"/>
<circle cx="525.1" cy="1434.2" r="2.75" fill="#000"/>
<circle cx="522.3" cy="1408.7" r="2.75" fill="#000"/>
<circle cx="509.0" cy="1430.5" r="2.75" fill="#000"/>
<circle cx="524.0" cy="1427.6" r="2.75" fill="#000"/>
<circle cx="497.3" cy="1370.7" r="2.75" fill="#000"/>
<circle cx="497.9" cy="1418.1" r="2.75" fill="#000"/>
<circle cx="503.9" cy="1439.9" r="2.75" fill="#000"/>
<circle cx="529.0" cy="1399.6" r="2.75" fill="#000"/>
<circle cx="493.9" cy="1418.5" r="2.75" fill="#000"/>
<circle cx="501.0" cy="1392.7" r="2.75" fill="#000"/>
<circle cx="522.5" cy="1418.7" r="2.75" fill="#000"/>
<circle cx="530.6" cy="1410.5" r="2.75" fill="#000"/>
<circle cx="527.8" cy="1417.9" r="2.75" fill="#000"/>
<circle cx="507.7" cy="1442.4" r="2.75" fill="#000"/>
<circle cx="530.5" cy="1396.7" r="2.75" fill="#000"/>
<circle cx="500.8" cy="1429.1" r="2.75" fill="#000"/>
<circle cx="509.9" cy="1431.2" r="2.75" fill="#000"/>
<circle cx="529.3" cy="1414.6" r="2.75" fill="#000"/>
<circle cx="519.3" cy="1411.5" r="2.75" fill="#000"/>
<circle cx="502.3" cy="1386.1" r="2.75" fill="#000"/>
<circle cx="494.9" cy="1436.7" r="2.75" fill="#000"/>
<circle cx="513.1" cy="1398.0" r="2.75" fill="#000"/>
<circle cx="508.2" cy="1418.9" r="2.75" fill="#000"/>
<circle cx="507.4" cy="1340.7" r="2.75" fill="#000"/>
<circle cx="535.4" cy="1353.0" r="2.75" fill="#000"/>
<circle cx="521.9" cy="1373.1" r="2.75" fill="#000"/>
<circle cx="514.5" cy="1403.7" r="2.75" fill="#000"/>
<circle cx="515.7" cy="1404.2" r="2.75" fill="#000"/>
<circle cx="494.5" cy="1445.6" r="2.75" fill="#000"/>
<circle cx="530.5" cy="1419.4" r="2.75" fill="#000"/>
<circle cx="520.3" cy="1428.5" r="2.75" fill="#000"/>
<circle cx="527.2" cy="1409.4" r="2.75" fill="#000"/>
<circle cx="522.3" cy="1435.0" r="2.75" fill="#000"/>
<circle cx="524.8" cy="1407.3" r="2.75" fill="#000"/>
<circle cx="508.1" cy="1416.5" r="2.75" fill="#000"/>
<circle cx="495.6" cy="1417.6" r="2.75" fill="#000"/>
<circle cx="535.5" cy="1408.1" r="2.75" fill="#000"/>
<circle cx="503.5" cy="1414.8" r="2.75" fill="#000"/>
<circle cx="498.8" cy="1402.4" r="2.75" fill="#000"/>
<circle cx="512.5" cy="1342.0" r="2.75" fill="#000"/>
<circle cx="506.0" cy="1413.8" r="2.75" fill="#000"/>
<circle cx="506.0" cy="1397.5" r="2.75" fill="#000"/>
<circle cx="516.7" cy="1407.3" r="2.75" fill="#000"/>
<circle cx="532.6" cy="1440.6" r="2.75" fill="#000"/>
<circle cx="500.7" cy="1418.5" r="2.75" fill="#000"/>
<circle cx="508.3" cy="1419.7" r="2.75" fill="#000"/>
<circle cx="530.3" cy="1428.2" r="2.75" fill="#000"/>
<circle cx="531.7" cy="1384.8" r="2.75" fill="#000"/>
<circle cx="494.0" cy="1405.2" r="2.75" fill="#000"/>
<circle cx="523.3" cy="1396.3" r="2.75" fill="#000"/>
<circle cx="501.6" cy="1401.0" r="2.75" fill="#000"/>
<circle cx="520.9" cy="1420.8" r="2.75" fill="#000"/>
<circle cx="534.4" cy="1400.0" r="2.75" fill="#000"/>
<circle cx="527.8" cy="1419.8" r="2.75" fill="#000"/>
<circle cx="498.9" cy="1434.4" r="2.75" fill="#000"/>
<circle cx="530.6" cy="1399.7" r="2.75" fill="#000"/>
<circle cx="502.1" cy="1422.3" r="2.75" fill="#000"/>
<circle cx="520.9" cy="1408.6" r="2.75" fill="#000"/>
<circle cx="507.5" cy="1411.2" r="2.75" fill="#000"/>
<circle cx="495.0" cy="1381.8" r="2.75" fill="#000"/>
<circle cx="514.3" cy="1421.5" r="2.75" fill="#000"/>
<circle cx="512.9" cy="1420.0" r="2.75" fill="#000"/>
<circle cx="517.3" cy="1346.5" r="2.75" fill="#000"/>
<circle cx="519.4" cy="1462.0" r="2.75" fill="#000"/>
<circle cx="497.0" cy="1425.5" r="2.75" fill="#000"/>
<circle cx="526.0" cy="1396.2" r="2.75" fill="#000"/>
<circle cx="511.2" cy="1389.7" r="2.75" fill="#000"/>
<circle cx="516.9" cy="1417.8" r="2.75" fill="#000"/>
<circle cx="507.2" cy="1423.2" r="2.75" fill="#000"/>
<circle cx="523.6" cy="1426.7" r="2.75" fill="#000"/>
<circle cx="506.3" cy="1428.7" r="2.75" fill="#000"/>
<circle cx="512.5" cy="1429.0" r="2.75" fill="#000"/>
<circle cx="533.5" cy="1405.6" r="2.75" fill="#000"/>
<circle cx="513.5" cy="1393.0" r="2.75" fill="#000"/>
<circle cx="508.6" cy="1423.4" r="2.75" fill="#000"/>
<circle cx="525.5" cy="1464.6" r="2.75" fill="#000"/>
<circle cx="498.8" cy="1388.6" r="2.75" fill="#000"/>
<circle cx="516.9" cy="1381.9" r="2.75" fill="#000"/>
<circle cx="508.7" cy="1398.8" r="2.75" fill="#000"/>
<circle cx="524.7" cy="1394.7" r="2.75" fill="#000"/>
<circle cx="494.2" cy="1438.4" r="2.75" fill="#000"/>
<circle cx="535.2" cy="1428.0" r="2.75" fill="#000"/>
<circle cx="507.8" cy="1416.5" r="2.75" fill="#000"/>
<circle cx="506.9" cy="1429.6" r="2.75" fill="#000"/>
<circle cx="524.5" cy="1436.2" r="2.75" fill="#000"/>
<circle cx="510.3" cy="1383.6" r="2.75" fill="#000"/>
<circle cx="517.3" cy="1433.1" r="2.75" fill="#000"/>
<circle cx="533.6" cy="1412.9" r="2.75" fill="#000"/>
<circle cx="503.8" cy="1421.3" r="2.75" fill="#000"/>
<circle cx="502.9" cy="1404.0" r="2.75" fill="#000"/>
<circle cx="520.6" cy="1400.0" r="2.75" fill="#000"/>
<circle cx="502.3" cy="1406.3" r="2.75" fill="#000"/>
<circle cx="530.1" cy="1418.6" r="2.75" fill="#000"/>
<circle cx="525.3" cy="1434.3" r="2.75" fill="#000"/>
<circle cx="507.3" cy="1430.7" r="2.75" fill="#000"/>
<circle cx="499.9" cy="1415.5" r="2.75" fill="#000"/>
<circle cx="512.5" cy="1424.5" r="2.75" fill="#000"/>
<circle cx="502.0" cy="1419.5" r="2.75" fill="#000"/>
<circle cx="526.5" cy="1435.5" r="2.75" fill="#000"/>
<circle cx="530.2" cy="1433.2" r="2.75" fill="#000"/>
<circle cx="494.1" cy="1469.2" r="2.75" fill="#000"/>
<circle cx="493.4" cy="1392.9" r="2.75" fill="#000"/>
<circle cx="524.6" cy="1437.3" r="2.75" fill="#000"/>
<circle cx="522.4" cy="1388.8" r="2.75" fill="#000"/>
<circle cx="532.5" cy="1389.0" r="2.75" fill="#000"/>
<circle cx="535.1" cy="1426.2" r="2.75" fill="#000"/>
<circle cx="527.1" cy="1360.6" r="2.75" fill="#000"/>
<circle cx="514.7" cy="1423.7" r="2.75" fill="#000"/>
<circle cx="497.5" cy="1402.5" r="2.75" fill="#000"/>
<circle cx="506.6" cy="1355.3" r="2.75" fill="#000"/>
<circle cx="514.0" cy="1434.2" r="2.75" fill="#000"/>
<circle cx="500.7" cy="1395.1" r="2.75" fill="#000"/>
<circle cx="524.7" cy="1423.9" r="2.75" fill="#000"/>
<circle cx="508.2" cy="1415.8" r="2.75" fill="#000"/>
<circle cx="508.0" cy="1416.9" r="2.75" fill="#000"/>
<circle cx="531.0" cy="1401.8" r="2.75" fill="#000"/>
<circle cx="500.6" cy="1426.7" r="2.75" fill="#000"/>
<circle cx="494.9" cy="1403.4" r="2.75" fill="#000"/>
<circle cx="516.9" cy="1416.2" r="2.75" fill="#000"/>
<circle cx="522.6" cy="1409.0" r="2.75" fill="#000"/>
<circle cx="516.6" cy="1423.1" r="2.75" fill="#000"/>
<circle cx="530.6" cy="1425.0" r="2.75" fill="#000"/>
<circle cx="506.7" cy="1425.6" r="2.75" fill="#000"/>
<circle cx="509.6" cy="1413.0" r="2.75" fill="#000"/>
<circle cx="499.2" cy="1410.9" r="2.75" fill="#000"/>
<circle cx="519.1" cy="1470.8" r="2.75" fill="#000"/>
<circle cx="519.3" cy="1439.5" r="2.75" fill="#000"/>
<circle cx="501.5" cy="1409.3" r="2.75" fill="#000"/>
<circle cx="526.7" cy="1392.7" r="2.75" fill="#000"/>
<circle cx="522.9" cy="1437.2" r="2.75" fill="#000"/>
<circle cx="516.6" cy="1407.2" r="2.75" fill="#000"/>
<circle cx="493.0" cy="1407.6" r="2.75" fill="#000"/>
<circle cx="514.9" cy="1427.5" r="2.75" fill="#000"/>
<circle cx="503.1" cy="1421.0" r="2.75" fill="#000"/>
<circle cx="509.3" cy="1422.0" r="2.75" fill="#000"/>
<circle cx="515.6" cy="1425.5" r="2.75" fill="#000"/>
<circle cx="506.9" cy="1420.6" r="2.75" fill="#000"/>
<circle cx="502.6" cy="1421.8" r="2.75" fill="#000"/>
<circle cx="532.1" cy="1420.1" r="2.75" fill="#000"/>
<circle cx="515.4" cy="1415.3" r="2.75" fill="#000"/>
<circle cx="499.1" cy="1414.6" r="2.75" fill="#000"/>
<circle cx="515.5" cy="1439.8" r="2.75" fill="#000"/>
<circle cx="503.3" cy="1418.1" r="2.75" fill="#000"/>
<circle cx="512.8" cy="1398.6" r="2.75" fill="#000"/>
<circle cx="531.4" cy="1422.1" r="2.75" fill="#000"/>
<circle cx="509.4" cy="1434.1" r="2.75" fill="#000"/>
<circle cx="498.3" cy="1432.8" r="2.75" fill="#000"/>
<circle cx="497.4" cy="1396.3" r="2.75" fill="#000"/>
<circle cx="515.4" cy="1410.1" r="2.75" fill="#000"/>
<circle cx="510.0" cy="1413.1" r="2.75" fill="#000"/>
<circle cx="512.3" cy="1470.1" r="2.75" fill="#000"/>
<circle cx="525.6" cy="1415.4" r="2.75" fill="#000"/>
<circle cx="508.8" cy="1396.9" r="2.75" fill="#000"/>
<circle cx="508.9" cy="1416.0" r="2.75" fill="#000"/>
<circle cx="493.8" cy="1408.2" r="2.75" fill="#000"/>
<circle cx="495.5" cy="1399.7" r="2.75" fill="#000"/>
<circle cx="504.8" cy="1398.5" r="2.75" fill="#000"/>
<circle cx="528.9" cy="1406.6" r="2.75" fill="#000"/>
<circle cx="529.9" cy="1389.5" r="2.75" fill="#000"/>
<circle cx="527.1" cy="1399.5" r="2.75" fill="#000"/>
<circle cx="494.9" cy="1421.5" r="2.75" fill="#000"/>
<circle cx="523.6" cy="1413.5" r="2.75" fill="#000"/>
<circle cx="520.9" cy="1405.4" r="2.75" fill="#000"/>
<circle cx="509.6" cy="1430.8" r="2.75" fill="#000"/>
<circle cx="501.2" cy="1419.6" r="2.75" fill="#000"/>
<circle cx="509.0" cy="1452.4" r="2.75" fill="#000"/>
<circle cx="496.0" cy="1422.8" r="2.75" fill="#000"/>
<path d="M569.1,1365.6 C569.2,1371.2 568.2,1391.5 569.5,1399.0 C570.8,1406.5 574.5,1406.4 577.1,1410.8 C579.7,1415.2 582.6,1421.1 585.1,1425.6 C587.6,1430.0 593.0,1433.8 592.3,1437.5 C591.6,1441.2 584.7,1444.6 581.1,1447.8 C577.5,1451.0 572.8,1454.2 570.8,1456.7 C568.8,1459.2 569.4,1461.7 569.1,1462.7 L565.1,1462.7 C564.8,1461.7 565.4,1459.2 563.4,1456.7 C561.4,1454.2 556.7,1451.0 553.1,1447.8 C549.5,1444.6 542.6,1441.2 541.9,1437.5 C541.2,1433.8 546.6,1430.0 549.1,1425.6 C551.6,1421.1 554.5,1415.2 557.1,1410.8 C559.7,1406.4 563.4,1406.5 564.7,1399.0 C566.0,1391.5 565.0,1371.2 565.1,1365.6 Z" fill="#f29c25" stroke="#333333" stroke-width="2.6" stroke-linejoin="round"/>
<circle cx="568.2" cy="1440.0" r="2.75" fill="#000"/>
<circle cx="578.2" cy="1432.6" r="2.75" fill="#000"/>
<circle cx="565.5" cy="1384.3" r="2.75" fill="#000"/>
<circle cx="563.4" cy="1431.4" r="2.75" fill="#000"/>
<circle cx="564.5" cy="1431.4" r="2.75" fill="#000"/>
<circle cx="581.1" cy="1432.2" r="2.75" fill="#000"/>
<circle cx="562.9" cy="1438.3" r="2.75" fill="#000"/>
<circle cx="569.4" cy="1391.3" r="2.75" fill="#000"/>
<circle cx="550.7" cy="1441.4" r="2.75" fill="#000"/>
<circle cx="580.8" cy="1418.3" r="2.75" fill="#000"/>
<circle cx="578.0" cy="1408.5" r="2.75" fill="#000"/>
<circle cx="574.9" cy="1434.0" r="2.75" fill="#000"/>
<circle cx="548.0" cy="1439.0" r="2.75" fill="#000"/>
<circle cx="570.7" cy="1437.9" r="2.75" fill="#000"/>
<circle cx="583.1" cy="1461.4" r="2.75" fill="#000"/>
<circle cx="567.9" cy="1414.3" r="2.75" fill="#000"/>
<circle cx="557.4" cy="1372.2" r="2.75" fill="#000"/>
<circle cx="556.6" cy="1421.6" r="2.75" fill="#000"/>
<circle cx="567.6" cy="1444.3" r="2.75" fill="#000"/>
<circle cx="558.7" cy="1429.2" r="2.75" fill="#000"/>
<circle cx="582.4" cy="1445.5" r="2.75" fill="#000"/>
<circle cx="547.8" cy="1421.5" r="2.75" fill="#000"/>
<circle cx="565.6" cy="1433.2" r="2.75" fill="#000"/>
<circle cx="561.3" cy="1432.2" r="2.75" fill="#000"/>
<circle cx="585.1" cy="1441.8" r="2.75" fill="#000"/>
<circle cx="559.1" cy="1434.0" r="2.75" fill="#000"/>
<circle cx="569.9" cy="1433.2" r="2.75" fill="#000"/>
<circle cx="579.8" cy="1424.5" r="2.75" fill="#000"/>
<circle cx="580.1" cy="1423.7" r="2.75" fill="#000"/>
<circle cx="585.8" cy="1435.7" r="2.75" fill="#000"/>
<circle cx="548.1" cy="1431.4" r="2.75" fill="#000"/>
<circle cx="547.7" cy="1429.9" r="2.75" fill="#000"/>
<circle cx="571.2" cy="1444.8" r="2.75" fill="#000"/>
<circle cx="569.7" cy="1418.1" r="2.75" fill="#000"/>
<circle cx="574.6" cy="1442.1" r="2.75" fill="#000"/>
<circle cx="554.7" cy="1437.8" r="2.75" fill="#000"/>
<circle cx="585.1" cy="1443.8" r="2.75" fill="#000"/>
<circle cx="549.7" cy="1418.3" r="2.75" fill="#000"/>
<circle cx="563.4" cy="1441.6" r="2.75" fill="#000"/>
<circle cx="584.6" cy="1436.6" r="2.75" fill="#000"/>
<circle cx="548.0" cy="1437.7" r="2.75" fill="#000"/>
<circle cx="581.6" cy="1437.5" r="2.75" fill="#000"/>
<circle cx="570.6" cy="1423.0" r="2.75" fill="#000"/>
<circle cx="552.2" cy="1424.9" r="2.75" fill="#000"/>
<circle cx="581.8" cy="1447.1" r="2.75" fill="#000"/>
<circle cx="587.7" cy="1414.9" r="2.75" fill="#000"/>
<circle cx="561.9" cy="1428.0" r="2.75" fill="#000"/>
<circle cx="569.1" cy="1436.6" r="2.75" fill="#000"/>
<circle cx="576.9" cy="1407.8" r="2.75" fill="#000"/>
<circle cx="550.5" cy="1430.0" r="2.75" fill="#000"/>
<circle cx="585.3" cy="1442.8" r="2.75" fill="#000"/>
<circle cx="568.2" cy="1460.9" r="2.75" fill="#000"/>
<circle cx="577.9" cy="1423.2" r="2.75" fill="#000"/>
<circle cx="549.6" cy="1432.7" r="2.75" fill="#000"/>
<circle cx="571.3" cy="1432.6" r="2.75" fill="#000"/>
<circle cx="551.6" cy="1432.8" r="2.75" fill="#000"/>
<circle cx="582.0" cy="1422.5" r="2.75" fill="#000"/>
<circle cx="547.0" cy="1421.0" r="2.75" fill="#000"/>
<circle cx="560.4" cy="1436.3" r="2.75" fill="#000"/>
<circle cx="547.8" cy="1450.2" r="2.75" fill="#000"/>
<circle cx="556.2" cy="1426.1" r="2.75" fill="#000"/>
<circle cx="579.5" cy="1439.7" r="2.75" fill="#000"/>
<circle cx="569.6" cy="1422.7" r="2.75" fill="#000"/>
<circle cx="579.5" cy="1409.1" r="2.75" fill="#000"/>
<circle cx="547.1" cy="1435.7" r="2.75" fill="#000"/>
<circle cx="573.4" cy="1432.9" r="2.75" fill="#000"/>
<circle cx="560.8" cy="1413.1" r="2.75" fill="#000"/>
<circle cx="552.6" cy="1427.6" r="2.75" fill="#000"/>
<circle cx="559.9" cy="1416.6" r="2.75" fill="#000"/>
<circle cx="566.3" cy="1444.6" r="2.75" fill="#000"/>
<circle cx="583.4" cy="1413.9" r="2.75" fill="#000"/>
<circle cx="568.6" cy="1411.5" r="2.75" fill="#000"/>
<circle cx="552.7" cy="1411.5" r="2.75" fill="#000"/>
<circle cx="561.4" cy="1433.3" r="2.75" fill="#000"/>
<circle cx="554.3" cy="1417.3" r="2.75" fill="#000"/>
<circle cx="583.1" cy="1412.6" r="2.75" fill="#000"/>
<circle cx="546.2" cy="1432.6" r="2.75" fill="#000"/>
<circle cx="579.6" cy="1450.0" r="2.75" fill="#000"/>
<circle cx="555.5" cy="1434.7" r="2.75" fill="#000"/>
<circle cx="557.0" cy="1439.7" r="2.75" fill="#000"/>
<circle cx="567.9" cy="1383.6" r="2.75" fill="#000"/>
<circle cx="549.2" cy="1424.0" r="2.75" fill="#000"/>
<circle cx="571.2" cy="1434.2" r="2.75" fill="#000"/>
<circle cx="548.3" cy="1441.3" r="2.75" fill="#000"/>
<circle cx="587.9" cy="1422.0" r="2.75" fill="#000"/>
<circle cx="575.3" cy="1391.0" r="2.75" fill="#000"/>
<circle cx="580.5" cy="1443.0" r="2.75" fill="#000"/>
<circle cx="546.1" cy="1431.5" r="2.75" fill="#000"/>
<circle cx="563.1" cy="1449.9" r="2.75" fill="#000"/>
<circle cx="577.2" cy="1407.5" r="2.75" fill="#000"/>
<circle cx="560.4" cy="1437.7" r="2.75" fill="#000"/>
<circle cx="555.0" cy="1412.6" r="2.75" fill="#000"/>
<circle cx="588.5" cy="1426.8" r="2.75" fill="#000"/>
<circle cx="567.0" cy="1442.1" r="2.75" fill="#000"/>
<circle cx="577.9" cy="1441.5" r="2.75" fill="#000"/>
<circle cx="572.5" cy="1436.5" r="2.75" fill="#000"/>
<circle cx="549.6" cy="1444.5" r="2.75" fill="#000"/>
<circle cx="552.6" cy="1438.9" r="2.75" fill="#000"/>
<circle cx="577.7" cy="1452.8" r="2.75" fill="#000"/>
<circle cx="585.9" cy="1413.5" r="2.75" fill="#000"/>
<circle cx="581.4" cy="1447.5" r="2.75" fill="#000"/>
<circle cx="564.3" cy="1442.2" r="2.75" fill="#000"/>
<circle cx="583.0" cy="1443.5" r="2.75" fill="#000"/>
<circle cx="568.5" cy="1424.1" r="2.75" fill="#000"/>
<circle cx="587.2" cy="1450.6" r="2.75" fill="#000"/>
<circle cx="581.7" cy="1440.8" r="2.75" fill="#000"/>
<circle cx="565.3" cy="1420.0" r="2.75" fill="#000"/>
<circle cx="584.6" cy="1420.4" r="2.75" fill="#000"/>
<circle cx="562.5" cy="1438.2" r="2.75" fill="#000"/>
<circle cx="575.0" cy="1441.4" r="2.75" fill="#000"/>
<circle cx="563.1" cy="1450.3" r="2.75" fill="#000"/>
<circle cx="581.6" cy="1408.0" r="2.75" fill="#000"/>
<circle cx="581.6" cy="1426.3" r="2.75" fill="#000"/>
<circle cx="566.6" cy="1441.6" r="2.75" fill="#000"/>
<circle cx="580.5" cy="1376.0" r="2.75" fill="#000"/>
<circle cx="565.3" cy="1429.9" r="2.75" fill="#000"/>
<circle cx="560.8" cy="1425.9" r="2.75" fill="#000"/>
<circle cx="558.2" cy="1444.3" r="2.75" fill="#000"/>
<circle cx="575.8" cy="1407.6" r="2.75" fill="#000"/>
<circle cx="580.3" cy="1430.0" r="2.75" fill="#000"/>
<circle cx="547.4" cy="1411.8" r="2.75" fill="#000"/>
<circle cx="557.3" cy="1442.8" r="2.75" fill="#000"/>
<circle cx="555.2" cy="1451.7" r="2.75" fill="#000"/>
<circle cx="584.0" cy="1446.4" r="2.75" fill="#000"/>
<circle cx="586.7" cy="1428.6" r="2.75" fill="#000"/>
<circle cx="553.7" cy="1432.7" r="2.75" fill="#000"/>
<circle cx="568.3" cy="1442.8" r="2.75" fill="#000"/>
<circle cx="586.2" cy="1366.2" r="2.75" fill="#000"/>
<circle cx="556.4" cy="1431.3" r="2.75" fill="#000"/>
<circle cx="569.4" cy="1425.7" r="2.75" fill="#000"/>
<circle cx="561.8" cy="1445.2" r="2.75" fill="#000"/>
<circle cx="574.3" cy="1449.5" r="2.75" fill="#000"/>
<circle cx="564.7" cy="1405.6" r="2.75" fill="#000"/>
<circle cx="574.0" cy="1451.7" r="2.75" fill="#000"/>
<circle cx="568.1" cy="1436.8" r="2.75" fill="#000"/>
<circle cx="567.0" cy="1438.4" r="2.75" fill="#000"/>
<circle cx="548.1" cy="1428.0" r="2.75" fill="#000"/>
<circle cx="569.6" cy="1443.4" r="2.75" fill="#000"/>
<circle cx="583.9" cy="1431.3" r="2.75" fill="#000"/>
<circle cx="547.1" cy="1439.3" r="2.75" fill="#000"/>
<circle cx="586.6" cy="1424.3" r="2.75" fill="#000"/>
<circle cx="570.9" cy="1445.9" r="2.75" fill="#000"/>
<circle cx="562.5" cy="1434.0" r="2.75" fill="#000"/>
<circle cx="557.7" cy="1440.2" r="2.75" fill="#000"/>
<circle cx="569.0" cy="1440.9" r="2.75" fill="#000"/>
<circle cx="573.5" cy="1430.3" r="2.75" fill="#000"/>
<circle cx="562.0" cy="1442.3" r="2.75" fill="#000"/>
<circle cx="575.3" cy="1452.9" r="2.75" fill="#000"/>
<circle cx="570.3" cy="1422.9" r="2.75" fill="#000"/>
<circle cx="560.5" cy="1443.5" r="2.75" fill="#000"/>
<path d="M621.3,1359.7 C621.4,1365.2 620.7,1385.2 621.7,1393.0 C622.7,1400.8 624.7,1402.3 627.3,1406.3 C629.9,1410.2 634.4,1412.0 637.3,1416.7 C640.2,1421.4 644.5,1429.1 644.5,1434.5 C644.5,1439.9 640.2,1445.4 637.3,1449.3 C634.4,1453.2 629.9,1455.0 627.3,1458.0 C624.7,1461.0 622.7,1461.4 621.7,1467.0 C620.7,1472.6 621.4,1487.5 621.3,1491.6 L617.3,1491.6 C617.2,1487.5 617.9,1472.6 616.9,1467.0 C615.9,1461.4 613.9,1461.0 611.3,1458.0 C608.7,1455.0 604.2,1453.2 601.3,1449.3 C598.4,1445.4 594.1,1439.9 594.1,1434.5 C594.1,1429.1 598.4,1421.4 601.3,1416.7 C604.2,1412.0 608.7,1410.2 611.3,1406.3 C613.9,1402.3 615.9,1400.8 616.9,1393.0 C617.9,1385.2 617.2,1365.2 617.3,1359.7 Z" fill="#e4252b" stroke="#333333" stroke-width="2.6" stroke-linejoin="round"/>
<circle cx="635.5" cy="1414.1" r="2.75" fill="#000"/>
<circle cx="605.1" cy="1415.4" r="2.75" fill="#000"/>
<circle cx="610.6" cy="1423.9" r="2.75" fill="#000"/>
<circle cx="639.2" cy="1429.1" r="2.75" fill="#000"/>
<circle cx="638.4" cy="1417.3" r="2.75" fill="#000"/>
<circle cx="616.6" cy="1417.3" r="2.75" fill="#000"/>
<circle cx="614.7" cy="1410.7" r="2.75" fill="#000"/>
<circle cx="609.3" cy="1429.1" r="2.75" fill="#000"/>
<circle cx="617.2" cy="1418.3" r="2.75" fill="#000"/>
<circle cx="631.3" cy="1448.8" r="2.75" fill="#000"/>
<circle cx="630.4" cy="1424.1" r="2.75" fill="#000"/>
<circle cx="626.6" cy="1431.9" r="2.75" fill="#000"/>
<circle cx="613.4" cy="1442.3" r="2.75" fill="#000"/>
<circle cx="610.2" cy="1454.1" r="2.75" fill="#000"/>
<circle cx="631.0" cy="1437.8" r="2.75" fill="#000"/>
<circle cx="622.2" cy="1394.1" r="2.75" fill="#000"/>
<circle cx="609.2" cy="1427.3" r="2.75" fill="#000"/>
<circle cx="621.4" cy="1420.4" r="2.75" fill="#000"/>
<circle cx="615.5" cy="1442.9" r="2.75" fill="#000"/>
<circle cx="611.0" cy="1445.0" r="2.75" fill="#000"/>
<circle cx="625.1" cy="1438.9" r="2.75" fill="#000"/>
<circle cx="614.8" cy="1440.1" r="2.75" fill="#000"/>
<circle cx="612.5" cy="1457.8" r="2.75" fill="#000"/>
<circle cx="612.8" cy="1428.8" r="2.75" fill="#000"/>
<circle cx="620.7" cy="1418.3" r="2.75" fill="#000"/>
<circle cx="636.6" cy="1433.9" r="2.75" fill="#000"/>
<circle cx="600.6" cy="1412.9" r="2.75" fill="#000"/>
<circle cx="634.4" cy="1428.3" r="2.75" fill="#000"/>
<circle cx="615.2" cy="1439.8" r="2.75" fill="#000"/>
<circle cx="634.1" cy="1434.9" r="2.75" fill="#000"/>
<circle cx="604.3" cy="1446.1" r="2.75" fill="#000"/>
<circle cx="619.3" cy="1440.1" r="2.75" fill="#000"/>
<circle cx="629.7" cy="1452.7" r="2.75" fill="#000"/>
<circle cx="635.6" cy="1447.3" r="2.75" fill="#000"/>
<circle cx="628.1" cy="1413.3" r="2.75" fill="#000"/>
<circle cx="600.7" cy="1436.4" r="2.75" fill="#000"/>
<circle cx="609.5" cy="1437.2" r="2.75" fill="#000"/>
<circle cx="601.8" cy="1418.9" r="2.75" fill="#000"/>
<circle cx="632.3" cy="1440.4" r="2.75" fill="#000"/>
<circle cx="600.9" cy="1426.8" r="2.75" fill="#000"/>
<circle cx="597.9" cy="1448.3" r="2.75" fill="#000"/>
<circle cx="609.6" cy="1437.7" r="2.75" fill="#000"/>
<circle cx="621.7" cy="1401.6" r="2.75" fill="#000"/>
<circle cx="633.4" cy="1444.9" r="2.75" fill="#000"/>
<circle cx="624.9" cy="1410.7" r="2.75" fill="#000"/>
<circle cx="622.2" cy="1424.4" r="2.75" fill="#000"/>
<circle cx="606.8" cy="1419.9" r="2.75" fill="#000"/>
<circle cx="620.9" cy="1449.0" r="2.75" fill="#000"/>
<circle cx="599.0" cy="1385.6" r="2.75" fill="#000"/>
<circle cx="600.5" cy="1431.7" r="2.75" fill="#000"/>
<circle cx="623.0" cy="1438.5" r="2.75" fill="#000"/>
<circle cx="623.1" cy="1428.3" r="2.75" fill="#000"/>
<circle cx="640.6" cy="1420.0" r="2.75" fill="#000"/>
<circle cx="612.0" cy="1446.3" r="2.75" fill="#000"/>
<circle cx="618.3" cy="1479.5" r="2.75" fill="#000"/>
<circle cx="627.2" cy="1413.0" r="2.75" fill="#000"/>
<circle cx="612.5" cy="1441.1" r="2.75" fill="#000"/>
<circle cx="610.0" cy="1417.4" r="2.75" fill="#000"/>
<circle cx="620.0" cy="1418.0" r="2.75" fill="#000"/>
<circle cx="628.1" cy="1429.5" r="2.75" fill="#000"/>
<circle cx="621.9" cy="1417.2" r="2.75" fill="#000"/>
<circle cx="629.9" cy="1441.9" r="2.75" fill="#000"/>
<circle cx="628.9" cy="1459.7" r="2.75" fill="#000"/>
<circle cx="606.6" cy="1440.5" r="2.75" fill="#000"/>
<circle cx="628.8" cy="1372.6" r="2.75" fill="#000"/>
<circle cx="613.1" cy="1437.9" r="2.75" fill="#000"/>
<circle cx="640.4" cy="1415.3" r="2.75" fill="#000"/>
<circle cx="605.3" cy="1422.1" r="2.75" fill="#000"/>
<circle cx="632.4" cy="1427.2" r="2.75" fill="#000"/>
<circle cx="602.4" cy="1429.3" r="2.75" fill="#000"/>
<circle cx="618.1" cy="1415.4" r="2.75" fill="#000"/>
<circle cx="632.0" cy="1484.0" r="2.75" fill="#000"/>
<circle cx="603.3" cy="1432.4" r="2.75" fill="#000"/>
<circle cx="619.6" cy="1411.0" r="2.75" fill="#000"/>
<circle cx="598.7" cy="1417.1" r="2.75" fill="#000"/>
<circle cx="638.4" cy="1453.4" r="2.75" fill="#000"/>
<circle cx="629.3" cy="1475.5" r="2.75" fill="#000"/>
<circle cx="634.0" cy="1428.8" r="2.75" fill="#000"/>
<circle cx="607.0" cy="1412.6" r="2.75" fill="#000"/>
<circle cx="598.2" cy="1435.1" r="2.75" fill="#000"/>
<circle cx="617.7" cy="1447.5" r="2.75" fill="#000"/>
<circle cx="620.8" cy="1395.5" r="2.75" fill="#000"/>
<circle cx="624.7" cy="1404.1" r="2.75" fill="#000"/>
<circle cx="625.3" cy="1451.5" r="2.75" fill="#000"/>
<circle cx="636.7" cy="1417.1" r="2.75" fill="#000"/>
<circle cx="623.2" cy="1427.6" r="2.75" fill="#000"/>
<circle cx="617.4" cy="1412.7" r="2.75" fill="#000"/>
<circle cx="628.2" cy="1435.4" r="2.75" fill="#000"/>
<circle cx="629.0" cy="1429.3" r="2.75" fill="#000"/>
<circle cx="615.0" cy="1398.9" r="2.75" fill="#000"/>
<circle cx="608.1" cy="1440.0" r="2.75" fill="#000"/>
<circle cx="618.1" cy="1438.5" r="2.75" fill="#000"/>
<circle cx="623.6" cy="1414.5" r="2.75" fill="#000"/>
<circle cx="640.2" cy="1402.6" r="2.75" fill="#000"/>
<circle cx="631.7" cy="1419.2" r="2.75" fill="#000"/>
<circle cx="629.7" cy="1447.3" r="2.75" fill="#000"/>
<circle cx="639.8" cy="1390.0" r="2.75" fill="#000"/>
<circle cx="599.9" cy="1444.9" r="2.75" fill="#000"/>
<circle cx="607.2" cy="1420.1" r="2.75" fill="#000"/>
<circle cx="625.3" cy="1440.3" r="2.75" fill="#000"/>
<circle cx="604.4" cy="1453.9" r="2.75" fill="#000"/>
<circle cx="602.3" cy="1375.5" r="2.75" fill="#000"/>
<circle cx="605.8" cy="1468.7" r="2.75" fill="#000"/>
<circle cx="619.8" cy="1445.1" r="2.75" fill="#000"/>
<circle cx="636.1" cy="1410.2" r="2.75" fill="#000"/>
<circle cx="634.4" cy="1453.7" r="2.75" fill="#000"/>
<circle cx="619.4" cy="1435.7" r="2.75" fill="#000"/>
<circle cx="632.2" cy="1436.9" r="2.75" fill="#000"/>
<circle cx="621.3" cy="1405.0" r="2.75" fill="#000"/>
<circle cx="598.1" cy="1422.7" r="2.75" fill="#000"/>
<circle cx="633.5" cy="1441.9" r="2.75" fill="#000"/>
<circle cx="603.1" cy="1447.0" r="2.75" fill="#000"/>
<circle cx="616.2" cy="1437.8" r="2.75" fill="#000"/>
<circle cx="621.3" cy="1411.5" r="2.75" fill="#000"/>
<circle cx="629.2" cy="1425.8" r="2.75" fill="#000"/>
<circle cx="602.2" cy="1449.1" r="2.75" fill="#000"/>
<circle cx="630.6" cy="1426.1" r="2.75" fill="#000"/>
<circle cx="639.9" cy="1414.2" r="2.75" fill="#000"/>
<circle cx="601.0" cy="1443.4" r="2.75" fill="#000"/>
<circle cx="623.5" cy="1411.2" r="2.75" fill="#000"/>
<circle cx="615.3" cy="1433.5" r="2.75" fill="#000"/>
<circle cx="637.2" cy="1436.9" r="2.75" fill="#000"/>
<circle cx="637.1" cy="1443.1" r="2.75" fill="#000"/>
<circle cx="599.1" cy="1448.9" r="2.75" fill="#000"/>
<circle cx="616.3" cy="1440.2" r="2.75" fill="#000"/>
<circle cx="638.3" cy="1450.3" r="2.75" fill="#000"/>
<circle cx="608.7" cy="1430.4" r="2.75" fill="#000"/>
<circle cx="611.7" cy="1422.7" r="2.75" fill="#000"/>
<circle cx="640.0" cy="1408.8" r="2.75" fill="#000"/>
<circle cx="630.6" cy="1438.8" r="2.75" fill="#000"/>
<circle cx="630.2" cy="1449.3" r="2.75" fill="#000"/>
<circle cx="615.5" cy="1422.5" r="2.75" fill="#000"/>
<circle cx="635.9" cy="1377.1" r="2.75" fill="#000"/>
<circle cx="630.9" cy="1453.9" r="2.75" fill="#000"/>
<circle cx="632.0" cy="1444.7" r="2.75" fill="#000"/>
<circle cx="633.3" cy="1432.9" r="2.75" fill="#000"/>
<circle cx="613.6" cy="1424.9" r="2.75" fill="#000"/>
<circle cx="604.7" cy="1434.4" r="2.75" fill="#000"/>
<circle cx="621.0" cy="1433.9" r="2.75" fill="#000"/>
<circle cx="637.1" cy="1456.6" r="2.75" fill="#000"/>
<circle cx="601.7" cy="1440.4" r="2.75" fill="#000"/>
<circle cx="636.8" cy="1419.0" r="2.75" fill="#000"/>
<circle cx="628.6" cy="1370.6" r="2.75" fill="#000"/>
<circle cx="616.6" cy="1482.2" r="2.75" fill="#000"/>
<circle cx="629.9" cy="1440.0" r="2.75" fill="#000"/>
<path d="M673.9,1321.6 C674.0,1325.8 673.6,1338.4 674.7,1346.6 C675.8,1354.8 678.0,1362.9 680.5,1371.0 C683.0,1379.1 686.7,1388.3 689.5,1395.4 C692.3,1402.5 696.3,1408.0 697.5,1413.7 C698.7,1419.4 697.5,1424.5 696.5,1429.6 C695.5,1434.7 694.0,1439.8 691.5,1444.3 C689.0,1448.8 684.2,1452.5 681.5,1456.5 C678.8,1460.5 676.2,1466.1 675.2,1468.0 L667.8,1468.0 C666.8,1466.1 664.2,1460.5 661.5,1456.5 C658.8,1452.5 654.0,1448.8 651.5,1444.3 C649.0,1439.8 647.5,1434.7 646.5,1429.6 C645.5,1424.5 644.3,1419.4 645.5,1413.7 C646.7,1408.0 650.7,1402.5 653.5,1395.4 C656.3,1388.3 660.0,1379.1 662.5,1371.0 C665.0,1362.9 667.2,1354.8 668.3,1346.6 C669.4,1338.4 669.0,1325.8 669.1,1321.6 Z" fill="#4a4a4a" stroke="#333333" stroke-width="2.6" stroke-linejoin="round"/>
<circle cx="661.1" cy="1432.9" r="2.75" fill="#000"/>
<circle cx="659.0" cy="1350.7" r="2.75" fill="#000"/>
<circle cx="677.7" cy="1400.8" r="2.75" fill="#000"/>
<circle cx="675.7" cy="1422.7" r="2.75" fill="#000"/>
<circle cx="652.7" cy="1428.5" r="2.75" fill="#000"/>
<circle cx="665.5" cy="1366.2" r="2.75" fill="#000"/>
<circle cx="671.2" cy="1383.5" r="2.75" fill="#000"/>
<circle cx="661.8" cy="1456.1" r="2.75" fill="#000"/>
<circle cx="654.3" cy="1434.3" r="2.75" fill="#000"/>
<circle cx="679.6" cy="1403.5" r="2.75" fill="#000"/>
<circle cx="654.1" cy="1413.2" r="2.75" fill="#000"/>
<circle cx="685.8" cy="1449.6" r="2.75" fill="#000"/>
<circle cx="659.7" cy="1353.5" r="2.75" fill="#000"/>
<circle cx="678.8" cy="1442.5" r="2.75" fill="#000"/>
<circle cx="658.2" cy="1399.1" r="2.75" fill="#000"/>
<circle cx="678.3" cy="1445.7" r="2.75" fill="#000"/>
<circle cx="657.8" cy="1422.7" r="2.75" fill="#000"/>
<circle cx="692.3" cy="1383.4" r="2.75" fill="#000"/>
<circle cx="674.5" cy="1409.4" r="2.75" fill="#000"/>
<circle cx="650.6" cy="1393.1" r="2.75" fill="#000"/>
<circle cx="691.4" cy="1441.6" r="2.75" fill="#000"/>
<circle cx="655.9" cy="1407.7" r="2.75" fill="#000"/>
<circle cx="665.7" cy="1435.8" r="2.75" fill="#000"/>
<circle cx="660.7" cy="1417.1" r="2.75" fill="#000"/>
<circle cx="666.4" cy="1435.9" r="2.75" fill="#000"/>
<circle cx="658.3" cy="1434.3" r="2.75" fill="#000"/>
<circle cx="665.7" cy="1393.9" r="2.75" fill="#000"/>
<circle cx="687.4" cy="1425.6" r="2.75" fill="#000"/>
<circle cx="686.0" cy="1362.9" r="2.75" fill="#000"/>
<circle cx="668.8" cy="1395.5" r="2.75" fill="#000"/>
<circle cx="680.6" cy="1379.4" r="2.75" fill="#000"/>
<circle cx="670.6" cy="1373.7" r="2.75" fill="#000"/>
<circle cx="668.9" cy="1388.6" r="2.75" fill="#000"/>
<circle cx="665.5" cy="1380.9" r="2.75" fill="#000"/>
<circle cx="673.9" cy="1415.2" r="2.75" fill="#000"/>
<circle cx="682.0" cy="1369.1" r="2.75" fill="#000"/>
<circle cx="691.4" cy="1421.4" r="2.75" fill="#000"/>
<circle cx="690.6" cy="1441.5" r="2.75" fill="#000"/>
<circle cx="657.3" cy="1417.3" r="2.75" fill="#000"/>
<circle cx="653.6" cy="1441.7" r="2.75" fill="#000"/>
<circle cx="669.8" cy="1400.8" r="2.75" fill="#000"/>
<circle cx="669.5" cy="1431.2" r="2.75" fill="#000"/>
<circle cx="678.5" cy="1403.1" r="2.75" fill="#000"/>
<circle cx="692.3" cy="1406.6" r="2.75" fill="#000"/>
<circle cx="650.5" cy="1415.6" r="2.75" fill="#000"/>
<circle cx="651.1" cy="1427.2" r="2.75" fill="#000"/>
<circle cx="673.1" cy="1414.9" r="2.75" fill="#000"/>
<circle cx="676.0" cy="1396.3" r="2.75" fill="#000"/>
<circle cx="684.6" cy="1426.7" r="2.75" fill="#000"/>
<circle cx="686.9" cy="1451.3" r="2.75" fill="#000"/>
<circle cx="657.8" cy="1408.0" r="2.75" fill="#000"/>
<circle cx="688.8" cy="1396.5" r="2.75" fill="#000"/>
<circle cx="651.5" cy="1371.5" r="2.75" fill="#000"/>
<circle cx="658.2" cy="1412.1" r="2.75" fill="#000"/>
<circle cx="690.4" cy="1433.4" r="2.75" fill="#000"/>
<path d="M726.4,1372.9 C726.4,1375.6 725.4,1383.5 726.7,1389.3 C728.0,1395.1 731.5,1402.5 734.0,1407.6 C736.5,1412.7 739.7,1415.8 742.0,1419.9 C744.3,1424.0 746.8,1427.9 748.0,1432.0 C749.2,1436.1 749.3,1440.2 749.3,1444.3 C749.3,1448.4 749.4,1453.5 748.0,1456.5 C746.6,1459.5 742.2,1461.6 741.0,1462.6 L707.0,1462.6 C705.8,1461.6 701.4,1459.5 700.0,1456.5 C698.6,1453.5 698.7,1448.4 698.7,1444.3 C698.7,1440.2 698.8,1436.1 700.0,1432.0 C701.2,1427.9 703.7,1424.0 706.0,1419.9 C708.3,1415.8 711.5,1412.7 714.0,1407.6 C716.5,1402.5 720.0,1395.1 721.3,1389.3 C722.6,1383.5 721.6,1375.6 721.6,1372.9 Z" fill="#bdbdbd" stroke="#333333" stroke-width="2.6" stroke-linejoin="round"/>
<circle cx="703.0" cy="1432.8" r="2.75" fill="#000"/>
<circle cx="723.0" cy="1459.1" r="2.75" fill="#000"/>
<circle cx="723.7" cy="1438.1" r="2.75" fill="#000"/>
<circle cx="711.8" cy="1461.8" r="2.75" fill="#000"/>
<circle cx="745.5" cy="1453.1" r="2.75" fill="#000"/>
<circle cx="743.8" cy="1434.7" r="2.75" fill="#000"/>
<circle cx="717.3" cy="1428.9" r="2.75" fill="#000"/>
<circle cx="718.6" cy="1444.3" r="2.75" fill="#000"/>
<circle cx="702.5" cy="1418.5" r="2.75" fill="#000"/>
<circle cx="722.0" cy="1442.2" r="2.75" fill="#000"/>
<circle cx="708.4" cy="1440.3" r="2.75" fill="#000"/>
<circle cx="743.8" cy="1422.5" r="2.75" fill="#000"/>
<circle cx="725.0" cy="1416.4" r="2.75" fill="#000"/>
<circle cx="704.9" cy="1441.7" r="2.75" fill="#000"/>
<circle cx="727.7" cy="1422.5" r="2.75" fill="#000"/>
<circle cx="740.7" cy="1435.0" r="2.75" fill="#000"/>
<circle cx="743.6" cy="1445.3" r="2.75" fill="#000"/>
<circle cx="720.0" cy="1425.9" r="2.75" fill="#000"/>
<circle cx="707.0" cy="1402.0" r="2.75" fill="#000"/>
<circle cx="714.9" cy="1386.5" r="2.75" fill="#000"/>
<circle cx="720.6" cy="1460.1" r="2.75" fill="#000"/>
<circle cx="737.2" cy="1439.2" r="2.75" fill="#000"/>
<circle cx="707.5" cy="1444.9" r="2.75" fill="#000"/>
<circle cx="727.7" cy="1424.3" r="2.75" fill="#000"/>
<circle cx="743.9" cy="1451.5" r="2.75" fill="#000"/>
<circle cx="741.1" cy="1420.0" r="2.75" fill="#000"/>
<circle cx="732.3" cy="1440.8" r="2.75" fill="#000"/>
<circle cx="718.2" cy="1423.8" r="2.75" fill="#000"/>
<circle cx="705.7" cy="1439.0" r="2.75" fill="#000"/>
<circle cx="722.8" cy="1448.7" r="2.75" fill="#000"/>
<circle cx="702.9" cy="1445.3" r="2.75" fill="#000"/>
<circle cx="733.0" cy="1436.5" r="2.75" fill="#000"/>
<circle cx="743.7" cy="1443.3" r="2.75" fill="#000"/>
<circle cx="721.0" cy="1450.7" r="2.75" fill="#000"/>
<circle cx="720.1" cy="1459.7" r="2.75" fill="#000"/>
<circle cx="712.5" cy="1460.1" r="2.75" fill="#000"/>
<circle cx="731.0" cy="1448.4" r="2.75" fill="#000"/>
<circle cx="712.1" cy="1449.3" r="2.75" fill="#000"/>
<circle cx="704.0" cy="1421.4" r="2.75" fill="#000"/>
<circle cx="720.6" cy="1415.5" r="2.75" fill="#000"/>
<circle cx="743.0" cy="1406.8" r="2.75" fill="#000"/>
<circle cx="732.8" cy="1441.0" r="2.75" fill="#000"/>
<circle cx="723.2" cy="1433.4" r="2.75" fill="#000"/>
<circle cx="709.4" cy="1387.1" r="2.75" fill="#000"/>
<circle cx="735.5" cy="1432.0" r="2.75" fill="#000"/>
<circle cx="729.8" cy="1453.6" r="2.75" fill="#000"/>
<circle cx="710.9" cy="1447.9" r="2.75" fill="#000"/>
<circle cx="713.5" cy="1449.5" r="2.75" fill="#000"/>
<circle cx="739.0" cy="1452.4" r="2.75" fill="#000"/>
<circle cx="711.0" cy="1454.8" r="2.75" fill="#000"/>
<circle cx="733.7" cy="1385.3" r="2.75" fill="#000"/>
<circle cx="702.7" cy="1424.8" r="2.75" fill="#000"/>
<circle cx="702.7" cy="1418.3" r="2.75" fill="#000"/>
<circle cx="733.1" cy="1422.6" r="2.75" fill="#000"/>
<circle cx="707.4" cy="1461.4" r="2.75" fill="#000"/>
<circle cx="708.9" cy="1458.3" r="2.75" fill="#000"/>
<circle cx="716.3" cy="1429.0" r="2.75" fill="#000"/>
<circle cx="713.6" cy="1433.8" r="2.75" fill="#000"/>
<circle cx="709.5" cy="1402.3" r="2.75" fill="#000"/>
<circle cx="732.5" cy="1409.6" r="2.75" fill="#000"/>
<circle cx="733.8" cy="1425.7" r="2.75" fill="#000"/>
<circle cx="710.6" cy="1429.0" r="2.75" fill="#000"/>
<circle cx="704.7" cy="1458.1" r="2.75" fill="#000"/>
<circle cx="719.1" cy="1417.1" r="2.75" fill="#000"/>
<circle cx="736.8" cy="1447.0" r="2.75" fill="#000"/>
<circle cx="727.7" cy="1450.5" r="2.75" fill="#000"/>
<circle cx="737.1" cy="1420.8" r="2.75" fill="#000"/>
<circle cx="706.5" cy="1450.7" r="2.75" fill="#000"/>
<circle cx="708.4" cy="1445.0" r="2.75" fill="#000"/>
<circle cx="707.1" cy="1420.6" r="2.75" fill="#000"/>
<circle cx="713.6" cy="1443.4" r="2.75" fill="#000"/>
<circle cx="733.7" cy="1433.9" r="2.75" fill="#000"/>
<circle cx="712.0" cy="1396.1" r="2.75" fill="#000"/>
<circle cx="732.2" cy="1426.7" r="2.75" fill="#000"/>
<circle cx="711.3" cy="1442.9" r="2.75" fill="#000"/>
<line x1="483.0" y1="1237.4" x2="483.0" y2="1504.8" stroke="#000" stroke-width="4"/>
<line x1="481.0" y1="1502.8" x2="756.7" y2="1502.8" stroke="#000" stroke-width="4"/>
<line x1="474.0" y1="1498.8" x2="483.0" y2="1498.8" stroke="#000" stroke-width="4.5"/>
<text x="464.5" y="1509.0" font-size="23" text-anchor="end" fill="#000">0.0</text>
<line x1="474.0" y1="1436.6" x2="483.0" y2="1436.6" stroke="#000" stroke-width="4.5"/>
<text x="464.5" y="1446.8" font-size="23" text-anchor="end" fill="#000">2.5</text>
<line x1="474.0" y1="1374.5" x2="483.0" y2="1374.5" stroke="#000" stroke-width="4.5"/>
<text x="464.5" y="1384.7" font-size="23" text-anchor="end" fill="#000">5.0</text>
<line x1="474.0" y1="1312.3" x2="483.0" y2="1312.3" stroke="#000" stroke-width="4.5"/>
<text x="464.5" y="1322.5" font-size="23" text-anchor="end" fill="#000">7.5</text>
<line x1="474.0" y1="1250.2" x2="483.0" y2="1250.2" stroke="#000" stroke-width="4.5"/>
<text x="464.5" y="1260.4" font-size="23" text-anchor="end" fill="#000">10.0</text>
<line x1="514.5" y1="1502.8" x2="514.5" y2="1511.8" stroke="#000" stroke-width="4.5"/>
<text x="509.7" y="1520.5" font-size="28.5" text-anchor="end" fill="#000" transform="rotate(-45 509.7 1520.5)">20 min</text>
<line x1="567.1" y1="1502.8" x2="567.1" y2="1511.8" stroke="#000" stroke-width="4.5"/>
<text x="565.5" y="1520.5" font-size="28.5" text-anchor="end" fill="#000" transform="rotate(-45 565.5 1520.5)">40 min</text>
<line x1="619.3" y1="1502.8" x2="619.3" y2="1511.8" stroke="#000" stroke-width="4.5"/>
<text x="621.3" y="1520.5" font-size="28.5" text-anchor="end" fill="#000" transform="rotate(-45 621.3 1520.5)">60 min</text>
<line x1="671.5" y1="1502.8" x2="671.5" y2="1511.8" stroke="#000" stroke-width="4.5"/>
<text x="672.3" y="1520.5" font-size="28.5" text-anchor="end" fill="#000" transform="rotate(-45 672.3 1520.5)">120 min</text>
<line x1="724.0" y1="1502.8" x2="724.0" y2="1511.8" stroke="#000" stroke-width="4.5"/>
<text x="721.7" y="1520.5" font-size="28.5" text-anchor="end" fill="#000" transform="rotate(-45 721.7 1520.5)">180 min</text>
<text x="406.5" y="1366.4" font-size="28.5" text-anchor="middle" fill="#000" transform="rotate(-90 406.5 1366.4)" textLength="225" lengthAdjust="spacingAndGlyphs">% UMI MT genes</text>
<path d="M884.2,1253.3 C884.2,1254.8 884.0,1259.0 884.2,1262.0 C884.4,1265.0 885.4,1268.2 885.4,1271.4 C885.4,1274.6 883.8,1277.9 884.2,1281.0 C884.7,1284.1 885.9,1286.6 888.2,1290.2 C890.5,1293.8 895.4,1298.9 898.2,1302.8 C901.0,1306.7 903.4,1309.9 905.2,1313.8 C907.0,1317.7 909.4,1321.9 909.2,1326.3 C909.0,1330.7 906.7,1336.5 904.2,1340.4 C901.7,1344.3 897.2,1346.8 894.2,1349.9 C891.2,1353.1 887.5,1354.6 885.9,1359.3 C884.4,1364.0 885.1,1375.0 884.9,1378.1 L879.5,1378.1 C879.3,1375.0 880.0,1364.0 878.5,1359.3 C877.0,1354.6 873.2,1353.1 870.2,1349.9 C867.2,1346.8 862.7,1344.3 860.2,1340.4 C857.7,1336.5 855.4,1330.7 855.2,1326.3 C855.0,1321.9 857.4,1317.7 859.2,1313.8 C861.0,1309.9 863.4,1306.7 866.2,1302.8 C869.0,1298.9 873.9,1293.8 876.2,1290.2 C878.5,1286.6 879.7,1284.1 880.2,1281.0 C880.6,1277.9 879.0,1274.6 879.0,1271.4 C879.0,1268.2 880.0,1265.0 880.2,1262.0 C880.4,1259.0 880.2,1254.8 880.2,1253.3 Z" fill="#f5d21c" stroke="#333333" stroke-width="2.6" stroke-linejoin="round"/>
<circle cx="871.2" cy="1315.9" r="2.75" fill="#000"/>
<circle cx="894.7" cy="1305.2" r="2.75" fill="#000"/>
<circle cx="903.3" cy="1341.1" r="2.75" fill="#000"/>
<circle cx="873.7" cy="1338.0" r="2.75" fill="#000"/>
<circle cx="887.2" cy="1334.8" r="2.75" fill="#000"/>
<circle cx="882.8" cy="1299.1" r="2.75" fill="#000"/>
<circle cx="899.6" cy="1306.0" r="2.75" fill="#000"/>
<circle cx="864.7" cy="1322.8" r="2.75" fill="#000"/>
<circle cx="875.9" cy="1324.5" r="2.75" fill="#000"/>
<circle cx="894.9" cy="1334.1" r="2.75" fill="#000"/>
<circle cx="877.0" cy="1300.4" r="2.75" fill="#000"/>
<circle cx="890.0" cy="1324.1" r="2.75" fill="#000"/>
<circle cx="881.1" cy="1309.8" r="2.75" fill="#000"/>
<circle cx="876.3" cy="1334.4" r="2.75" fill="#000"/>
<circle cx="902.2" cy="1322.5" r="2.75" fill="#000"/>
<circle cx="880.2" cy="1329.3" r="2.75" fill="#000"/>
<circle cx="860.9" cy="1330.9" r="2.75" fill="#000"/>
<circle cx="865.1" cy="1366.7" r="2.75" fill="#000"/>
<circle cx="873.0" cy="1323.3" r="2.75" fill="#000"/>
<circle cx="894.7" cy="1296.2" r="2.75" fill="#000"/>
<circle cx="877.3" cy="1321.4" r="2.75" fill="#000"/>
<circle cx="861.6" cy="1300.2" r="2.75" fill="#000"/>
<circle cx="865.4" cy="1314.8" r="2.75" fill="#000"/>
<circle cx="866.7" cy="1300.4" r="2.75" fill="#000"/>
<circle cx="867.0" cy="1326.1" r="2.75" fill="#000"/>
<circle cx="878.8" cy="1306.9" r="2.75" fill="#000"/>
<circle cx="870.4" cy="1316.5" r="2.75" fill="#000"/>
<circle cx="871.1" cy="1359.5" r="2.75" fill="#000"/>
<circle cx="900.8" cy="1336.0" r="2.75" fill="#000"/>
<circle cx="887.0" cy="1323.7" r="2.75" fill="#000"/>
<circle cx="892.1" cy="1314.4" r="2.75" fill="#000"/>
<circle cx="868.1" cy="1334.9" r="2.75" fill="#000"/>
<circle cx="896.6" cy="1354.7" r="2.75" fill="#000"/>
<circle cx="870.9" cy="1316.6" r="2.75" fill="#000"/>
<circle cx="866.0" cy="1323.8" r="2.75" fill="#000"/>
<circle cx="867.1" cy="1342.6" r="2.75" fill="#000"/>
<circle cx="867.8" cy="1336.7" r="2.75" fill="#000"/>
<circle cx="898.9" cy="1321.1" r="2.75" fill="#000"/>
<circle cx="894.3" cy="1327.7" r="2.75" fill="#000"/>
<circle cx="903.0" cy="1330.4" r="2.75" fill="#000"/>
<circle cx="896.9" cy="1317.4" r="2.75" fill="#000"/>
<circle cx="876.4" cy="1313.1" r="2.75" fill="#000"/>
<circle cx="864.3" cy="1318.0" r="2.75" fill="#000"/>
<circle cx="878.1" cy="1311.5" r="2.75" fill="#000"/>
<circle cx="894.0" cy="1331.8" r="2.75" fill="#000"/>
<circle cx="896.2" cy="1312.6" r="2.75" fill="#000"/>
<circle cx="893.9" cy="1371.9" r="2.75" fill="#000"/>
<circle cx="889.4" cy="1339.3" r="2.75" fill="#000"/>
<circle cx="865.3" cy="1319.8" r="2.75" fill="#000"/>
<circle cx="896.9" cy="1326.8" r="2.75" fill="#000"/>
<circle cx="898.2" cy="1317.4" r="2.75" fill="#000"/>
<circle cx="902.4" cy="1344.3" r="2.75" fill="#000"/>
<circle cx="889.2" cy="1335.7" r="2.75" fill="#000"/>
<circle cx="884.4" cy="1291.3" r="2.75" fill="#000"/>
<circle cx="895.2" cy="1323.0" r="2.75" fill="#000"/>
<circle cx="869.0" cy="1338.8" r="2.75" fill="#000"/>
<circle cx="863.8" cy="1316.6" r="2.75" fill="#000"/>
<circle cx="895.8" cy="1316.3" r="2.75" fill="#000"/>
<circle cx="862.3" cy="1310.6" r="2.75" fill="#000"/>
<circle cx="880.5" cy="1335.0" r="2.75" fill="#000"/>
<circle cx="903.1" cy="1321.1" r="2.75" fill="#000"/>
<circle cx="900.4" cy="1315.8" r="2.75" fill="#000"/>
<circle cx="893.0" cy="1323.7" r="2.75" fill="#000"/>
<circle cx="885.6" cy="1316.1" r="2.75" fill="#000"/>
<circle cx="897.3" cy="1301.0" r="2.75" fill="#000"/>
<circle cx="878.4" cy="1325.7" r="2.75" fill="#000"/>
<circle cx="868.8" cy="1344.8" r="2.75" fill="#000"/>
<circle cx="903.3" cy="1318.0" r="2.75" fill="#000"/>
<circle cx="901.3" cy="1333.5" r="2.75" fill="#000"/>
<circle cx="879.1" cy="1285.2" r="2.75" fill="#000"/>
<circle cx="863.4" cy="1335.4" r="2.75" fill="#000"/>
<circle cx="895.5" cy="1326.1" r="2.75" fill="#000"/>
<circle cx="893.5" cy="1317.8" r="2.75" fill="#000"/>
<circle cx="899.8" cy="1339.3" r="2.75" fill="#000"/>
<circle cx="876.7" cy="1373.3" r="2.75" fill="#000"/>
<circle cx="868.5" cy="1334.7" r="2.75" fill="#000"/>
<circle cx="892.9" cy="1314.2" r="2.75" fill="#000"/>
<circle cx="882.2" cy="1307.8" r="2.75" fill="#000"/>
<circle cx="903.2" cy="1332.1" r="2.75" fill="#000"/>
<circle cx="895.8" cy="1377.3" r="2.75" fill="#000"/>
<circle cx="884.6" cy="1308.2" r="2.75" fill="#000"/>
<circle cx="875.8" cy="1337.4" r="2.75" fill="#000"/>
<circle cx="860.3" cy="1348.2" r="2.75" fill="#000"/>
<circle cx="900.6" cy="1324.9" r="2.75" fill="#000"/>
<circle cx="902.1" cy="1354.1" r="2.75" fill="#000"/>
<circle cx="888.2" cy="1326.5" r="2.75" fill="#000"/>
<circle cx="886.9" cy="1339.6" r="2.75" fill="#000"/>
<circle cx="878.5" cy="1311.9" r="2.75" fill="#000"/>
<circle cx="863.4" cy="1325.6" r="2.75" fill="#000"/>
<circle cx="892.2" cy="1259.7" r="2.75" fill="#000"/>
<circle cx="871.0" cy="1336.5" r="2.75" fill="#000"/>
<circle cx="886.9" cy="1325.3" r="2.75" fill="#000"/>
<circle cx="886.1" cy="1346.3" r="2.75" fill="#000"/>
<circle cx="892.0" cy="1335.8" r="2.75" fill="#000"/>
<circle cx="897.8" cy="1333.7" r="2.75" fill="#000"/>
<circle cx="902.6" cy="1349.0" r="2.75" fill="#000"/>
<circle cx="862.4" cy="1321.4" r="2.75" fill="#000"/>
<circle cx="865.7" cy="1339.9" r="2.75" fill="#000"/>
<circle cx="905.1" cy="1323.3" r="2.75" fill="#000"/>
<circle cx="870.5" cy="1317.3" r="2.75" fill="#000"/>
<circle cx="878.1" cy="1308.5" r="2.75" fill="#000"/>
<circle cx="866.6" cy="1329.5" r="2.75" fill="#000"/>
<circle cx="868.1" cy="1309.5" r="2.75" fill="#000"/>
<circle cx="867.6" cy="1315.7" r="2.75" fill="#000"/>
<circle cx="904.0" cy="1323.1" r="2.75" fill="#000"/>
<circle cx="880.9" cy="1325.0" r="2.75" fill="#000"/>
<circle cx="865.9" cy="1309.0" r="2.75" fill="#000"/>
<circle cx="891.5" cy="1306.2" r="2.75" fill="#000"/>
<circle cx="875.5" cy="1357.8" r="2.75" fill="#000"/>
<circle cx="891.0" cy="1320.5" r="2.75" fill="#000"/>
<circle cx="899.0" cy="1319.0" r="2.75" fill="#000"/>
<circle cx="898.3" cy="1327.7" r="2.75" fill="#000"/>
<circle cx="888.2" cy="1335.3" r="2.75" fill="#000"/>
<circle cx="879.1" cy="1348.4" r="2.75" fill="#000"/>
<circle cx="889.7" cy="1314.5" r="2.75" fill="#000"/>
<circle cx="865.9" cy="1336.1" r="2.75" fill="#000"/>
<circle cx="895.6" cy="1318.6" r="2.75" fill="#000"/>
<circle cx="874.8" cy="1328.7" r="2.75" fill="#000"/>
<circle cx="877.7" cy="1352.3" r="2.75" fill="#000"/>
<circle cx="900.5" cy="1307.3" r="2.75" fill="#000"/>
<circle cx="874.1" cy="1339.0" r="2.75" fill="#000"/>
<circle cx="875.9" cy="1323.2" r="2.75" fill="#000"/>
<circle cx="883.7" cy="1345.5" r="2.75" fill="#000"/>
<circle cx="881.1" cy="1349.6" r="2.75" fill="#000"/>
<circle cx="887.2" cy="1316.8" r="2.75" fill="#000"/>
<circle cx="876.2" cy="1337.9" r="2.75" fill="#000"/>
<circle cx="901.2" cy="1319.3" r="2.75" fill="#000"/>
<circle cx="874.5" cy="1326.7" r="2.75" fill="#000"/>
<circle cx="890.9" cy="1340.6" r="2.75" fill="#000"/>
<circle cx="861.9" cy="1273.5" r="2.75" fill="#000"/>
<circle cx="869.7" cy="1339.2" r="2.75" fill="#000"/>
<circle cx="892.9" cy="1293.1" r="2.75" fill="#000"/>
<circle cx="902.8" cy="1336.0" r="2.75" fill="#000"/>
<circle cx="863.3" cy="1327.6" r="2.75" fill="#000"/>
<circle cx="868.1" cy="1349.4" r="2.75" fill="#000"/>
<circle cx="876.9" cy="1337.4" r="2.75" fill="#000"/>
<circle cx="893.9" cy="1300.1" r="2.75" fill="#000"/>
<circle cx="861.0" cy="1329.1" r="2.75" fill="#000"/>
<circle cx="860.2" cy="1292.9" r="2.75" fill="#000"/>
<circle cx="864.4" cy="1334.2" r="2.75" fill="#000"/>
<circle cx="887.2" cy="1306.3" r="2.75" fill="#000"/>
<circle cx="875.8" cy="1333.3" r="2.75" fill="#000"/>
<circle cx="877.2" cy="1363.9" r="2.75" fill="#000"/>
<circle cx="904.0" cy="1311.9" r="2.75" fill="#000"/>
<circle cx="867.3" cy="1375.7" r="2.75" fill="#000"/>
<circle cx="875.3" cy="1307.4" r="2.75" fill="#000"/>
<circle cx="883.6" cy="1334.8" r="2.75" fill="#000"/>
<circle cx="879.4" cy="1332.0" r="2.75" fill="#000"/>
<circle cx="880.0" cy="1338.4" r="2.75" fill="#000"/>
<circle cx="874.7" cy="1344.8" r="2.75" fill="#000"/>
<circle cx="898.7" cy="1320.0" r="2.75" fill="#000"/>
<circle cx="865.8" cy="1347.6" r="2.75" fill="#000"/>
<circle cx="891.0" cy="1306.5" r="2.75" fill="#000"/>
<circle cx="895.4" cy="1259.2" r="2.75" fill="#000"/>
<circle cx="895.9" cy="1325.1" r="2.75" fill="#000"/>
<circle cx="885.4" cy="1320.9" r="2.75" fill="#000"/>
<circle cx="903.4" cy="1335.3" r="2.75" fill="#000"/>
<circle cx="887.5" cy="1354.5" r="2.75" fill="#000"/>
<circle cx="871.6" cy="1315.5" r="2.75" fill="#000"/>
<circle cx="895.5" cy="1346.9" r="2.75" fill="#000"/>
<circle cx="890.8" cy="1341.3" r="2.75" fill="#000"/>
<circle cx="871.3" cy="1316.0" r="2.75" fill="#000"/>
<circle cx="898.7" cy="1329.3" r="2.75" fill="#000"/>
<circle cx="901.7" cy="1324.1" r="2.75" fill="#000"/>
<circle cx="894.0" cy="1298.9" r="2.75" fill="#000"/>
<circle cx="885.6" cy="1305.8" r="2.75" fill="#000"/>
<circle cx="878.9" cy="1346.7" r="2.75" fill="#000"/>
<circle cx="894.9" cy="1350.0" r="2.75" fill="#000"/>
<circle cx="864.4" cy="1300.6" r="2.75" fill="#000"/>
<circle cx="892.6" cy="1343.7" r="2.75" fill="#000"/>
<circle cx="889.0" cy="1312.4" r="2.75" fill="#000"/>
<circle cx="892.4" cy="1299.6" r="2.75" fill="#000"/>
<circle cx="872.0" cy="1310.1" r="2.75" fill="#000"/>
<circle cx="902.6" cy="1318.7" r="2.75" fill="#000"/>
<circle cx="885.5" cy="1377.0" r="2.75" fill="#000"/>
<circle cx="880.2" cy="1340.1" r="2.75" fill="#000"/>
<circle cx="902.9" cy="1342.7" r="2.75" fill="#000"/>
<circle cx="893.7" cy="1322.7" r="2.75" fill="#000"/>
<circle cx="861.7" cy="1304.6" r="2.75" fill="#000"/>
<circle cx="893.3" cy="1369.7" r="2.75" fill="#000"/>
<circle cx="876.5" cy="1303.5" r="2.75" fill="#000"/>
<circle cx="860.7" cy="1312.5" r="2.75" fill="#000"/>
<circle cx="898.4" cy="1322.7" r="2.75" fill="#000"/>
<circle cx="880.6" cy="1345.2" r="2.75" fill="#000"/>
<circle cx="892.7" cy="1323.4" r="2.75" fill="#000"/>
<circle cx="867.7" cy="1317.5" r="2.75" fill="#000"/>
<circle cx="864.7" cy="1304.8" r="2.75" fill="#000"/>
<circle cx="874.7" cy="1307.8" r="2.75" fill="#000"/>
<circle cx="881.0" cy="1307.1" r="2.75" fill="#000"/>
<circle cx="901.2" cy="1337.9" r="2.75" fill="#000"/>
<circle cx="887.4" cy="1310.4" r="2.75" fill="#000"/>
<circle cx="888.2" cy="1360.7" r="2.75" fill="#000"/>
<circle cx="879.6" cy="1326.1" r="2.75" fill="#000"/>
<circle cx="896.3" cy="1300.2" r="2.75" fill="#000"/>
<circle cx="869.9" cy="1333.0" r="2.75" fill="#000"/>
<circle cx="903.5" cy="1323.6" r="2.75" fill="#000"/>
<circle cx="890.7" cy="1348.2" r="2.75" fill="#000"/>
<circle cx="866.9" cy="1326.9" r="2.75" fill="#000"/>
<circle cx="881.9" cy="1304.4" r="2.75" fill="#000"/>
<circle cx="884.7" cy="1313.1" r="2.75" fill="#000"/>
<circle cx="866.7" cy="1337.0" r="2.75" fill="#000"/>
<circle cx="903.3" cy="1344.5" r="2.75" fill="#000"/>
<circle cx="886.0" cy="1365.2" r="2.75" fill="#000"/>
<circle cx="884.4" cy="1357.8" r="2.75" fill="#000"/>
<circle cx="868.6" cy="1315.1" r="2.75" fill="#000"/>
<circle cx="888.2" cy="1303.1" r="2.75" fill="#000"/>
<circle cx="890.7" cy="1327.6" r="2.75" fill="#000"/>
<circle cx="888.4" cy="1318.7" r="2.75" fill="#000"/>
<circle cx="890.0" cy="1327.5" r="2.75" fill="#000"/>
<circle cx="873.0" cy="1318.3" r="2.75" fill="#000"/>
<circle cx="904.0" cy="1358.6" r="2.75" fill="#000"/>
<circle cx="884.6" cy="1295.3" r="2.75" fill="#000"/>
<circle cx="864.6" cy="1308.9" r="2.75" fill="#000"/>
<circle cx="890.7" cy="1342.0" r="2.75" fill="#000"/>
<circle cx="890.4" cy="1349.9" r="2.75" fill="#000"/>
<circle cx="861.5" cy="1333.4" r="2.75" fill="#000"/>
<circle cx="873.6" cy="1321.3" r="2.75" fill="#000"/>
<circle cx="878.3" cy="1326.3" r="2.75" fill="#000"/>
<circle cx="897.1" cy="1346.7" r="2.75" fill="#000"/>
<circle cx="867.4" cy="1266.9" r="2.75" fill="#000"/>
<circle cx="902.1" cy="1340.5" r="2.75" fill="#000"/>
<circle cx="882.9" cy="1313.7" r="2.75" fill="#000"/>
<circle cx="877.8" cy="1316.3" r="2.75" fill="#000"/>
<circle cx="897.4" cy="1333.4" r="2.75" fill="#000"/>
<circle cx="893.5" cy="1365.1" r="2.75" fill="#000"/>
<circle cx="876.0" cy="1312.9" r="2.75" fill="#000"/>
<circle cx="904.9" cy="1333.3" r="2.75" fill="#000"/>
<circle cx="889.3" cy="1373.6" r="2.75" fill="#000"/>
<circle cx="884.6" cy="1305.8" r="2.75" fill="#000"/>
<circle cx="870.9" cy="1318.7" r="2.75" fill="#000"/>
<circle cx="866.1" cy="1304.1" r="2.75" fill="#000"/>
<circle cx="866.6" cy="1328.8" r="2.75" fill="#000"/>
<circle cx="885.0" cy="1324.5" r="2.75" fill="#000"/>
<circle cx="859.9" cy="1320.7" r="2.75" fill="#000"/>
<circle cx="870.1" cy="1294.5" r="2.75" fill="#000"/>
<circle cx="897.1" cy="1336.5" r="2.75" fill="#000"/>
<circle cx="881.2" cy="1311.7" r="2.75" fill="#000"/>
<circle cx="894.4" cy="1319.2" r="2.75" fill="#000"/>
<circle cx="897.6" cy="1310.1" r="2.75" fill="#000"/>
<circle cx="901.7" cy="1321.9" r="2.75" fill="#000"/>
<path d="M941.1,1273.7 C942.1,1275.9 944.4,1282.2 947.1,1287.0 C949.8,1291.8 953.9,1298.1 957.1,1302.8 C960.3,1307.5 965.8,1311.1 966.1,1315.3 C966.4,1319.5 961.6,1323.5 959.1,1327.9 C956.6,1332.4 954.0,1337.8 951.1,1342.0 C948.2,1346.2 943.5,1347.9 941.8,1353.0 C940.1,1358.1 941.2,1369.3 941.1,1372.6 L937.1,1372.6 C937.0,1369.3 938.1,1358.1 936.4,1353.0 C934.7,1347.9 930.0,1346.2 927.1,1342.0 C924.2,1337.8 921.6,1332.4 919.1,1327.9 C916.6,1323.5 911.8,1319.5 912.1,1315.3 C912.4,1311.1 917.9,1307.5 921.1,1302.8 C924.3,1298.1 928.4,1291.8 931.1,1287.0 C933.8,1282.2 936.1,1275.9 937.1,1273.7 Z" fill="#f29c25" stroke="#333333" stroke-width="2.6" stroke-linejoin="round"/>
<circle cx="919.3" cy="1320.6" r="2.75" fill="#000"/>
<circle cx="920.2" cy="1293.8" r="2.75" fill="#000"/>
<circle cx="930.3" cy="1323.4" r="2.75" fill="#000"/>
<circle cx="927.3" cy="1317.7" r="2.75" fill="#000"/>
<circle cx="931.0" cy="1300.1" r="2.75" fill="#000"/>
<circle cx="935.8" cy="1340.2" r="2.75" fill="#000"/>
<circle cx="921.7" cy="1301.3" r="2.75" fill="#000"/>
<circle cx="923.3" cy="1334.5" r="2.75" fill="#000"/>
<circle cx="939.4" cy="1321.7" r="2.75" fill="#000"/>
<circle cx="950.3" cy="1310.4" r="2.75" fill="#000"/>
<circle cx="923.8" cy="1326.0" r="2.75" fill="#000"/>
<circle cx="946.5" cy="1324.7" r="2.75" fill="#000"/>
<circle cx="916.3" cy="1296.3" r="2.75" fill="#000"/>
<circle cx="925.2" cy="1304.5" r="2.75" fill="#000"/>
<circle cx="961.8" cy="1294.4" r="2.75" fill="#000"/>
<circle cx="947.0" cy="1310.6" r="2.75" fill="#000"/>
<circle cx="947.8" cy="1304.6" r="2.75" fill="#000"/>
<circle cx="919.3" cy="1314.2" r="2.75" fill="#000"/>
<circle cx="958.4" cy="1319.1" r="2.75" fill="#000"/>
<circle cx="938.6" cy="1295.7" r="2.75" fill="#000"/>
<circle cx="938.9" cy="1303.6" r="2.75" fill="#000"/>
<circle cx="959.1" cy="1331.1" r="2.75" fill="#000"/>
<circle cx="922.6" cy="1332.8" r="2.75" fill="#000"/>
<circle cx="947.6" cy="1315.5" r="2.75" fill="#000"/>
<circle cx="961.0" cy="1326.1" r="2.75" fill="#000"/>
<circle cx="952.9" cy="1289.7" r="2.75" fill="#000"/>
<circle cx="918.6" cy="1297.0" r="2.75" fill="#000"/>
<circle cx="932.1" cy="1320.0" r="2.75" fill="#000"/>
<circle cx="948.9" cy="1325.8" r="2.75" fill="#000"/>
<circle cx="936.2" cy="1309.0" r="2.75" fill="#000"/>
<circle cx="949.5" cy="1276.5" r="2.75" fill="#000"/>
<circle cx="923.2" cy="1335.8" r="2.75" fill="#000"/>
<circle cx="921.4" cy="1337.4" r="2.75" fill="#000"/>
<circle cx="916.3" cy="1312.4" r="2.75" fill="#000"/>
<circle cx="956.3" cy="1287.6" r="2.75" fill="#000"/>
<circle cx="957.9" cy="1369.3" r="2.75" fill="#000"/>
<circle cx="943.2" cy="1330.5" r="2.75" fill="#000"/>
<circle cx="959.7" cy="1350.4" r="2.75" fill="#000"/>
<circle cx="940.0" cy="1319.3" r="2.75" fill="#000"/>
<circle cx="933.3" cy="1315.7" r="2.75" fill="#000"/>
<circle cx="926.3" cy="1317.3" r="2.75" fill="#000"/>
<circle cx="939.3" cy="1308.4" r="2.75" fill="#000"/>
<circle cx="924.6" cy="1313.6" r="2.75" fill="#000"/>
<circle cx="951.5" cy="1318.2" r="2.75" fill="#000"/>
<circle cx="939.9" cy="1326.4" r="2.75" fill="#000"/>
<circle cx="939.6" cy="1306.5" r="2.75" fill="#000"/>
<circle cx="934.6" cy="1311.9" r="2.75" fill="#000"/>
<circle cx="938.3" cy="1326.4" r="2.75" fill="#000"/>
<circle cx="936.9" cy="1326.9" r="2.75" fill="#000"/>
<circle cx="932.6" cy="1311.9" r="2.75" fill="#000"/>
<circle cx="925.6" cy="1328.9" r="2.75" fill="#000"/>
<circle cx="946.2" cy="1306.3" r="2.75" fill="#000"/>
<circle cx="948.0" cy="1324.9" r="2.75" fill="#000"/>
<circle cx="932.7" cy="1306.6" r="2.75" fill="#000"/>
<circle cx="940.2" cy="1286.9" r="2.75" fill="#000"/>
<circle cx="953.1" cy="1325.3" r="2.75" fill="#000"/>
<circle cx="921.1" cy="1305.7" r="2.75" fill="#000"/>
<circle cx="938.5" cy="1331.8" r="2.75" fill="#000"/>
<circle cx="938.5" cy="1311.9" r="2.75" fill="#000"/>
<circle cx="955.1" cy="1326.5" r="2.75" fill="#000"/>
<circle cx="935.5" cy="1337.0" r="2.75" fill="#000"/>
<circle cx="924.5" cy="1310.3" r="2.75" fill="#000"/>
<circle cx="958.5" cy="1300.1" r="2.75" fill="#000"/>
<circle cx="955.3" cy="1335.4" r="2.75" fill="#000"/>
<circle cx="924.9" cy="1338.4" r="2.75" fill="#000"/>
<circle cx="921.6" cy="1329.8" r="2.75" fill="#000"/>
<circle cx="934.4" cy="1339.8" r="2.75" fill="#000"/>
<circle cx="917.0" cy="1320.7" r="2.75" fill="#000"/>
<circle cx="916.6" cy="1313.3" r="2.75" fill="#000"/>
<circle cx="931.4" cy="1312.5" r="2.75" fill="#000"/>
<circle cx="924.8" cy="1324.9" r="2.75" fill="#000"/>
<circle cx="944.2" cy="1283.9" r="2.75" fill="#000"/>
<circle cx="955.4" cy="1308.1" r="2.75" fill="#000"/>
<circle cx="943.1" cy="1339.5" r="2.75" fill="#000"/>
<circle cx="917.8" cy="1319.5" r="2.75" fill="#000"/>
<circle cx="943.8" cy="1309.9" r="2.75" fill="#000"/>
<circle cx="925.9" cy="1316.7" r="2.75" fill="#000"/>
<circle cx="932.8" cy="1309.6" r="2.75" fill="#000"/>
<circle cx="961.5" cy="1339.3" r="2.75" fill="#000"/>
<circle cx="927.3" cy="1306.4" r="2.75" fill="#000"/>
<circle cx="917.8" cy="1320.8" r="2.75" fill="#000"/>
<circle cx="928.5" cy="1331.9" r="2.75" fill="#000"/>
<circle cx="961.5" cy="1330.0" r="2.75" fill="#000"/>
<circle cx="926.6" cy="1290.8" r="2.75" fill="#000"/>
<circle cx="954.8" cy="1322.6" r="2.75" fill="#000"/>
<circle cx="952.9" cy="1318.3" r="2.75" fill="#000"/>
<circle cx="950.7" cy="1295.3" r="2.75" fill="#000"/>
<circle cx="920.3" cy="1315.3" r="2.75" fill="#000"/>
<circle cx="916.2" cy="1315.6" r="2.75" fill="#000"/>
<circle cx="933.1" cy="1295.0" r="2.75" fill="#000"/>
<circle cx="929.4" cy="1314.7" r="2.75" fill="#000"/>
<circle cx="961.3" cy="1326.0" r="2.75" fill="#000"/>
<circle cx="938.8" cy="1302.0" r="2.75" fill="#000"/>
<circle cx="925.7" cy="1312.6" r="2.75" fill="#000"/>
<circle cx="931.5" cy="1336.9" r="2.75" fill="#000"/>
<circle cx="929.2" cy="1322.3" r="2.75" fill="#000"/>
<circle cx="933.1" cy="1294.8" r="2.75" fill="#000"/>
<circle cx="940.6" cy="1297.5" r="2.75" fill="#000"/>
<circle cx="955.0" cy="1310.7" r="2.75" fill="#000"/>
<circle cx="960.1" cy="1310.8" r="2.75" fill="#000"/>
<circle cx="923.6" cy="1312.1" r="2.75" fill="#000"/>
<circle cx="936.6" cy="1323.7" r="2.75" fill="#000"/>
<circle cx="952.4" cy="1313.1" r="2.75" fill="#000"/>
<circle cx="933.3" cy="1316.3" r="2.75" fill="#000"/>
<circle cx="926.2" cy="1326.7" r="2.75" fill="#000"/>
<circle cx="947.2" cy="1348.3" r="2.75" fill="#000"/>
<circle cx="925.2" cy="1317.2" r="2.75" fill="#000"/>
<circle cx="948.0" cy="1302.2" r="2.75" fill="#000"/>
<circle cx="922.4" cy="1307.4" r="2.75" fill="#000"/>
<circle cx="939.5" cy="1320.6" r="2.75" fill="#000"/>
<circle cx="922.3" cy="1309.7" r="2.75" fill="#000"/>
<circle cx="922.3" cy="1316.1" r="2.75" fill="#000"/>
<circle cx="941.2" cy="1309.9" r="2.75" fill="#000"/>
<circle cx="942.4" cy="1322.6" r="2.75" fill="#000"/>
<circle cx="954.3" cy="1304.6" r="2.75" fill="#000"/>
<circle cx="932.8" cy="1320.0" r="2.75" fill="#000"/>
<circle cx="953.9" cy="1315.3" r="2.75" fill="#000"/>
<circle cx="944.2" cy="1323.0" r="2.75" fill="#000"/>
<circle cx="960.8" cy="1286.9" r="2.75" fill="#000"/>
<circle cx="955.0" cy="1327.0" r="2.75" fill="#000"/>
<circle cx="940.1" cy="1302.5" r="2.75" fill="#000"/>
<circle cx="936.3" cy="1282.9" r="2.75" fill="#000"/>
<circle cx="940.6" cy="1333.1" r="2.75" fill="#000"/>
<circle cx="957.4" cy="1335.2" r="2.75" fill="#000"/>
<circle cx="931.6" cy="1310.3" r="2.75" fill="#000"/>
<circle cx="944.8" cy="1291.9" r="2.75" fill="#000"/>
<circle cx="929.6" cy="1296.7" r="2.75" fill="#000"/>
<circle cx="957.7" cy="1309.0" r="2.75" fill="#000"/>
<circle cx="936.3" cy="1337.8" r="2.75" fill="#000"/>
<circle cx="958.7" cy="1331.1" r="2.75" fill="#000"/>
<circle cx="926.6" cy="1333.2" r="2.75" fill="#000"/>
<circle cx="941.5" cy="1296.4" r="2.75" fill="#000"/>
<circle cx="922.7" cy="1321.4" r="2.75" fill="#000"/>
<circle cx="952.3" cy="1326.0" r="2.75" fill="#000"/>
<circle cx="960.1" cy="1315.5" r="2.75" fill="#000"/>
<circle cx="954.3" cy="1308.7" r="2.75" fill="#000"/>
<circle cx="934.3" cy="1306.2" r="2.75" fill="#000"/>
<circle cx="960.0" cy="1304.3" r="2.75" fill="#000"/>
<circle cx="939.2" cy="1312.2" r="2.75" fill="#000"/>
<circle cx="950.4" cy="1285.3" r="2.75" fill="#000"/>
<path d="M998.4,1278.4 C999.0,1280.6 999.7,1287.2 1002.0,1291.8 C1004.3,1296.4 1008.5,1300.9 1012.0,1305.9 C1015.5,1310.9 1022.7,1316.4 1023.0,1321.6 C1023.3,1326.8 1017.2,1332.6 1014.0,1337.3 C1010.8,1342.0 1006.5,1346.2 1004.0,1349.9 C1001.5,1353.6 999.7,1355.4 998.7,1359.3 C997.7,1363.2 998.1,1371.1 998.0,1373.4 L994.0,1373.4 C993.9,1371.1 994.3,1363.2 993.3,1359.3 C992.3,1355.4 990.5,1353.6 988.0,1349.9 C985.5,1346.2 981.2,1342.0 978.0,1337.3 C974.8,1332.6 968.7,1326.8 969.0,1321.6 C969.3,1316.4 976.5,1310.9 980.0,1305.9 C983.5,1300.9 987.7,1296.4 990.0,1291.8 C992.3,1287.2 993.0,1280.6 993.6,1278.4 Z" fill="#e4252b" stroke="#333333" stroke-width="2.6" stroke-linejoin="round"/>
<circle cx="982.6" cy="1340.3" r="2.75" fill="#000"/>
<circle cx="1003.3" cy="1318.0" r="2.75" fill="#000"/>
<circle cx="980.1" cy="1319.3" r="2.75" fill="#000"/>
<circle cx="996.3" cy="1345.5" r="2.75" fill="#000"/>
<circle cx="1006.2" cy="1334.5" r="2.75" fill="#000"/>
<circle cx="977.3" cy="1318.2" r="2.75" fill="#000"/>
<circle cx="995.2" cy="1314.7" r="2.75" fill="#000"/>
<circle cx="983.0" cy="1317.8" r="2.75" fill="#000"/>
<circle cx="1009.7" cy="1320.0" r="2.75" fill="#000"/>
<circle cx="998.4" cy="1313.5" r="2.75" fill="#000"/>
<circle cx="978.8" cy="1327.3" r="2.75" fill="#000"/>
<circle cx="1012.7" cy="1334.6" r="2.75" fill="#000"/>
<circle cx="1010.5" cy="1335.2" r="2.75" fill="#000"/>
<circle cx="1016.8" cy="1321.1" r="2.75" fill="#000"/>
<circle cx="991.9" cy="1309.2" r="2.75" fill="#000"/>
<circle cx="983.2" cy="1321.8" r="2.75" fill="#000"/>
<circle cx="979.8" cy="1340.3" r="2.75" fill="#000"/>
<circle cx="981.7" cy="1308.4" r="2.75" fill="#000"/>
<circle cx="993.2" cy="1322.4" r="2.75" fill="#000"/>
<circle cx="973.8" cy="1322.9" r="2.75" fill="#000"/>
<circle cx="974.8" cy="1346.4" r="2.75" fill="#000"/>
<circle cx="997.7" cy="1333.5" r="2.75" fill="#000"/>
<circle cx="987.1" cy="1311.8" r="2.75" fill="#000"/>
<circle cx="999.4" cy="1331.4" r="2.75" fill="#000"/>
<circle cx="995.1" cy="1328.5" r="2.75" fill="#000"/>
<circle cx="1004.8" cy="1298.3" r="2.75" fill="#000"/>
<circle cx="1006.7" cy="1306.8" r="2.75" fill="#000"/>
<circle cx="1013.0" cy="1302.9" r="2.75" fill="#000"/>
<circle cx="976.9" cy="1296.4" r="2.75" fill="#000"/>
<circle cx="995.5" cy="1312.3" r="2.75" fill="#000"/>
<circle cx="994.2" cy="1312.7" r="2.75" fill="#000"/>
<circle cx="1006.2" cy="1318.1" r="2.75" fill="#000"/>
<circle cx="973.4" cy="1303.4" r="2.75" fill="#000"/>
<circle cx="1005.1" cy="1315.5" r="2.75" fill="#000"/>
<circle cx="982.6" cy="1335.7" r="2.75" fill="#000"/>
<circle cx="991.9" cy="1294.3" r="2.75" fill="#000"/>
<circle cx="987.4" cy="1346.6" r="2.75" fill="#000"/>
<circle cx="996.6" cy="1300.2" r="2.75" fill="#000"/>
<circle cx="1008.4" cy="1320.7" r="2.75" fill="#000"/>
<circle cx="981.2" cy="1337.9" r="2.75" fill="#000"/>
<circle cx="991.8" cy="1319.9" r="2.75" fill="#000"/>
<circle cx="994.2" cy="1328.8" r="2.75" fill="#000"/>
<circle cx="998.6" cy="1325.1" r="2.75" fill="#000"/>
<circle cx="990.0" cy="1339.9" r="2.75" fill="#000"/>
<circle cx="973.6" cy="1342.3" r="2.75" fill="#000"/>
<circle cx="1011.8" cy="1327.3" r="2.75" fill="#000"/>
<circle cx="986.8" cy="1320.2" r="2.75" fill="#000"/>
<circle cx="982.4" cy="1332.2" r="2.75" fill="#000"/>
<circle cx="1003.3" cy="1328.9" r="2.75" fill="#000"/>
<circle cx="987.9" cy="1289.7" r="2.75" fill="#000"/>
<circle cx="978.9" cy="1325.3" r="2.75" fill="#000"/>
<circle cx="1009.4" cy="1328.3" r="2.75" fill="#000"/>
<circle cx="1010.2" cy="1314.6" r="2.75" fill="#000"/>
<circle cx="976.1" cy="1304.1" r="2.75" fill="#000"/>
<circle cx="1006.3" cy="1346.2" r="2.75" fill="#000"/>
<circle cx="991.2" cy="1317.2" r="2.75" fill="#000"/>
<circle cx="978.6" cy="1322.3" r="2.75" fill="#000"/>
<circle cx="1017.5" cy="1323.6" r="2.75" fill="#000"/>
<circle cx="983.5" cy="1317.6" r="2.75" fill="#000"/>
<circle cx="1002.7" cy="1354.0" r="2.75" fill="#000"/>
<circle cx="1007.7" cy="1337.8" r="2.75" fill="#000"/>
<circle cx="974.9" cy="1313.9" r="2.75" fill="#000"/>
<circle cx="982.3" cy="1321.4" r="2.75" fill="#000"/>
<circle cx="985.7" cy="1321.2" r="2.75" fill="#000"/>
<circle cx="992.6" cy="1306.7" r="2.75" fill="#000"/>
<circle cx="984.0" cy="1348.5" r="2.75" fill="#000"/>
<circle cx="974.6" cy="1325.4" r="2.75" fill="#000"/>
<circle cx="986.9" cy="1321.5" r="2.75" fill="#000"/>
<circle cx="975.9" cy="1325.9" r="2.75" fill="#000"/>
<circle cx="986.9" cy="1345.0" r="2.75" fill="#000"/>
<circle cx="990.3" cy="1331.1" r="2.75" fill="#000"/>
<circle cx="973.7" cy="1305.2" r="2.75" fill="#000"/>
<circle cx="976.7" cy="1306.2" r="2.75" fill="#000"/>
<circle cx="996.8" cy="1300.5" r="2.75" fill="#000"/>
<circle cx="992.2" cy="1305.6" r="2.75" fill="#000"/>
<circle cx="1011.6" cy="1312.6" r="2.75" fill="#000"/>
<circle cx="977.5" cy="1295.7" r="2.75" fill="#000"/>
<circle cx="1000.5" cy="1347.9" r="2.75" fill="#000"/>
<circle cx="975.9" cy="1339.9" r="2.75" fill="#000"/>
<circle cx="1006.2" cy="1330.4" r="2.75" fill="#000"/>
<circle cx="981.6" cy="1314.5" r="2.75" fill="#000"/>
<circle cx="999.9" cy="1320.5" r="2.75" fill="#000"/>
<circle cx="1002.6" cy="1314.2" r="2.75" fill="#000"/>
<circle cx="995.8" cy="1301.4" r="2.75" fill="#000"/>
<circle cx="996.4" cy="1310.8" r="2.75" fill="#000"/>
<circle cx="990.2" cy="1322.7" r="2.75" fill="#000"/>
<circle cx="985.6" cy="1319.9" r="2.75" fill="#000"/>
<circle cx="1018.6" cy="1360.6" r="2.75" fill="#000"/>
<circle cx="1010.5" cy="1347.7" r="2.75" fill="#000"/>
<circle cx="1018.9" cy="1326.6" r="2.75" fill="#000"/>
<circle cx="998.7" cy="1329.2" r="2.75" fill="#000"/>
<circle cx="981.1" cy="1301.5" r="2.75" fill="#000"/>
<circle cx="981.9" cy="1313.1" r="2.75" fill="#000"/>
<circle cx="977.4" cy="1321.2" r="2.75" fill="#000"/>
<circle cx="994.9" cy="1328.0" r="2.75" fill="#000"/>
<circle cx="975.0" cy="1329.0" r="2.75" fill="#000"/>
<circle cx="991.0" cy="1310.5" r="2.75" fill="#000"/>
<circle cx="1005.0" cy="1319.0" r="2.75" fill="#000"/>
<circle cx="991.5" cy="1332.0" r="2.75" fill="#000"/>
<circle cx="981.6" cy="1325.5" r="2.75" fill="#000"/>
<circle cx="1008.8" cy="1349.9" r="2.75" fill="#000"/>
<circle cx="1011.6" cy="1367.0" r="2.75" fill="#000"/>
<circle cx="1005.9" cy="1311.8" r="2.75" fill="#000"/>
<circle cx="1013.4" cy="1348.4" r="2.75" fill="#000"/>
<circle cx="994.9" cy="1313.4" r="2.75" fill="#000"/>
<circle cx="1009.7" cy="1315.9" r="2.75" fill="#000"/>
<circle cx="1003.8" cy="1338.4" r="2.75" fill="#000"/>
<circle cx="999.1" cy="1307.7" r="2.75" fill="#000"/>
<circle cx="977.7" cy="1309.6" r="2.75" fill="#000"/>
<circle cx="983.3" cy="1307.0" r="2.75" fill="#000"/>
<circle cx="1012.0" cy="1339.0" r="2.75" fill="#000"/>
<circle cx="991.2" cy="1314.2" r="2.75" fill="#000"/>
<circle cx="990.5" cy="1285.7" r="2.75" fill="#000"/>
<circle cx="990.3" cy="1286.3" r="2.75" fill="#000"/>
<circle cx="983.5" cy="1279.7" r="2.75" fill="#000"/>
<circle cx="977.6" cy="1312.2" r="2.75" fill="#000"/>
<circle cx="996.2" cy="1331.9" r="2.75" fill="#000"/>
<circle cx="1017.6" cy="1312.6" r="2.75" fill="#000"/>
<circle cx="1013.8" cy="1318.4" r="2.75" fill="#000"/>
<circle cx="974.0" cy="1305.7" r="2.75" fill="#000"/>
<circle cx="1005.0" cy="1332.3" r="2.75" fill="#000"/>
<circle cx="980.1" cy="1324.4" r="2.75" fill="#000"/>
<circle cx="991.4" cy="1323.6" r="2.75" fill="#000"/>
<circle cx="999.4" cy="1310.2" r="2.75" fill="#000"/>
<circle cx="1000.6" cy="1335.1" r="2.75" fill="#000"/>
<circle cx="999.1" cy="1345.9" r="2.75" fill="#000"/>
<circle cx="990.1" cy="1316.8" r="2.75" fill="#000"/>
<circle cx="1005.5" cy="1302.1" r="2.75" fill="#000"/>
<circle cx="1003.5" cy="1346.9" r="2.75" fill="#000"/>
<circle cx="993.5" cy="1348.4" r="2.75" fill="#000"/>
<circle cx="987.6" cy="1321.2" r="2.75" fill="#000"/>
<circle cx="1010.2" cy="1304.0" r="2.75" fill="#000"/>
<circle cx="1014.1" cy="1313.3" r="2.75" fill="#000"/>
<circle cx="995.7" cy="1304.7" r="2.75" fill="#000"/>
<circle cx="1018.8" cy="1316.8" r="2.75" fill="#000"/>
<path d="M1055.7,1309.7 C1056.6,1311.6 1058.5,1317.7 1061.0,1321.0 C1063.5,1324.3 1068.3,1326.6 1071.0,1329.4 C1073.7,1332.2 1075.4,1334.4 1077.0,1337.8 C1078.6,1341.2 1080.3,1345.7 1080.5,1349.7 C1080.7,1353.7 1079.9,1357.7 1078.0,1361.7 C1076.1,1365.7 1071.5,1369.4 1069.0,1373.6 C1066.5,1377.8 1064.0,1384.6 1063.0,1386.8 L1043.0,1386.8 C1042.0,1384.6 1039.5,1377.8 1037.0,1373.6 C1034.5,1369.4 1029.9,1365.7 1028.0,1361.7 C1026.1,1357.7 1025.3,1353.7 1025.5,1349.7 C1025.7,1345.7 1027.4,1341.2 1029.0,1337.8 C1030.6,1334.4 1032.3,1332.2 1035.0,1329.4 C1037.7,1326.6 1042.5,1324.3 1045.0,1321.0 C1047.5,1317.7 1049.4,1311.6 1050.3,1309.7 Z" fill="#4a4a4a" stroke="#333333" stroke-width="2.6" stroke-linejoin="round"/>
<circle cx="1059.1" cy="1349.5" r="2.75" fill="#000"/>
<circle cx="1038.0" cy="1335.3" r="2.75" fill="#000"/>
<circle cx="1030.8" cy="1328.1" r="2.75" fill="#000"/>
<circle cx="1073.9" cy="1350.2" r="2.75" fill="#000"/>
<circle cx="1065.9" cy="1348.3" r="2.75" fill="#000"/>
<circle cx="1044.0" cy="1354.8" r="2.75" fill="#000"/>
<circle cx="1059.7" cy="1350.2" r="2.75" fill="#000"/>
<circle cx="1057.9" cy="1351.3" r="2.75" fill="#000"/>
<circle cx="1045.4" cy="1385.7" r="2.75" fill="#000"/>
<circle cx="1032.6" cy="1315.5" r="2.75" fill="#000"/>
<circle cx="1062.1" cy="1348.3" r="2.75" fill="#000"/>
<circle cx="1057.0" cy="1381.3" r="2.75" fill="#000"/>
<circle cx="1047.6" cy="1354.5" r="2.75" fill="#000"/>
<circle cx="1033.0" cy="1339.7" r="2.75" fill="#000"/>
<circle cx="1052.6" cy="1352.6" r="2.75" fill="#000"/>
<circle cx="1063.6" cy="1346.3" r="2.75" fill="#000"/>
<circle cx="1035.3" cy="1366.0" r="2.75" fill="#000"/>
<circle cx="1075.4" cy="1355.5" r="2.75" fill="#000"/>
<circle cx="1070.4" cy="1362.9" r="2.75" fill="#000"/>
<circle cx="1072.3" cy="1358.4" r="2.75" fill="#000"/>
<circle cx="1041.4" cy="1367.5" r="2.75" fill="#000"/>
<circle cx="1043.6" cy="1355.0" r="2.75" fill="#000"/>
<circle cx="1045.3" cy="1363.6" r="2.75" fill="#000"/>
<circle cx="1056.1" cy="1353.2" r="2.75" fill="#000"/>
<circle cx="1075.6" cy="1374.3" r="2.75" fill="#000"/>
<circle cx="1055.4" cy="1321.4" r="2.75" fill="#000"/>
<circle cx="1058.7" cy="1362.9" r="2.75" fill="#000"/>
<circle cx="1054.5" cy="1350.5" r="2.75" fill="#000"/>
<circle cx="1030.6" cy="1361.6" r="2.75" fill="#000"/>
<circle cx="1032.7" cy="1343.6" r="2.75" fill="#000"/>
<circle cx="1059.8" cy="1365.3" r="2.75" fill="#000"/>
<circle cx="1047.5" cy="1365.6" r="2.75" fill="#000"/>
<circle cx="1054.3" cy="1338.6" r="2.75" fill="#000"/>
<circle cx="1057.0" cy="1356.1" r="2.75" fill="#000"/>
<circle cx="1073.8" cy="1379.9" r="2.75" fill="#000"/>
<circle cx="1047.7" cy="1339.6" r="2.75" fill="#000"/>
<circle cx="1038.0" cy="1344.7" r="2.75" fill="#000"/>
<circle cx="1073.0" cy="1354.2" r="2.75" fill="#000"/>
<circle cx="1052.7" cy="1317.9" r="2.75" fill="#000"/>
<circle cx="1068.7" cy="1376.5" r="2.75" fill="#000"/>
<circle cx="1072.7" cy="1346.8" r="2.75" fill="#000"/>
<circle cx="1037.2" cy="1327.2" r="2.75" fill="#000"/>
<circle cx="1062.2" cy="1332.2" r="2.75" fill="#000"/>
<circle cx="1066.9" cy="1354.6" r="2.75" fill="#000"/>
<circle cx="1067.7" cy="1351.1" r="2.75" fill="#000"/>
<circle cx="1073.2" cy="1366.7" r="2.75" fill="#000"/>
<circle cx="1030.0" cy="1366.7" r="2.75" fill="#000"/>
<circle cx="1034.5" cy="1371.0" r="2.75" fill="#000"/>
<path d="M1117.3,1314.5 C1118.8,1315.6 1123.8,1318.5 1126.3,1321.0 C1128.8,1323.5 1130.5,1326.6 1132.3,1329.4 C1134.1,1332.2 1137.5,1334.8 1137.2,1337.8 C1136.9,1340.8 1133.0,1344.5 1130.3,1347.3 C1127.6,1350.1 1123.0,1351.1 1121.3,1354.5 C1119.6,1357.9 1121.0,1363.6 1120.3,1367.6 C1119.6,1371.6 1117.8,1376.6 1117.3,1378.4 L1103.3,1378.4 C1102.8,1376.6 1101.0,1371.6 1100.3,1367.6 C1099.6,1363.6 1101.0,1357.9 1099.3,1354.5 C1097.6,1351.1 1093.0,1350.1 1090.3,1347.3 C1087.6,1344.5 1083.7,1340.8 1083.4,1337.8 C1083.1,1334.8 1086.5,1332.2 1088.3,1329.4 C1090.1,1326.6 1091.8,1323.5 1094.3,1321.0 C1096.8,1318.5 1101.8,1315.6 1103.3,1314.5 Z" fill="#bdbdbd" stroke="#333333" stroke-width="2.6" stroke-linejoin="round"/>
<circle cx="1116.5" cy="1350.0" r="2.75" fill="#000"/>
<circle cx="1102.4" cy="1355.8" r="2.75" fill="#000"/>
<circle cx="1101.7" cy="1355.7" r="2.75" fill="#000"/>
<circle cx="1126.3" cy="1346.1" r="2.75" fill="#000"/>
<circle cx="1098.9" cy="1340.9" r="2.75" fill="#000"/>
<circle cx="1126.8" cy="1339.8" r="2.75" fill="#000"/>
<circle cx="1119.4" cy="1361.4" r="2.75" fill="#000"/>
<circle cx="1123.1" cy="1344.6" r="2.75" fill="#000"/>
<circle cx="1091.8" cy="1349.0" r="2.75" fill="#000"/>
<circle cx="1108.8" cy="1331.7" r="2.75" fill="#000"/>
<circle cx="1092.2" cy="1352.5" r="2.75" fill="#000"/>
<circle cx="1094.7" cy="1334.3" r="2.75" fill="#000"/>
<circle cx="1091.5" cy="1321.6" r="2.75" fill="#000"/>
<circle cx="1098.7" cy="1344.5" r="2.75" fill="#000"/>
<circle cx="1106.1" cy="1345.3" r="2.75" fill="#000"/>
<circle cx="1103.0" cy="1337.0" r="2.75" fill="#000"/>
<circle cx="1120.2" cy="1330.1" r="2.75" fill="#000"/>
<circle cx="1119.5" cy="1350.6" r="2.75" fill="#000"/>
<circle cx="1100.8" cy="1324.7" r="2.75" fill="#000"/>
<circle cx="1097.2" cy="1331.7" r="2.75" fill="#000"/>
<circle cx="1127.0" cy="1333.0" r="2.75" fill="#000"/>
<circle cx="1104.8" cy="1344.0" r="2.75" fill="#000"/>
<circle cx="1108.0" cy="1366.2" r="2.75" fill="#000"/>
<circle cx="1099.1" cy="1341.5" r="2.75" fill="#000"/>
<circle cx="1110.4" cy="1330.3" r="2.75" fill="#000"/>
<circle cx="1107.2" cy="1349.6" r="2.75" fill="#000"/>
<circle cx="1104.9" cy="1376.8" r="2.75" fill="#000"/>
<circle cx="1104.6" cy="1355.7" r="2.75" fill="#000"/>
<circle cx="1121.4" cy="1324.9" r="2.75" fill="#000"/>
<circle cx="1101.5" cy="1365.8" r="2.75" fill="#000"/>
<circle cx="1107.8" cy="1339.0" r="2.75" fill="#000"/>
<circle cx="1129.0" cy="1337.7" r="2.75" fill="#000"/>
<circle cx="1131.7" cy="1366.9" r="2.75" fill="#000"/>
<circle cx="1116.8" cy="1326.0" r="2.75" fill="#000"/>
<circle cx="1132.9" cy="1359.0" r="2.75" fill="#000"/>
<circle cx="1125.0" cy="1318.3" r="2.75" fill="#000"/>
<circle cx="1097.1" cy="1335.1" r="2.75" fill="#000"/>
<circle cx="1106.2" cy="1348.4" r="2.75" fill="#000"/>
<circle cx="1120.9" cy="1328.4" r="2.75" fill="#000"/>
<circle cx="1097.5" cy="1323.5" r="2.75" fill="#000"/>
<circle cx="1113.8" cy="1334.8" r="2.75" fill="#000"/>
<circle cx="1116.4" cy="1362.3" r="2.75" fill="#000"/>
<circle cx="1090.5" cy="1334.5" r="2.75" fill="#000"/>
<circle cx="1107.9" cy="1339.3" r="2.75" fill="#000"/>
<circle cx="1103.4" cy="1374.5" r="2.75" fill="#000"/>
<circle cx="1130.5" cy="1336.3" r="2.75" fill="#000"/>
<circle cx="1106.9" cy="1342.1" r="2.75" fill="#000"/>
<circle cx="1110.0" cy="1330.5" r="2.75" fill="#000"/>
<circle cx="1113.2" cy="1337.8" r="2.75" fill="#000"/>
<circle cx="1094.6" cy="1328.6" r="2.75" fill="#000"/>
<circle cx="1128.2" cy="1334.3" r="2.75" fill="#000"/>
<circle cx="1107.6" cy="1330.1" r="2.75" fill="#000"/>
<circle cx="1089.3" cy="1340.2" r="2.75" fill="#000"/>
<circle cx="1119.0" cy="1321.6" r="2.75" fill="#000"/>
<circle cx="1125.0" cy="1335.2" r="2.75" fill="#000"/>
<circle cx="1112.8" cy="1332.0" r="2.75" fill="#000"/>
<circle cx="1089.3" cy="1343.7" r="2.75" fill="#000"/>
<circle cx="1121.2" cy="1337.8" r="2.75" fill="#000"/>
<circle cx="1107.8" cy="1342.8" r="2.75" fill="#000"/>
<circle cx="1095.6" cy="1329.6" r="2.75" fill="#000"/>
<circle cx="1120.2" cy="1352.7" r="2.75" fill="#000"/>
<circle cx="1114.7" cy="1334.3" r="2.75" fill="#000"/>
<circle cx="1113.1" cy="1343.9" r="2.75" fill="#000"/>
<circle cx="1118.2" cy="1328.5" r="2.75" fill="#000"/>
<circle cx="1091.9" cy="1340.3" r="2.75" fill="#000"/>
<circle cx="1126.1" cy="1333.0" r="2.75" fill="#000"/>
<circle cx="1127.3" cy="1316.7" r="2.75" fill="#000"/>
<circle cx="1101.2" cy="1350.7" r="2.75" fill="#000"/>
<circle cx="1101.0" cy="1330.0" r="2.75" fill="#000"/>
<circle cx="1122.3" cy="1346.7" r="2.75" fill="#000"/>
<circle cx="1132.6" cy="1341.4" r="2.75" fill="#000"/>
<circle cx="1087.8" cy="1335.3" r="2.75" fill="#000"/>
<circle cx="1112.4" cy="1359.8" r="2.75" fill="#000"/>
<circle cx="1101.8" cy="1335.9" r="2.75" fill="#000"/>
<circle cx="1112.6" cy="1329.2" r="2.75" fill="#000"/>
<circle cx="1089.0" cy="1349.1" r="2.75" fill="#000"/>
<circle cx="1109.0" cy="1349.6" r="2.75" fill="#000"/>
<circle cx="1117.9" cy="1314.7" r="2.75" fill="#000"/>
<line x1="848.7" y1="1235.9" x2="848.7" y2="1504.8" stroke="#000" stroke-width="4"/>
<line x1="846.7" y1="1502.8" x2="1147.0" y2="1502.8" stroke="#000" stroke-width="4"/>
<line x1="839.7" y1="1489.7" x2="848.7" y2="1489.7" stroke="#000" stroke-width="4.5"/>
<text x="828.9" y="1499.9" font-size="23" text-anchor="end" fill="#000">0</text>
<line x1="839.7" y1="1435.4" x2="848.7" y2="1435.4" stroke="#000" stroke-width="4.5"/>
<text x="828.9" y="1445.6" font-size="23" text-anchor="end" fill="#000">5</text>
<line x1="839.7" y1="1381.1" x2="848.7" y2="1381.1" stroke="#000" stroke-width="4.5"/>
<text x="828.9" y="1391.3" font-size="23" text-anchor="end" fill="#000">10</text>
<line x1="839.7" y1="1326.8" x2="848.7" y2="1326.8" stroke="#000" stroke-width="4.5"/>
<text x="828.9" y="1337.0" font-size="23" text-anchor="end" fill="#000">15</text>
<line x1="839.7" y1="1272.5" x2="848.7" y2="1272.5" stroke="#000" stroke-width="4.5"/>
<text x="828.9" y="1282.7" font-size="23" text-anchor="end" fill="#000">20</text>
<line x1="882.2" y1="1502.8" x2="882.2" y2="1511.8" stroke="#000" stroke-width="4.5"/>
<text x="890.6" y="1521.5" font-size="28.5" text-anchor="end" fill="#000" transform="rotate(-45 890.6 1521.5)">20 min</text>
<line x1="939.1" y1="1502.8" x2="939.1" y2="1511.8" stroke="#000" stroke-width="4.5"/>
<text x="942.0" y="1521.5" font-size="28.5" text-anchor="end" fill="#000" transform="rotate(-45 942.0 1521.5)">40 min</text>
<line x1="996.0" y1="1502.8" x2="996.0" y2="1511.8" stroke="#000" stroke-width="4.5"/>
<text x="997.4" y="1521.5" font-size="28.5" text-anchor="end" fill="#000" transform="rotate(-45 997.4 1521.5)">60 min</text>
<line x1="1053.0" y1="1502.8" x2="1053.0" y2="1511.8" stroke="#000" stroke-width="4.5"/>
<text x="1055.5" y="1521.5" font-size="28.5" text-anchor="end" fill="#000" transform="rotate(-45 1055.5 1521.5)">120 min</text>
<line x1="1110.3" y1="1502.8" x2="1110.3" y2="1511.8" stroke="#000" stroke-width="4.5"/>
<text x="1120.5" y="1521.5" font-size="28.5" text-anchor="end" fill="#000" transform="rotate(-45 1120.5 1521.5)">180 min</text>
<text x="793.3" y="1369.6" font-size="30" text-anchor="middle" fill="#000" transform="rotate(-90 793.3 1369.6)" textLength="238" lengthAdjust="spacingAndGlyphs">% UMI RPL genes</text>
<text x="-1.0" y="1648.7" font-size="42" text-anchor="start" fill="#000" font-weight="bold">F</text>
<line x1="117.6" y1="2058.5" x2="537.7" y2="1639.1" stroke="#ea9a84" stroke-width="1.6"/>
<circle cx="149.2" cy="2028.7" r="9.6" fill="#f0d7e4" fill-opacity="0.85" stroke="#111" stroke-width="1.3"/>
<circle cx="154.7" cy="2025.4" r="9.6" fill="#1b1728" fill-opacity="0.85" stroke="#111" stroke-width="1.3"/>
<circle cx="168.9" cy="1992.5" r="9.6" fill="#f0d7e4" fill-opacity="0.85" stroke="#111" stroke-width="1.3"/>
<circle cx="171.9" cy="2007.7" r="9.6" fill="#bb7ca0" fill-opacity="0.85" stroke="#111" stroke-width="1.3"/>
<circle cx="180.8" cy="1996.3" r="9.6" fill="#f0d7e4" fill-opacity="0.85" stroke="#111" stroke-width="1.3"/>
<circle cx="187.1" cy="1992.5" r="9.6" fill="#bb7ca0" fill-opacity="0.85" stroke="#111" stroke-width="1.3"/>
<circle cx="196.0" cy="1993.8" r="9.6" fill="#1b1728" fill-opacity="0.85" stroke="#111" stroke-width="1.3"/>
<circle cx="199.7" cy="1990.0" r="9.6" fill="#1b1728" fill-opacity="0.85" stroke="#111" stroke-width="1.3"/>
<circle cx="219.5" cy="1957.1" r="9.6" fill="#f0d7e4" fill-opacity="0.85" stroke="#111" stroke-width="1.3"/>
<circle cx="216.2" cy="1967.3" r="9.6" fill="#bb7ca0" fill-opacity="0.85" stroke="#111" stroke-width="1.3"/>
<circle cx="265.6" cy="1922.3" r="9.6" fill="#bb7ca0" fill-opacity="0.85" stroke="#111" stroke-width="1.3"/>
<circle cx="286.6" cy="1896.3" r="9.6" fill="#f0d7e4" fill-opacity="0.85" stroke="#111" stroke-width="1.3"/>
<circle cx="298.4" cy="1890.6" r="9.6" fill="#bb7ca0" fill-opacity="0.85" stroke="#111" stroke-width="1.3"/>
<circle cx="304.4" cy="1880.6" r="9.6" fill="#bb7ca0" fill-opacity="0.85" stroke="#111" stroke-width="1.3"/>
<circle cx="324.5" cy="1872.8" r="9.6" fill="#6d3275" fill-opacity="0.85" stroke="#111" stroke-width="1.3"/>
<circle cx="369.0" cy="1825.7" r="9.6" fill="#bb7ca0" fill-opacity="0.85" stroke="#111" stroke-width="1.3"/>
<circle cx="375.0" cy="1796.4" r="9.6" fill="#f0d7e4" fill-opacity="0.85" stroke="#111" stroke-width="1.3"/>
<circle cx="377.6" cy="1789.1" r="9.6" fill="#f0d7e4" fill-opacity="0.85" stroke="#111" stroke-width="1.3"/>
<circle cx="390.0" cy="1793.8" r="9.6" fill="#f0d7e4" fill-opacity="0.85" stroke="#111" stroke-width="1.3"/>
<circle cx="404.3" cy="1770.0" r="9.6" fill="#f0d7e4" fill-opacity="0.85" stroke="#111" stroke-width="1.3"/>
<circle cx="424.7" cy="1758.2" r="9.6" fill="#f0d7e4" fill-opacity="0.85" stroke="#111" stroke-width="1.3"/>
<circle cx="425.3" cy="1784.7" r="9.6" fill="#6d3275" fill-opacity="0.85" stroke="#111" stroke-width="1.3"/>
<circle cx="463.2" cy="1752.5" r="9.6" fill="#6d3275" fill-opacity="0.85" stroke="#111" stroke-width="1.3"/>
<circle cx="495.1" cy="1690.5" r="9.6" fill="#f0d7e4" fill-opacity="0.85" stroke="#111" stroke-width="1.3"/>
<line x1="118.6" y1="1639.0" x2="118.6" y2="2060.3" stroke="#1a1a1a" stroke-width="2.2"/>
<line x1="117.6" y1="2059.3" x2="537.4" y2="2059.3" stroke="#1a1a1a" stroke-width="2.2"/>
<line x1="113.4" y1="1747.0" x2="118.6" y2="1747.0" stroke="#333" stroke-width="2.6"/>
<text x="59.0" y="1754.1" font-size="28.5" text-anchor="start" fill="#505050" textLength="47.77" lengthAdjust="spacingAndGlyphs">100</text>
<line x1="113.4" y1="1893.6" x2="118.6" y2="1893.6" stroke="#333" stroke-width="2.6"/>
<text x="75.7" y="1900.8" font-size="28.5" text-anchor="start" fill="#505050" textLength="32.66" lengthAdjust="spacingAndGlyphs">50</text>
<line x1="113.4" y1="2040.3" x2="118.6" y2="2040.3" stroke="#333" stroke-width="2.6"/>
<text x="93.9" y="2048.2" font-size="28.5" text-anchor="start" fill="#505050" textLength="16.86" lengthAdjust="spacingAndGlyphs">0</text>
<line x1="136.5" y1="2059.3" x2="136.5" y2="2062.8" stroke="#333" stroke-width="2.6"/>
<text x="127.7" y="2089.8" font-size="28.5" text-anchor="start" fill="#505050" textLength="16.47" lengthAdjust="spacingAndGlyphs">0</text>
<line x1="283.6" y1="2059.3" x2="283.6" y2="2062.8" stroke="#333" stroke-width="2.6"/>
<text x="265.4" y="2089.8" font-size="28.5" text-anchor="start" fill="#505050" textLength="33.26" lengthAdjust="spacingAndGlyphs">50</text>
<line x1="430.0" y1="2059.3" x2="430.0" y2="2062.8" stroke="#333" stroke-width="2.6"/>
<text x="406.3" y="2089.8" font-size="28.5" text-anchor="start" fill="#505050" textLength="47.26" lengthAdjust="spacingAndGlyphs">100</text>
<text x="144.1" y="2130.2" font-size="28" text-anchor="start" fill="#000" textLength="379.12" lengthAdjust="spacingAndGlyphs">Cells quantified by Dispencell</text>
<text x="44.2" y="1825.1" font-size="29.5" text-anchor="middle" fill="#000" transform="rotate(-90 44.2 1825.1)" textLength="298" lengthAdjust="spacingAndGlyphs">Cells manually quantified</text>
<text x="159.1" y="1665.6" font-size="27" text-anchor="start" fill="#000" textLength="123.83" lengthAdjust="spacingAndGlyphs">Efficiency</text>
<circle cx="167.4" cy="1686.4" r="7.3" fill="#f3dde9" stroke="#111" stroke-width="1.2"/>
<text x="182.8" y="1697.9" font-size="27" text-anchor="start" fill="#000" textLength="147.33" lengthAdjust="spacingAndGlyphs">Above 95%</text>
<circle cx="167.4" cy="1714.7" r="7.3" fill="#c590ae" stroke="#111" stroke-width="1.2"/>
<text x="182.8" y="1726.1" font-size="27" text-anchor="start" fill="#000" textLength="129.93" lengthAdjust="spacingAndGlyphs">90 to 95%</text>
<circle cx="167.4" cy="1742.9" r="7.3" fill="#83518a" stroke="#111" stroke-width="1.2"/>
<text x="182.8" y="1754.3" font-size="27" text-anchor="start" fill="#000" textLength="129.93" lengthAdjust="spacingAndGlyphs">85 to 90%</text>
<circle cx="167.4" cy="1771.2" r="7.3" fill="#3d3a48" stroke="#111" stroke-width="1.2"/>
<text x="183.6" y="1782.4" font-size="27" text-anchor="start" fill="#000" textLength="143.23" lengthAdjust="spacingAndGlyphs">Below 85%</text>
<text x="579.5" y="1648.8" font-size="43" text-anchor="start" fill="#000" font-weight="bold">G</text>
<line x1="725.0" y1="2057.0" x2="1123.3" y2="1641.2" stroke="#d7262f" stroke-width="4"/>
<circle cx="799.6" cy="2012.8" r="11" fill="#efdde9" stroke="#000" stroke-width="3"/>
<circle cx="931.1" cy="1985.5" r="11" fill="#bd93ae" stroke="#000" stroke-width="3"/>
<circle cx="1068.4" cy="1904.8" r="11" fill="#efdde9" stroke="#000" stroke-width="3"/>
<line x1="725.4" y1="1641.6" x2="725.4" y2="2059.0" stroke="#000" stroke-width="4.5"/>
<line x1="723.0" y1="2057.0" x2="1140.2" y2="2057.0" stroke="#000" stroke-width="4.5"/>
<line x1="720.5" y1="1660.8" x2="724.0" y2="1660.8" stroke="#222" stroke-width="3"/>
<line x1="720.5" y1="1736.3" x2="724.0" y2="1736.3" stroke="#222" stroke-width="3"/>
<line x1="720.5" y1="1811.8" x2="724.0" y2="1811.8" stroke="#222" stroke-width="3"/>
<line x1="720.5" y1="1887.3" x2="724.0" y2="1887.3" stroke="#222" stroke-width="3"/>
<line x1="720.5" y1="1962.8" x2="724.0" y2="1962.8" stroke="#222" stroke-width="3"/>
<line x1="720.5" y1="2037.2" x2="724.0" y2="2037.2" stroke="#222" stroke-width="3"/>
<line x1="744.0" y1="2059.0" x2="744.0" y2="2062.5" stroke="#222" stroke-width="3"/>
<line x1="819.6" y1="2059.0" x2="819.6" y2="2062.5" stroke="#222" stroke-width="3"/>
<line x1="894.9" y1="2059.0" x2="894.9" y2="2062.5" stroke="#222" stroke-width="3"/>
<line x1="970.3" y1="2059.0" x2="970.3" y2="2062.5" stroke="#222" stroke-width="3"/>
<line x1="1045.4" y1="2059.0" x2="1045.4" y2="2062.5" stroke="#222" stroke-width="3"/>
<line x1="1121.2" y1="2059.0" x2="1121.2" y2="2062.5" stroke="#222" stroke-width="3"/>
<text x="655.8" y="1745.1" font-size="27" text-anchor="start" fill="#000" textLength="49.53" lengthAdjust="spacingAndGlyphs">200</text>
<text x="658.0" y="1897.2" font-size="27" text-anchor="start" fill="#000" textLength="47.33" lengthAdjust="spacingAndGlyphs">100</text>
<text x="695.3" y="2049.3" font-size="27" text-anchor="start" fill="#000" textLength="16.63" lengthAdjust="spacingAndGlyphs">0</text>
<text x="737.7" y="2095.0" font-size="27" text-anchor="start" fill="#000" textLength="16.13" lengthAdjust="spacingAndGlyphs">0</text>
<text x="867.2" y="2095.0" font-size="27" text-anchor="start" fill="#000" textLength="46.63" lengthAdjust="spacingAndGlyphs">100</text>
<text x="1021.4" y="2095.0" font-size="27" text-anchor="start" fill="#000" textLength="50.43" lengthAdjust="spacingAndGlyphs">200</text>
<text x="776.1" y="2138.0" font-size="27.5" text-anchor="start" fill="#000" textLength="273.08" lengthAdjust="spacingAndGlyphs">Number of input cells</text>
<text x="648.3" y="1854.5" font-size="29.5" text-anchor="middle" fill="#000" transform="rotate(-90 648.3 1854.5)" textLength="352" lengthAdjust="spacingAndGlyphs">Number of sequenced cells</text>
<text x="747.4" y="1669.4" font-size="26" text-anchor="start" fill="#000" textLength="123.04" lengthAdjust="spacingAndGlyphs">Efficiency</text>
<circle cx="759.1" cy="1699.0" r="12" fill="#efdde9" stroke="#5a5a5a" stroke-width="2.2"/>
<text x="786.1" y="1711.0" font-size="26" text-anchor="start" fill="#000" textLength="132.14" lengthAdjust="spacingAndGlyphs">40 to 50%</text>
<circle cx="759.1" cy="1739.5" r="12" fill="#bd93ae" stroke="#5a5a5a" stroke-width="2.2"/>
<text x="782.6" y="1751.6" font-size="26" text-anchor="start" fill="#000" textLength="145.64" lengthAdjust="spacingAndGlyphs">Below 30%</text>
</svg></body></html>
